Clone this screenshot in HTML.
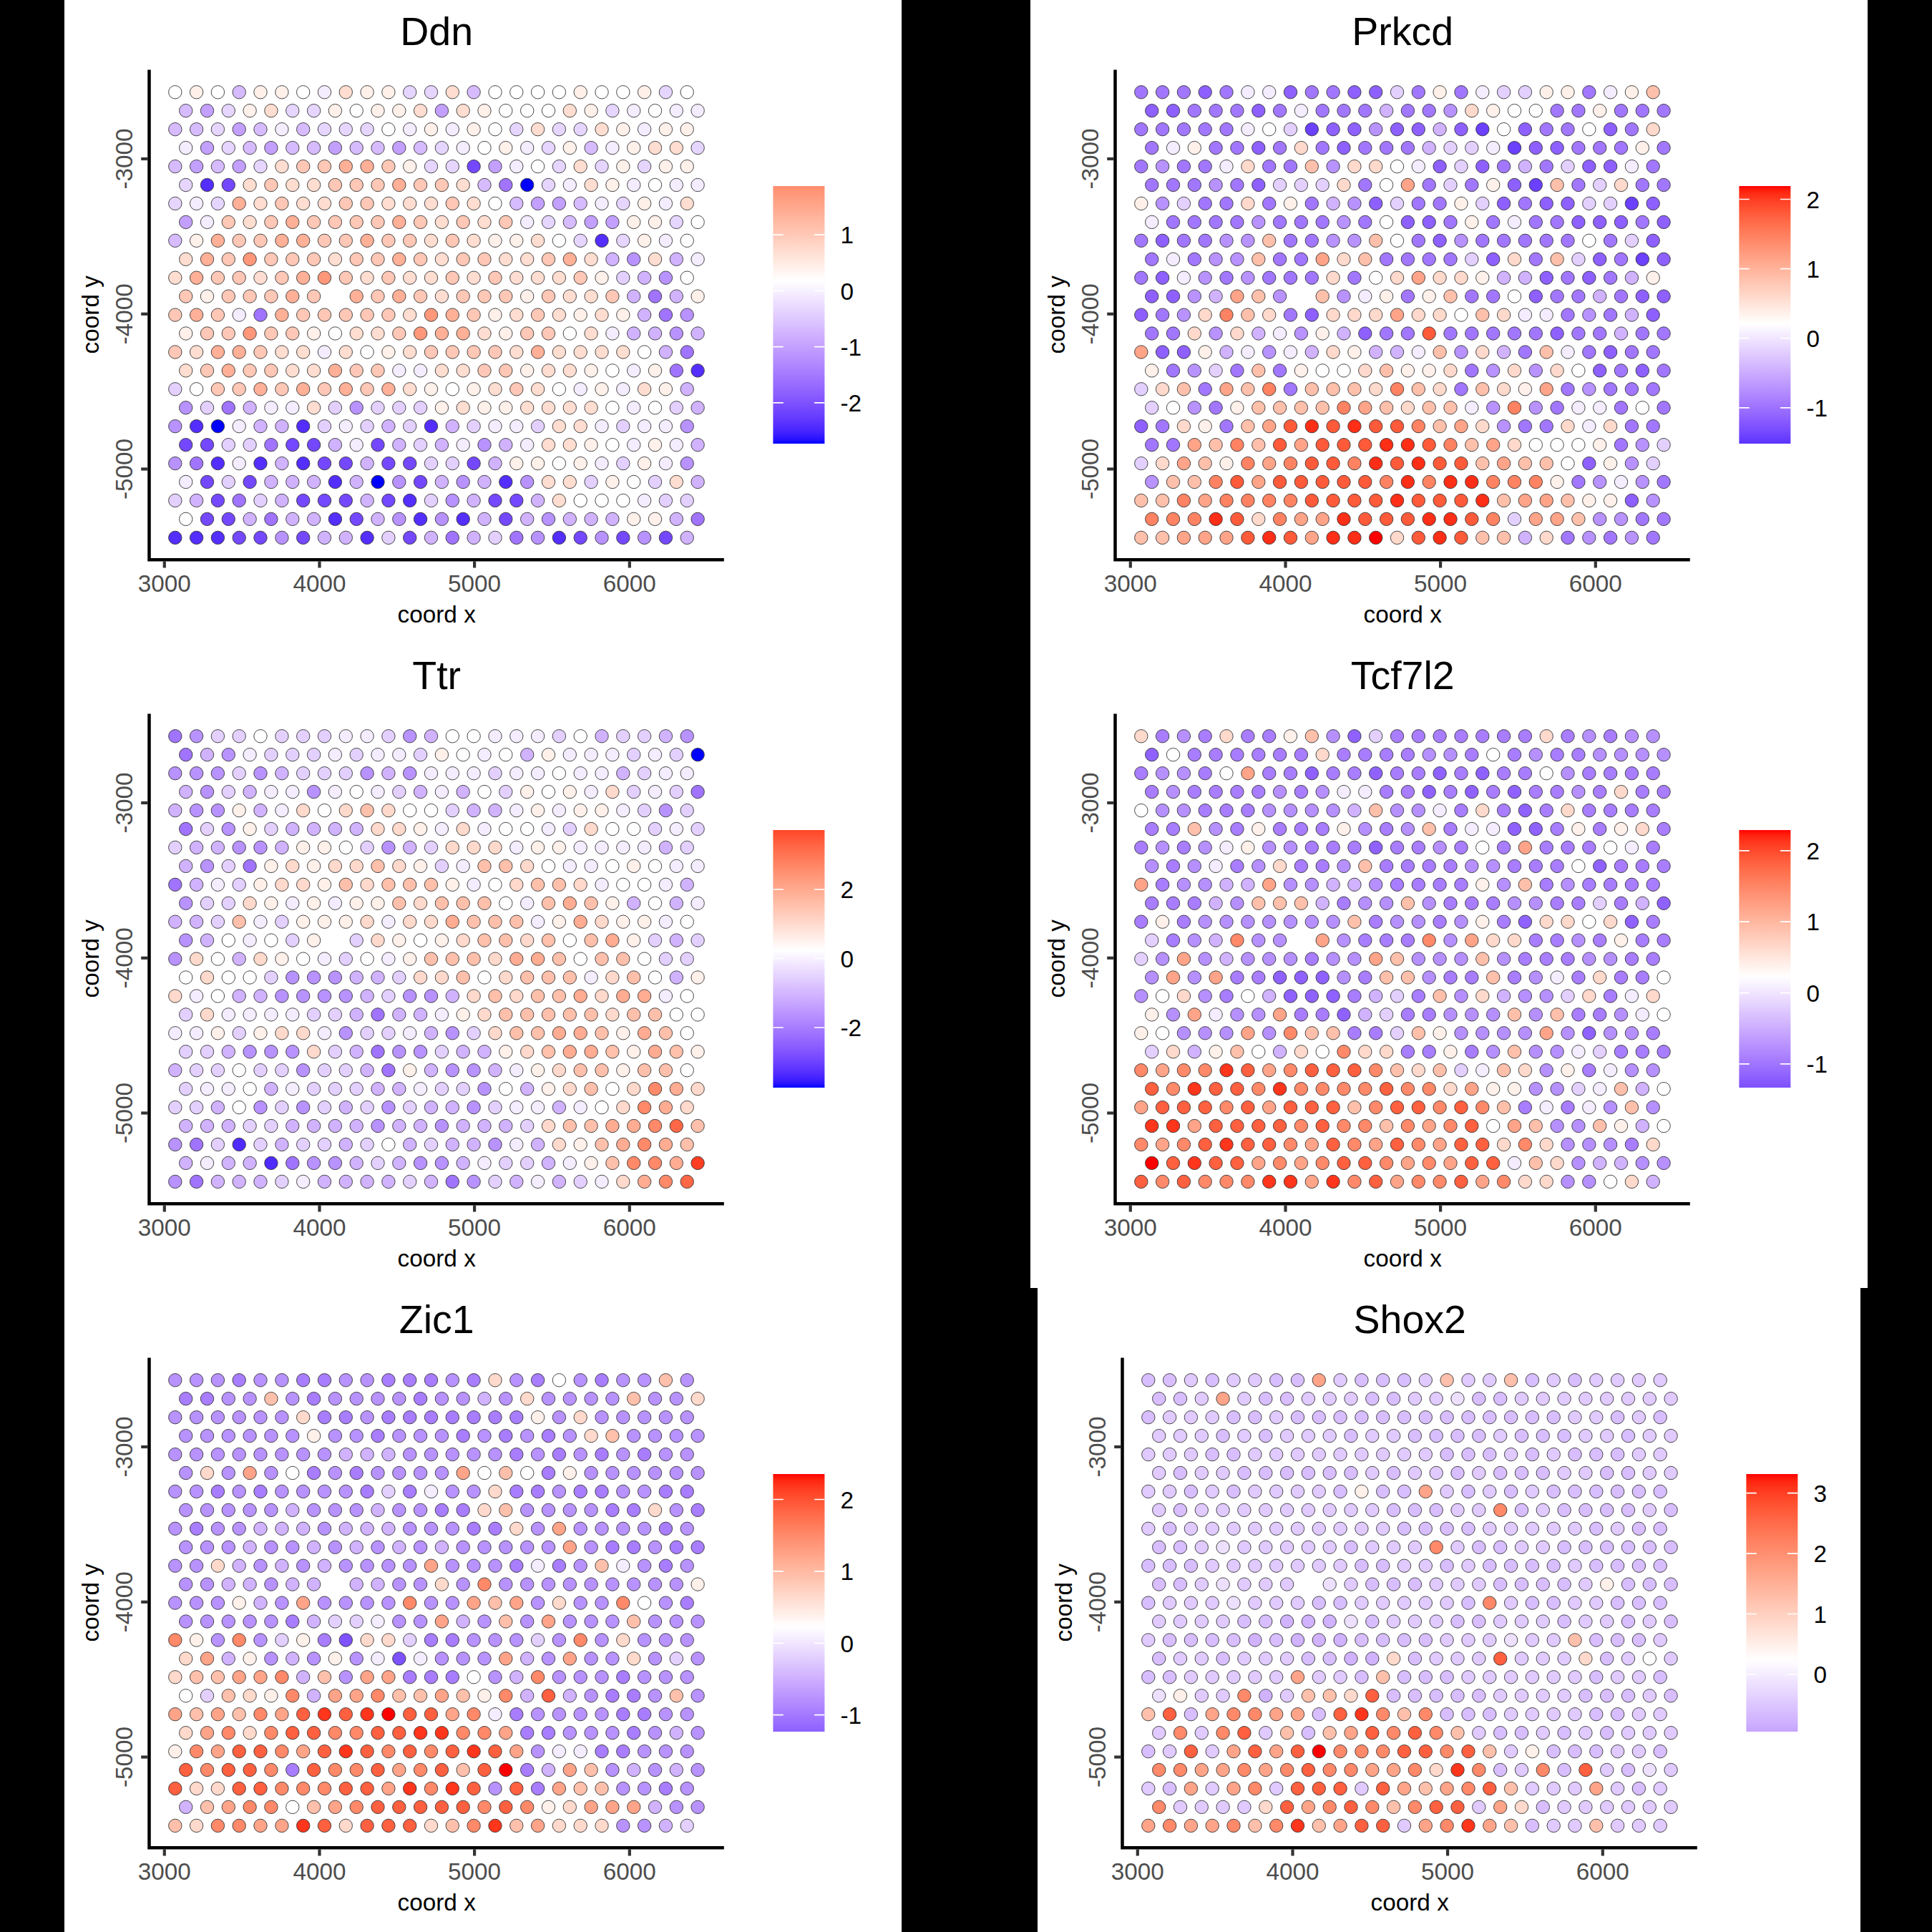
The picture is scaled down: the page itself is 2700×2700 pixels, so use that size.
<!DOCTYPE html>
<html><head><meta charset="utf-8"><title>spatial genes</title>
<style>
html,body{margin:0;padding:0;background:#000;}
svg{display:block;}
text{font-family:"Liberation Sans", sans-serif;}
.tk{fill:#4d4d4d;font-size:33.3px;}
.at{fill:#000;font-size:33.3px;}
.lg{fill:#000;font-size:33.3px;}
.ti{fill:#000;font-size:55.5px;}
circle{stroke:#333;stroke-width:0.9;}
</style></head><body>
<svg width="2700" height="2700" viewBox="0 0 2700 2700">
<rect x="0" y="0" width="2700" height="2700" fill="#000"/>
<defs>
<linearGradient id="g0" x1="0" y1="0" x2="0" y2="1"><stop offset="0.0000" stop-color="#ff8d6e"/><stop offset="0.0167" stop-color="#ff9374"/><stop offset="0.0333" stop-color="#ff987b"/><stop offset="0.0500" stop-color="#ff9e81"/><stop offset="0.0667" stop-color="#ffa387"/><stop offset="0.0833" stop-color="#ffa88e"/><stop offset="0.1000" stop-color="#ffad94"/><stop offset="0.1167" stop-color="#ffb39a"/><stop offset="0.1333" stop-color="#ffb8a1"/><stop offset="0.1500" stop-color="#ffbda7"/><stop offset="0.1667" stop-color="#ffc2ae"/><stop offset="0.1833" stop-color="#ffc7b4"/><stop offset="0.2000" stop-color="#ffccbb"/><stop offset="0.2167" stop-color="#ffd1c2"/><stop offset="0.2333" stop-color="#ffd7c8"/><stop offset="0.2500" stop-color="#ffdccf"/><stop offset="0.2667" stop-color="#ffe1d6"/><stop offset="0.2833" stop-color="#ffe6dc"/><stop offset="0.3000" stop-color="#ffebe3"/><stop offset="0.3167" stop-color="#fff0ea"/><stop offset="0.3333" stop-color="#fff5f1"/><stop offset="0.3500" stop-color="#fffaf8"/><stop offset="0.3667" stop-color="#ffffff"/><stop offset="0.3833" stop-color="#fcf9ff"/><stop offset="0.4000" stop-color="#f8f3ff"/><stop offset="0.4167" stop-color="#f5edff"/><stop offset="0.4333" stop-color="#f1e6ff"/><stop offset="0.4500" stop-color="#ede0ff"/><stop offset="0.4667" stop-color="#eadaff"/><stop offset="0.4833" stop-color="#e6d4ff"/><stop offset="0.5000" stop-color="#e2ceff"/><stop offset="0.5167" stop-color="#dec8ff"/><stop offset="0.5333" stop-color="#dac2ff"/><stop offset="0.5500" stop-color="#d6bcff"/><stop offset="0.5667" stop-color="#d2b5ff"/><stop offset="0.5833" stop-color="#ceafff"/><stop offset="0.6000" stop-color="#caa9ff"/><stop offset="0.6167" stop-color="#c5a3ff"/><stop offset="0.6333" stop-color="#c19dff"/><stop offset="0.6500" stop-color="#bc97ff"/><stop offset="0.6667" stop-color="#b891ff"/><stop offset="0.6833" stop-color="#b38bff"/><stop offset="0.7000" stop-color="#ae85ff"/><stop offset="0.7167" stop-color="#a97fff"/><stop offset="0.7333" stop-color="#a479ff"/><stop offset="0.7500" stop-color="#9f73ff"/><stop offset="0.7667" stop-color="#996dff"/><stop offset="0.7833" stop-color="#9467ff"/><stop offset="0.8000" stop-color="#8e61ff"/><stop offset="0.8167" stop-color="#885bff"/><stop offset="0.8333" stop-color="#8255ff"/><stop offset="0.8500" stop-color="#7b4eff"/><stop offset="0.8667" stop-color="#7448ff"/><stop offset="0.8833" stop-color="#6c42ff"/><stop offset="0.9000" stop-color="#643bff"/><stop offset="0.9167" stop-color="#5c34ff"/><stop offset="0.9333" stop-color="#522cff"/><stop offset="0.9500" stop-color="#4725ff"/><stop offset="0.9667" stop-color="#391cff"/><stop offset="0.9833" stop-color="#2710ff"/><stop offset="1.0000" stop-color="#0000ff"/></linearGradient>
<linearGradient id="g1" x1="0" y1="0" x2="0" y2="1"><stop offset="0.0000" stop-color="#ff0000"/><stop offset="0.0167" stop-color="#ff1f0c"/><stop offset="0.0333" stop-color="#ff2f17"/><stop offset="0.0500" stop-color="#ff3b20"/><stop offset="0.0667" stop-color="#ff4628"/><stop offset="0.0833" stop-color="#ff4f30"/><stop offset="0.1000" stop-color="#ff5837"/><stop offset="0.1167" stop-color="#ff603f"/><stop offset="0.1333" stop-color="#ff6746"/><stop offset="0.1500" stop-color="#ff6f4d"/><stop offset="0.1667" stop-color="#ff7655"/><stop offset="0.1833" stop-color="#ff7d5c"/><stop offset="0.2000" stop-color="#ff8463"/><stop offset="0.2167" stop-color="#ff8a6b"/><stop offset="0.2333" stop-color="#ff9172"/><stop offset="0.2500" stop-color="#ff977a"/><stop offset="0.2667" stop-color="#ff9e81"/><stop offset="0.2833" stop-color="#ffa489"/><stop offset="0.3000" stop-color="#ffaa90"/><stop offset="0.3167" stop-color="#ffb198"/><stop offset="0.3333" stop-color="#ffb79f"/><stop offset="0.3500" stop-color="#ffbda7"/><stop offset="0.3667" stop-color="#ffc3af"/><stop offset="0.3833" stop-color="#ffc9b7"/><stop offset="0.4000" stop-color="#ffcfbe"/><stop offset="0.4167" stop-color="#ffd5c6"/><stop offset="0.4333" stop-color="#ffdbce"/><stop offset="0.4500" stop-color="#ffe1d6"/><stop offset="0.4667" stop-color="#ffe7de"/><stop offset="0.4833" stop-color="#ffede6"/><stop offset="0.5000" stop-color="#fff3ee"/><stop offset="0.5167" stop-color="#fff9f6"/><stop offset="0.5333" stop-color="#ffffff"/><stop offset="0.5500" stop-color="#fbf8ff"/><stop offset="0.5667" stop-color="#f7f1ff"/><stop offset="0.5833" stop-color="#f3e9ff"/><stop offset="0.6000" stop-color="#eee2ff"/><stop offset="0.6167" stop-color="#eadbff"/><stop offset="0.6333" stop-color="#e5d3ff"/><stop offset="0.6500" stop-color="#e1ccff"/><stop offset="0.6667" stop-color="#dcc5ff"/><stop offset="0.6833" stop-color="#d8beff"/><stop offset="0.7000" stop-color="#d3b7ff"/><stop offset="0.7167" stop-color="#ceafff"/><stop offset="0.7333" stop-color="#c9a8ff"/><stop offset="0.7500" stop-color="#c4a1ff"/><stop offset="0.7667" stop-color="#be9aff"/><stop offset="0.7833" stop-color="#b993ff"/><stop offset="0.8000" stop-color="#b38cff"/><stop offset="0.8167" stop-color="#ae85ff"/><stop offset="0.8333" stop-color="#a87dff"/><stop offset="0.8500" stop-color="#a176ff"/><stop offset="0.8667" stop-color="#9b6fff"/><stop offset="0.8833" stop-color="#9568ff"/><stop offset="0.9000" stop-color="#8e61ff"/><stop offset="0.9167" stop-color="#8659ff"/><stop offset="0.9333" stop-color="#7f52ff"/><stop offset="0.9500" stop-color="#774bff"/><stop offset="0.9667" stop-color="#6e43ff"/><stop offset="0.9833" stop-color="#653bff"/><stop offset="1.0000" stop-color="#5a33ff"/></linearGradient>
<linearGradient id="g2" x1="0" y1="0" x2="0" y2="1"><stop offset="0.0000" stop-color="#ff4628"/><stop offset="0.0167" stop-color="#ff4f30"/><stop offset="0.0333" stop-color="#ff5838"/><stop offset="0.0500" stop-color="#ff603f"/><stop offset="0.0667" stop-color="#ff6846"/><stop offset="0.0833" stop-color="#ff6f4e"/><stop offset="0.1000" stop-color="#ff7655"/><stop offset="0.1167" stop-color="#ff7d5c"/><stop offset="0.1333" stop-color="#ff8464"/><stop offset="0.1500" stop-color="#ff8b6b"/><stop offset="0.1667" stop-color="#ff9172"/><stop offset="0.1833" stop-color="#ff987a"/><stop offset="0.2000" stop-color="#ff9e81"/><stop offset="0.2167" stop-color="#ffa489"/><stop offset="0.2333" stop-color="#ffab90"/><stop offset="0.2500" stop-color="#ffb198"/><stop offset="0.2667" stop-color="#ffb7a0"/><stop offset="0.2833" stop-color="#ffbda7"/><stop offset="0.3000" stop-color="#ffc3af"/><stop offset="0.3167" stop-color="#ffc9b7"/><stop offset="0.3333" stop-color="#ffcfbf"/><stop offset="0.3500" stop-color="#ffd5c7"/><stop offset="0.3667" stop-color="#ffdbcf"/><stop offset="0.3833" stop-color="#ffe1d7"/><stop offset="0.4000" stop-color="#ffe7df"/><stop offset="0.4167" stop-color="#ffede7"/><stop offset="0.4333" stop-color="#fff3ef"/><stop offset="0.4500" stop-color="#fff9f7"/><stop offset="0.4667" stop-color="#ffffff"/><stop offset="0.4833" stop-color="#fbf8ff"/><stop offset="0.5000" stop-color="#f7f0ff"/><stop offset="0.5167" stop-color="#f2e9ff"/><stop offset="0.5333" stop-color="#eee1ff"/><stop offset="0.5500" stop-color="#eadaff"/><stop offset="0.5667" stop-color="#e5d3ff"/><stop offset="0.5833" stop-color="#e1ccff"/><stop offset="0.6000" stop-color="#dcc4ff"/><stop offset="0.6167" stop-color="#d7bdff"/><stop offset="0.6333" stop-color="#d2b6ff"/><stop offset="0.6500" stop-color="#cdafff"/><stop offset="0.6667" stop-color="#c8a8ff"/><stop offset="0.6833" stop-color="#c3a1ff"/><stop offset="0.7000" stop-color="#be99ff"/><stop offset="0.7167" stop-color="#b892ff"/><stop offset="0.7333" stop-color="#b38bff"/><stop offset="0.7500" stop-color="#ad84ff"/><stop offset="0.7667" stop-color="#a77dff"/><stop offset="0.7833" stop-color="#a176ff"/><stop offset="0.8000" stop-color="#9b6fff"/><stop offset="0.8167" stop-color="#9467ff"/><stop offset="0.8333" stop-color="#8d60ff"/><stop offset="0.8500" stop-color="#8659ff"/><stop offset="0.8667" stop-color="#7e51ff"/><stop offset="0.8833" stop-color="#764aff"/><stop offset="0.9000" stop-color="#6d42ff"/><stop offset="0.9167" stop-color="#643aff"/><stop offset="0.9333" stop-color="#5932ff"/><stop offset="0.9500" stop-color="#4d29ff"/><stop offset="0.9667" stop-color="#3f1fff"/><stop offset="0.9833" stop-color="#2b13ff"/><stop offset="1.0000" stop-color="#0000ff"/></linearGradient>
<linearGradient id="g3" x1="0" y1="0" x2="0" y2="1"><stop offset="0.0000" stop-color="#ff0000"/><stop offset="0.0167" stop-color="#ff1e0c"/><stop offset="0.0333" stop-color="#ff2d16"/><stop offset="0.0500" stop-color="#ff391e"/><stop offset="0.0667" stop-color="#ff4326"/><stop offset="0.0833" stop-color="#ff4c2d"/><stop offset="0.1000" stop-color="#ff5535"/><stop offset="0.1167" stop-color="#ff5c3c"/><stop offset="0.1333" stop-color="#ff6443"/><stop offset="0.1500" stop-color="#ff6b49"/><stop offset="0.1667" stop-color="#ff7250"/><stop offset="0.1833" stop-color="#ff7857"/><stop offset="0.2000" stop-color="#ff7f5e"/><stop offset="0.2167" stop-color="#ff8565"/><stop offset="0.2333" stop-color="#ff8b6c"/><stop offset="0.2500" stop-color="#ff9273"/><stop offset="0.2667" stop-color="#ff987a"/><stop offset="0.2833" stop-color="#ff9e81"/><stop offset="0.3000" stop-color="#ffa388"/><stop offset="0.3167" stop-color="#ffa98f"/><stop offset="0.3333" stop-color="#ffaf96"/><stop offset="0.3500" stop-color="#ffb59d"/><stop offset="0.3667" stop-color="#ffbba4"/><stop offset="0.3833" stop-color="#ffc0ac"/><stop offset="0.4000" stop-color="#ffc6b3"/><stop offset="0.4167" stop-color="#ffccba"/><stop offset="0.4333" stop-color="#ffd1c2"/><stop offset="0.4500" stop-color="#ffd7c9"/><stop offset="0.4667" stop-color="#ffddd1"/><stop offset="0.4833" stop-color="#ffe2d8"/><stop offset="0.5000" stop-color="#ffe8e0"/><stop offset="0.5167" stop-color="#ffeee7"/><stop offset="0.5333" stop-color="#fff3ef"/><stop offset="0.5500" stop-color="#fff9f6"/><stop offset="0.5667" stop-color="#fffefe"/><stop offset="0.5833" stop-color="#fcf9ff"/><stop offset="0.6000" stop-color="#f8f2ff"/><stop offset="0.6167" stop-color="#f4ebff"/><stop offset="0.6333" stop-color="#f0e4ff"/><stop offset="0.6500" stop-color="#ecddff"/><stop offset="0.6667" stop-color="#e7d7ff"/><stop offset="0.6833" stop-color="#e3d0ff"/><stop offset="0.7000" stop-color="#dfc9ff"/><stop offset="0.7167" stop-color="#dac2ff"/><stop offset="0.7333" stop-color="#d6bbff"/><stop offset="0.7500" stop-color="#d1b5ff"/><stop offset="0.7667" stop-color="#cdaeff"/><stop offset="0.7833" stop-color="#c8a7ff"/><stop offset="0.8000" stop-color="#c3a0ff"/><stop offset="0.8167" stop-color="#be9aff"/><stop offset="0.8333" stop-color="#b993ff"/><stop offset="0.8500" stop-color="#b48cff"/><stop offset="0.8667" stop-color="#ae86ff"/><stop offset="0.8833" stop-color="#a97fff"/><stop offset="0.9000" stop-color="#a378ff"/><stop offset="0.9167" stop-color="#9d72ff"/><stop offset="0.9333" stop-color="#976bff"/><stop offset="0.9500" stop-color="#9164ff"/><stop offset="0.9667" stop-color="#8a5dff"/><stop offset="0.9833" stop-color="#8356ff"/><stop offset="1.0000" stop-color="#7c50ff"/></linearGradient>
<linearGradient id="g4" x1="0" y1="0" x2="0" y2="1"><stop offset="0.0000" stop-color="#ff0000"/><stop offset="0.0167" stop-color="#ff1d0b"/><stop offset="0.0333" stop-color="#ff2c15"/><stop offset="0.0500" stop-color="#ff381d"/><stop offset="0.0667" stop-color="#ff4225"/><stop offset="0.0833" stop-color="#ff4b2c"/><stop offset="0.1000" stop-color="#ff5333"/><stop offset="0.1167" stop-color="#ff5a3a"/><stop offset="0.1333" stop-color="#ff6140"/><stop offset="0.1500" stop-color="#ff6847"/><stop offset="0.1667" stop-color="#ff6f4e"/><stop offset="0.1833" stop-color="#ff7554"/><stop offset="0.2000" stop-color="#ff7c5b"/><stop offset="0.2167" stop-color="#ff8261"/><stop offset="0.2333" stop-color="#ff8868"/><stop offset="0.2500" stop-color="#ff8e6f"/><stop offset="0.2667" stop-color="#ff9475"/><stop offset="0.2833" stop-color="#ff9a7c"/><stop offset="0.3000" stop-color="#ff9f83"/><stop offset="0.3167" stop-color="#ffa58a"/><stop offset="0.3333" stop-color="#ffab90"/><stop offset="0.3500" stop-color="#ffb097"/><stop offset="0.3667" stop-color="#ffb69e"/><stop offset="0.3833" stop-color="#ffbba5"/><stop offset="0.4000" stop-color="#ffc1ac"/><stop offset="0.4167" stop-color="#ffc6b3"/><stop offset="0.4333" stop-color="#ffccba"/><stop offset="0.4500" stop-color="#ffd1c1"/><stop offset="0.4667" stop-color="#ffd7c8"/><stop offset="0.4833" stop-color="#ffdccf"/><stop offset="0.5000" stop-color="#ffe1d7"/><stop offset="0.5167" stop-color="#ffe7de"/><stop offset="0.5333" stop-color="#ffece5"/><stop offset="0.5500" stop-color="#fff1ec"/><stop offset="0.5667" stop-color="#fff7f4"/><stop offset="0.5833" stop-color="#fffcfb"/><stop offset="0.6000" stop-color="#fdfcff"/><stop offset="0.6167" stop-color="#faf5ff"/><stop offset="0.6333" stop-color="#f6efff"/><stop offset="0.6500" stop-color="#f2e8ff"/><stop offset="0.6667" stop-color="#eee1ff"/><stop offset="0.6833" stop-color="#eadbff"/><stop offset="0.7000" stop-color="#e6d4ff"/><stop offset="0.7167" stop-color="#e2ceff"/><stop offset="0.7333" stop-color="#dec7ff"/><stop offset="0.7500" stop-color="#d9c1ff"/><stop offset="0.7667" stop-color="#d5baff"/><stop offset="0.7833" stop-color="#d1b4ff"/><stop offset="0.8000" stop-color="#ccadff"/><stop offset="0.8167" stop-color="#c8a7ff"/><stop offset="0.8333" stop-color="#c3a0ff"/><stop offset="0.8500" stop-color="#be9aff"/><stop offset="0.8667" stop-color="#b993ff"/><stop offset="0.8833" stop-color="#b48dff"/><stop offset="0.9000" stop-color="#af87ff"/><stop offset="0.9167" stop-color="#aa80ff"/><stop offset="0.9333" stop-color="#a47aff"/><stop offset="0.9500" stop-color="#9f73ff"/><stop offset="0.9667" stop-color="#996dff"/><stop offset="0.9833" stop-color="#9366ff"/><stop offset="1.0000" stop-color="#8d60ff"/></linearGradient>
<linearGradient id="g5" x1="0" y1="0" x2="0" y2="1"><stop offset="0.0000" stop-color="#ff0000"/><stop offset="0.0167" stop-color="#ff1a09"/><stop offset="0.0333" stop-color="#ff2812"/><stop offset="0.0500" stop-color="#ff3219"/><stop offset="0.0667" stop-color="#ff3b20"/><stop offset="0.0833" stop-color="#ff4326"/><stop offset="0.1000" stop-color="#ff4a2b"/><stop offset="0.1167" stop-color="#ff5131"/><stop offset="0.1333" stop-color="#ff5737"/><stop offset="0.1500" stop-color="#ff5d3c"/><stop offset="0.1667" stop-color="#ff6342"/><stop offset="0.1833" stop-color="#ff6947"/><stop offset="0.2000" stop-color="#ff6e4d"/><stop offset="0.2167" stop-color="#ff7352"/><stop offset="0.2333" stop-color="#ff7957"/><stop offset="0.2500" stop-color="#ff7e5d"/><stop offset="0.2667" stop-color="#ff8362"/><stop offset="0.2833" stop-color="#ff8868"/><stop offset="0.3000" stop-color="#ff8d6d"/><stop offset="0.3167" stop-color="#ff9173"/><stop offset="0.3333" stop-color="#ff9678"/><stop offset="0.3500" stop-color="#ff9b7e"/><stop offset="0.3667" stop-color="#ffa083"/><stop offset="0.3833" stop-color="#ffa489"/><stop offset="0.4000" stop-color="#ffa98e"/><stop offset="0.4167" stop-color="#ffad94"/><stop offset="0.4333" stop-color="#ffb29a"/><stop offset="0.4500" stop-color="#ffb79f"/><stop offset="0.4667" stop-color="#ffbba5"/><stop offset="0.4833" stop-color="#ffc0ab"/><stop offset="0.5000" stop-color="#ffc4b0"/><stop offset="0.5167" stop-color="#ffc9b6"/><stop offset="0.5333" stop-color="#ffcdbc"/><stop offset="0.5500" stop-color="#ffd2c2"/><stop offset="0.5667" stop-color="#ffd6c8"/><stop offset="0.5833" stop-color="#ffdace"/><stop offset="0.6000" stop-color="#ffdfd3"/><stop offset="0.6167" stop-color="#ffe3d9"/><stop offset="0.6333" stop-color="#ffe8df"/><stop offset="0.6500" stop-color="#ffece5"/><stop offset="0.6667" stop-color="#fff1eb"/><stop offset="0.6833" stop-color="#fff5f1"/><stop offset="0.7000" stop-color="#fff9f7"/><stop offset="0.7167" stop-color="#fffefd"/><stop offset="0.7333" stop-color="#fdfbff"/><stop offset="0.7500" stop-color="#faf6ff"/><stop offset="0.7667" stop-color="#f7f0ff"/><stop offset="0.7833" stop-color="#f4ebff"/><stop offset="0.8000" stop-color="#f0e5ff"/><stop offset="0.8167" stop-color="#ede0ff"/><stop offset="0.8333" stop-color="#eadaff"/><stop offset="0.8500" stop-color="#e7d5ff"/><stop offset="0.8667" stop-color="#e3d0ff"/><stop offset="0.8833" stop-color="#e0caff"/><stop offset="0.9000" stop-color="#dcc5ff"/><stop offset="0.9167" stop-color="#d9c0ff"/><stop offset="0.9333" stop-color="#d5baff"/><stop offset="0.9500" stop-color="#d2b5ff"/><stop offset="0.9667" stop-color="#ceb0ff"/><stop offset="0.9833" stop-color="#caaaff"/><stop offset="1.0000" stop-color="#c7a5ff"/></linearGradient>
</defs>
<g transform="translate(0,0)">
<rect x="90" y="0" width="1170" height="900" fill="#fff"/>
<g transform="translate(0,0)">
<text class="ti" x="610.2" y="63.1" text-anchor="middle">Ddn</text>
<circle cx="244.8" cy="128.8" r="9.2" fill="#ffffff"/><circle cx="274.6" cy="128.8" r="9.2" fill="#fff0ea"/><circle cx="304.4" cy="128.8" r="9.2" fill="#ffffff"/><circle cx="334.2" cy="128.8" r="9.2" fill="#d6bbff"/><circle cx="364.0" cy="128.8" r="9.2" fill="#fff0ea"/><circle cx="393.9" cy="128.8" r="9.2" fill="#fff0ea"/><circle cx="423.7" cy="128.8" r="9.2" fill="#ffffff"/><circle cx="453.5" cy="128.8" r="9.2" fill="#f4ecff"/><circle cx="483.3" cy="128.8" r="9.2" fill="#ffddd0"/><circle cx="513.1" cy="128.8" r="9.2" fill="#fff0ea"/><circle cx="542.9" cy="128.8" r="9.2" fill="#fff0ea"/><circle cx="572.7" cy="128.8" r="9.2" fill="#e6d5ff"/><circle cx="602.5" cy="128.8" r="9.2" fill="#e6d5ff"/><circle cx="632.3" cy="128.8" r="9.2" fill="#ffddd0"/><circle cx="662.1" cy="128.8" r="9.2" fill="#d6bbff"/><circle cx="692.0" cy="128.8" r="9.2" fill="#ffffff"/><circle cx="721.8" cy="128.8" r="9.2" fill="#ffffff"/><circle cx="751.6" cy="128.8" r="9.2" fill="#ffffff"/><circle cx="781.4" cy="128.8" r="9.2" fill="#ffffff"/><circle cx="811.2" cy="128.8" r="9.2" fill="#fff0ea"/><circle cx="841.0" cy="128.8" r="9.2" fill="#ffffff"/><circle cx="870.8" cy="128.8" r="9.2" fill="#ffffff"/><circle cx="900.6" cy="128.8" r="9.2" fill="#fff0ea"/><circle cx="930.4" cy="128.8" r="9.2" fill="#e6d5ff"/><circle cx="960.2" cy="128.8" r="9.2" fill="#ffffff"/>
<circle cx="259.7" cy="154.7" r="9.2" fill="#d6bbff"/><circle cx="289.5" cy="154.7" r="9.2" fill="#c3a0ff"/><circle cx="319.3" cy="154.7" r="9.2" fill="#e6d5ff"/><circle cx="349.1" cy="154.7" r="9.2" fill="#fff0ea"/><circle cx="378.9" cy="154.7" r="9.2" fill="#ffddd0"/><circle cx="408.8" cy="154.7" r="9.2" fill="#e6d5ff"/><circle cx="438.6" cy="154.7" r="9.2" fill="#e6d5ff"/><circle cx="468.4" cy="154.7" r="9.2" fill="#fff0ea"/><circle cx="498.2" cy="154.7" r="9.2" fill="#ffffff"/><circle cx="528.0" cy="154.7" r="9.2" fill="#fff0ea"/><circle cx="557.8" cy="154.7" r="9.2" fill="#fff0ea"/><circle cx="587.6" cy="154.7" r="9.2" fill="#ffddd0"/><circle cx="617.4" cy="154.7" r="9.2" fill="#c3a0ff"/><circle cx="647.2" cy="154.7" r="9.2" fill="#ffddd0"/><circle cx="677.0" cy="154.7" r="9.2" fill="#fff0ea"/><circle cx="706.8" cy="154.7" r="9.2" fill="#ffffff"/><circle cx="736.7" cy="154.7" r="9.2" fill="#ffffff"/><circle cx="766.5" cy="154.7" r="9.2" fill="#ffffff"/><circle cx="796.3" cy="154.7" r="9.2" fill="#ffddd0"/><circle cx="826.1" cy="154.7" r="9.2" fill="#fff0ea"/><circle cx="855.9" cy="154.7" r="9.2" fill="#e6d5ff"/><circle cx="885.7" cy="154.7" r="9.2" fill="#f4ecff"/><circle cx="915.5" cy="154.7" r="9.2" fill="#ffffff"/><circle cx="945.3" cy="154.7" r="9.2" fill="#f4ecff"/><circle cx="975.1" cy="154.7" r="9.2" fill="#f4ecff"/>
<circle cx="244.8" cy="180.7" r="9.2" fill="#d6bbff"/><circle cx="274.6" cy="180.7" r="9.2" fill="#d6bbff"/><circle cx="304.4" cy="180.7" r="9.2" fill="#e6d5ff"/><circle cx="334.2" cy="180.7" r="9.2" fill="#c3a0ff"/><circle cx="364.0" cy="180.7" r="9.2" fill="#d6bbff"/><circle cx="393.9" cy="180.7" r="9.2" fill="#f4ecff"/><circle cx="423.7" cy="180.7" r="9.2" fill="#d6bbff"/><circle cx="453.5" cy="180.7" r="9.2" fill="#e6d5ff"/><circle cx="483.3" cy="180.7" r="9.2" fill="#e6d5ff"/><circle cx="513.1" cy="180.7" r="9.2" fill="#e6d5ff"/><circle cx="542.9" cy="180.7" r="9.2" fill="#ffffff"/><circle cx="572.7" cy="180.7" r="9.2" fill="#f4ecff"/><circle cx="602.5" cy="180.7" r="9.2" fill="#fff0ea"/><circle cx="632.3" cy="180.7" r="9.2" fill="#f4ecff"/><circle cx="662.1" cy="180.7" r="9.2" fill="#fff0ea"/><circle cx="692.0" cy="180.7" r="9.2" fill="#ffffff"/><circle cx="721.8" cy="180.7" r="9.2" fill="#e6d5ff"/><circle cx="751.6" cy="180.7" r="9.2" fill="#ffddd0"/><circle cx="781.4" cy="180.7" r="9.2" fill="#e6d5ff"/><circle cx="811.2" cy="180.7" r="9.2" fill="#e6d5ff"/><circle cx="841.0" cy="180.7" r="9.2" fill="#ffddd0"/><circle cx="870.8" cy="180.7" r="9.2" fill="#fff0ea"/><circle cx="900.6" cy="180.7" r="9.2" fill="#f4ecff"/><circle cx="930.4" cy="180.7" r="9.2" fill="#fff0ea"/><circle cx="960.2" cy="180.7" r="9.2" fill="#fff0ea"/>
<circle cx="259.7" cy="206.6" r="9.2" fill="#f4ecff"/><circle cx="289.5" cy="206.6" r="9.2" fill="#c3a0ff"/><circle cx="319.3" cy="206.6" r="9.2" fill="#e6d5ff"/><circle cx="349.1" cy="206.6" r="9.2" fill="#d6bbff"/><circle cx="378.9" cy="206.6" r="9.2" fill="#c3a0ff"/><circle cx="408.8" cy="206.6" r="9.2" fill="#d6bbff"/><circle cx="438.6" cy="206.6" r="9.2" fill="#d6bbff"/><circle cx="468.4" cy="206.6" r="9.2" fill="#c3a0ff"/><circle cx="498.2" cy="206.6" r="9.2" fill="#d6bbff"/><circle cx="528.0" cy="206.6" r="9.2" fill="#d6bbff"/><circle cx="557.8" cy="206.6" r="9.2" fill="#c3a0ff"/><circle cx="587.6" cy="206.6" r="9.2" fill="#d6bbff"/><circle cx="617.4" cy="206.6" r="9.2" fill="#e6d5ff"/><circle cx="647.2" cy="206.6" r="9.2" fill="#f4ecff"/><circle cx="677.0" cy="206.6" r="9.2" fill="#ffffff"/><circle cx="706.8" cy="206.6" r="9.2" fill="#fff0ea"/><circle cx="736.7" cy="206.6" r="9.2" fill="#f4ecff"/><circle cx="766.5" cy="206.6" r="9.2" fill="#e6d5ff"/><circle cx="796.3" cy="206.6" r="9.2" fill="#fff0ea"/><circle cx="826.1" cy="206.6" r="9.2" fill="#d6bbff"/><circle cx="855.9" cy="206.6" r="9.2" fill="#f4ecff"/><circle cx="885.7" cy="206.6" r="9.2" fill="#fff0ea"/><circle cx="915.5" cy="206.6" r="9.2" fill="#ffddd0"/><circle cx="945.3" cy="206.6" r="9.2" fill="#ffddd0"/><circle cx="975.1" cy="206.6" r="9.2" fill="#e6d5ff"/>
<circle cx="244.8" cy="232.6" r="9.2" fill="#d6bbff"/><circle cx="274.6" cy="232.6" r="9.2" fill="#c3a0ff"/><circle cx="304.4" cy="232.6" r="9.2" fill="#d6bbff"/><circle cx="334.2" cy="232.6" r="9.2" fill="#c3a0ff"/><circle cx="364.0" cy="232.6" r="9.2" fill="#e6d5ff"/><circle cx="393.9" cy="232.6" r="9.2" fill="#ffddd0"/><circle cx="423.7" cy="232.6" r="9.2" fill="#ffc7b5"/><circle cx="453.5" cy="232.6" r="9.2" fill="#ffc7b5"/><circle cx="483.3" cy="232.6" r="9.2" fill="#ffb097"/><circle cx="513.1" cy="232.6" r="9.2" fill="#ffb097"/><circle cx="542.9" cy="232.6" r="9.2" fill="#ffc7b5"/><circle cx="572.7" cy="232.6" r="9.2" fill="#fff0ea"/><circle cx="602.5" cy="232.6" r="9.2" fill="#e6d5ff"/><circle cx="632.3" cy="232.6" r="9.2" fill="#e6d5ff"/><circle cx="662.1" cy="232.6" r="9.2" fill="#7448ff"/><circle cx="692.0" cy="232.6" r="9.2" fill="#c3a0ff"/><circle cx="721.8" cy="232.6" r="9.2" fill="#f4ecff"/><circle cx="751.6" cy="232.6" r="9.2" fill="#ffffff"/><circle cx="781.4" cy="232.6" r="9.2" fill="#e6d5ff"/><circle cx="811.2" cy="232.6" r="9.2" fill="#ffddd0"/><circle cx="841.0" cy="232.6" r="9.2" fill="#e6d5ff"/><circle cx="870.8" cy="232.6" r="9.2" fill="#fff0ea"/><circle cx="900.6" cy="232.6" r="9.2" fill="#e6d5ff"/><circle cx="930.4" cy="232.6" r="9.2" fill="#fff0ea"/><circle cx="960.2" cy="232.6" r="9.2" fill="#fff0ea"/>
<circle cx="259.7" cy="258.5" r="9.2" fill="#e6d5ff"/><circle cx="289.5" cy="258.5" r="9.2" fill="#542eff"/><circle cx="319.3" cy="258.5" r="9.2" fill="#7448ff"/><circle cx="349.1" cy="258.5" r="9.2" fill="#ffddd0"/><circle cx="378.9" cy="258.5" r="9.2" fill="#ffc7b5"/><circle cx="408.8" cy="258.5" r="9.2" fill="#ffddd0"/><circle cx="438.6" cy="258.5" r="9.2" fill="#ffddd0"/><circle cx="468.4" cy="258.5" r="9.2" fill="#ffc7b5"/><circle cx="498.2" cy="258.5" r="9.2" fill="#ffc7b5"/><circle cx="528.0" cy="258.5" r="9.2" fill="#ffc7b5"/><circle cx="557.8" cy="258.5" r="9.2" fill="#ffb097"/><circle cx="587.6" cy="258.5" r="9.2" fill="#ffc7b5"/><circle cx="617.4" cy="258.5" r="9.2" fill="#ffc7b5"/><circle cx="647.2" cy="258.5" r="9.2" fill="#ffddd0"/><circle cx="677.0" cy="258.5" r="9.2" fill="#d6bbff"/><circle cx="706.8" cy="258.5" r="9.2" fill="#a074ff"/><circle cx="736.7" cy="258.5" r="9.2" fill="#0000ff"/><circle cx="766.5" cy="258.5" r="9.2" fill="#e6d5ff"/><circle cx="796.3" cy="258.5" r="9.2" fill="#f4ecff"/><circle cx="826.1" cy="258.5" r="9.2" fill="#ffddd0"/><circle cx="855.9" cy="258.5" r="9.2" fill="#fff0ea"/><circle cx="885.7" cy="258.5" r="9.2" fill="#f4ecff"/><circle cx="915.5" cy="258.5" r="9.2" fill="#ffffff"/><circle cx="945.3" cy="258.5" r="9.2" fill="#f4ecff"/><circle cx="975.1" cy="258.5" r="9.2" fill="#f4ecff"/>
<circle cx="244.8" cy="284.4" r="9.2" fill="#e6d5ff"/><circle cx="274.6" cy="284.4" r="9.2" fill="#f4ecff"/><circle cx="304.4" cy="284.4" r="9.2" fill="#e6d5ff"/><circle cx="334.2" cy="284.4" r="9.2" fill="#ffb097"/><circle cx="364.0" cy="284.4" r="9.2" fill="#ffddd0"/><circle cx="393.9" cy="284.4" r="9.2" fill="#ffc7b5"/><circle cx="423.7" cy="284.4" r="9.2" fill="#ffddd0"/><circle cx="453.5" cy="284.4" r="9.2" fill="#ffddd0"/><circle cx="483.3" cy="284.4" r="9.2" fill="#ffc7b5"/><circle cx="513.1" cy="284.4" r="9.2" fill="#ffc7b5"/><circle cx="542.9" cy="284.4" r="9.2" fill="#ffddd0"/><circle cx="572.7" cy="284.4" r="9.2" fill="#ffddd0"/><circle cx="602.5" cy="284.4" r="9.2" fill="#ffddd0"/><circle cx="632.3" cy="284.4" r="9.2" fill="#ffc7b5"/><circle cx="662.1" cy="284.4" r="9.2" fill="#ffddd0"/><circle cx="692.0" cy="284.4" r="9.2" fill="#ffffff"/><circle cx="721.8" cy="284.4" r="9.2" fill="#d6bbff"/><circle cx="751.6" cy="284.4" r="9.2" fill="#c3a0ff"/><circle cx="781.4" cy="284.4" r="9.2" fill="#c3a0ff"/><circle cx="811.2" cy="284.4" r="9.2" fill="#d6bbff"/><circle cx="841.0" cy="284.4" r="9.2" fill="#f4ecff"/><circle cx="870.8" cy="284.4" r="9.2" fill="#e6d5ff"/><circle cx="900.6" cy="284.4" r="9.2" fill="#fff0ea"/><circle cx="930.4" cy="284.4" r="9.2" fill="#f4ecff"/><circle cx="960.2" cy="284.4" r="9.2" fill="#ffddd0"/>
<circle cx="259.7" cy="310.4" r="9.2" fill="#c3a0ff"/><circle cx="289.5" cy="310.4" r="9.2" fill="#f4ecff"/><circle cx="319.3" cy="310.4" r="9.2" fill="#ffc7b5"/><circle cx="349.1" cy="310.4" r="9.2" fill="#ffddd0"/><circle cx="378.9" cy="310.4" r="9.2" fill="#ffc7b5"/><circle cx="408.8" cy="310.4" r="9.2" fill="#ffb097"/><circle cx="438.6" cy="310.4" r="9.2" fill="#ffc7b5"/><circle cx="468.4" cy="310.4" r="9.2" fill="#ffc7b5"/><circle cx="498.2" cy="310.4" r="9.2" fill="#ffc7b5"/><circle cx="528.0" cy="310.4" r="9.2" fill="#ffc7b5"/><circle cx="557.8" cy="310.4" r="9.2" fill="#ffb097"/><circle cx="587.6" cy="310.4" r="9.2" fill="#ffc7b5"/><circle cx="617.4" cy="310.4" r="9.2" fill="#ffddd0"/><circle cx="647.2" cy="310.4" r="9.2" fill="#ffc7b5"/><circle cx="677.0" cy="310.4" r="9.2" fill="#ffddd0"/><circle cx="706.8" cy="310.4" r="9.2" fill="#ffc7b5"/><circle cx="736.7" cy="310.4" r="9.2" fill="#f4ecff"/><circle cx="766.5" cy="310.4" r="9.2" fill="#e6d5ff"/><circle cx="796.3" cy="310.4" r="9.2" fill="#d6bbff"/><circle cx="826.1" cy="310.4" r="9.2" fill="#c3a0ff"/><circle cx="855.9" cy="310.4" r="9.2" fill="#c3a0ff"/><circle cx="885.7" cy="310.4" r="9.2" fill="#fff0ea"/><circle cx="915.5" cy="310.4" r="9.2" fill="#fff0ea"/><circle cx="945.3" cy="310.4" r="9.2" fill="#e6d5ff"/><circle cx="975.1" cy="310.4" r="9.2" fill="#ffffff"/>
<circle cx="244.8" cy="336.3" r="9.2" fill="#d6bbff"/><circle cx="274.6" cy="336.3" r="9.2" fill="#fff0ea"/><circle cx="304.4" cy="336.3" r="9.2" fill="#ffb097"/><circle cx="334.2" cy="336.3" r="9.2" fill="#ffc7b5"/><circle cx="364.0" cy="336.3" r="9.2" fill="#ffc7b5"/><circle cx="393.9" cy="336.3" r="9.2" fill="#ffb097"/><circle cx="423.7" cy="336.3" r="9.2" fill="#ffb097"/><circle cx="453.5" cy="336.3" r="9.2" fill="#ffc7b5"/><circle cx="483.3" cy="336.3" r="9.2" fill="#ffc7b5"/><circle cx="513.1" cy="336.3" r="9.2" fill="#ffb097"/><circle cx="542.9" cy="336.3" r="9.2" fill="#ffc7b5"/><circle cx="572.7" cy="336.3" r="9.2" fill="#ffc7b5"/><circle cx="602.5" cy="336.3" r="9.2" fill="#ffddd0"/><circle cx="632.3" cy="336.3" r="9.2" fill="#ffc7b5"/><circle cx="662.1" cy="336.3" r="9.2" fill="#ffddd0"/><circle cx="692.0" cy="336.3" r="9.2" fill="#fff0ea"/><circle cx="721.8" cy="336.3" r="9.2" fill="#fff0ea"/><circle cx="751.6" cy="336.3" r="9.2" fill="#ffddd0"/><circle cx="781.4" cy="336.3" r="9.2" fill="#ffffff"/><circle cx="811.2" cy="336.3" r="9.2" fill="#e6d5ff"/><circle cx="841.0" cy="336.3" r="9.2" fill="#542eff"/><circle cx="870.8" cy="336.3" r="9.2" fill="#e6d5ff"/><circle cx="900.6" cy="336.3" r="9.2" fill="#fff0ea"/><circle cx="930.4" cy="336.3" r="9.2" fill="#f4ecff"/><circle cx="960.2" cy="336.3" r="9.2" fill="#ffffff"/>
<circle cx="259.7" cy="362.3" r="9.2" fill="#ffddd0"/><circle cx="289.5" cy="362.3" r="9.2" fill="#ffb097"/><circle cx="319.3" cy="362.3" r="9.2" fill="#ffc7b5"/><circle cx="349.1" cy="362.3" r="9.2" fill="#ff987a"/><circle cx="378.9" cy="362.3" r="9.2" fill="#ffc7b5"/><circle cx="408.8" cy="362.3" r="9.2" fill="#ffc7b5"/><circle cx="438.6" cy="362.3" r="9.2" fill="#ffc7b5"/><circle cx="468.4" cy="362.3" r="9.2" fill="#ffddd0"/><circle cx="498.2" cy="362.3" r="9.2" fill="#ffc7b5"/><circle cx="528.0" cy="362.3" r="9.2" fill="#ffc7b5"/><circle cx="557.8" cy="362.3" r="9.2" fill="#ffb097"/><circle cx="587.6" cy="362.3" r="9.2" fill="#ffc7b5"/><circle cx="617.4" cy="362.3" r="9.2" fill="#ffddd0"/><circle cx="647.2" cy="362.3" r="9.2" fill="#ffc7b5"/><circle cx="677.0" cy="362.3" r="9.2" fill="#ffc7b5"/><circle cx="706.8" cy="362.3" r="9.2" fill="#ffddd0"/><circle cx="736.7" cy="362.3" r="9.2" fill="#ffddd0"/><circle cx="766.5" cy="362.3" r="9.2" fill="#ffc7b5"/><circle cx="796.3" cy="362.3" r="9.2" fill="#ffb097"/><circle cx="826.1" cy="362.3" r="9.2" fill="#ffddd0"/><circle cx="855.9" cy="362.3" r="9.2" fill="#d0b2ff"/><circle cx="885.7" cy="362.3" r="9.2" fill="#b892ff"/><circle cx="915.5" cy="362.3" r="9.2" fill="#ffddd0"/><circle cx="945.3" cy="362.3" r="9.2" fill="#d0b2ff"/><circle cx="975.1" cy="362.3" r="9.2" fill="#f4ecff"/>
<circle cx="244.8" cy="388.2" r="9.2" fill="#ffddd0"/><circle cx="274.6" cy="388.2" r="9.2" fill="#ffb097"/><circle cx="304.4" cy="388.2" r="9.2" fill="#ffc7b5"/><circle cx="334.2" cy="388.2" r="9.2" fill="#ffc7b5"/><circle cx="364.0" cy="388.2" r="9.2" fill="#ffddd0"/><circle cx="393.9" cy="388.2" r="9.2" fill="#ffc7b5"/><circle cx="423.7" cy="388.2" r="9.2" fill="#ffb097"/><circle cx="453.5" cy="388.2" r="9.2" fill="#ff987a"/><circle cx="483.3" cy="388.2" r="9.2" fill="#ffc7b5"/><circle cx="513.1" cy="388.2" r="9.2" fill="#ffddd0"/><circle cx="542.9" cy="388.2" r="9.2" fill="#ffc7b5"/><circle cx="572.7" cy="388.2" r="9.2" fill="#ffddd0"/><circle cx="602.5" cy="388.2" r="9.2" fill="#ffddd0"/><circle cx="632.3" cy="388.2" r="9.2" fill="#ffc7b5"/><circle cx="662.1" cy="388.2" r="9.2" fill="#ffddd0"/><circle cx="692.0" cy="388.2" r="9.2" fill="#ffc7b5"/><circle cx="721.8" cy="388.2" r="9.2" fill="#ffddd0"/><circle cx="751.6" cy="388.2" r="9.2" fill="#ffddd0"/><circle cx="781.4" cy="388.2" r="9.2" fill="#ffddd0"/><circle cx="811.2" cy="388.2" r="9.2" fill="#ffc7b5"/><circle cx="841.0" cy="388.2" r="9.2" fill="#fff0ea"/><circle cx="870.8" cy="388.2" r="9.2" fill="#e3d0ff"/><circle cx="900.6" cy="388.2" r="9.2" fill="#d0b2ff"/><circle cx="930.4" cy="388.2" r="9.2" fill="#b892ff"/><circle cx="960.2" cy="388.2" r="9.2" fill="#ffffff"/>
<circle cx="259.7" cy="414.1" r="9.2" fill="#ffc7b5"/><circle cx="289.5" cy="414.1" r="9.2" fill="#fff0ea"/><circle cx="319.3" cy="414.1" r="9.2" fill="#ffc7b5"/><circle cx="349.1" cy="414.1" r="9.2" fill="#ffc7b5"/><circle cx="378.9" cy="414.1" r="9.2" fill="#ffc7b5"/><circle cx="408.8" cy="414.1" r="9.2" fill="#ffb097"/><circle cx="438.6" cy="414.1" r="9.2" fill="#ffc7b5"/><circle cx="498.2" cy="414.1" r="9.2" fill="#ffb097"/><circle cx="528.0" cy="414.1" r="9.2" fill="#ffc7b5"/><circle cx="557.8" cy="414.1" r="9.2" fill="#ffb097"/><circle cx="587.6" cy="414.1" r="9.2" fill="#ffc7b5"/><circle cx="617.4" cy="414.1" r="9.2" fill="#ffddd0"/><circle cx="647.2" cy="414.1" r="9.2" fill="#ffc7b5"/><circle cx="677.0" cy="414.1" r="9.2" fill="#ffc7b5"/><circle cx="706.8" cy="414.1" r="9.2" fill="#ffc7b5"/><circle cx="736.7" cy="414.1" r="9.2" fill="#fff0ea"/><circle cx="766.5" cy="414.1" r="9.2" fill="#ffc7b5"/><circle cx="796.3" cy="414.1" r="9.2" fill="#ffddd0"/><circle cx="826.1" cy="414.1" r="9.2" fill="#ffddd0"/><circle cx="855.9" cy="414.1" r="9.2" fill="#ffc7b5"/><circle cx="885.7" cy="414.1" r="9.2" fill="#d0b2ff"/><circle cx="915.5" cy="414.1" r="9.2" fill="#a074ff"/><circle cx="945.3" cy="414.1" r="9.2" fill="#d0b2ff"/><circle cx="975.1" cy="414.1" r="9.2" fill="#fff0ea"/>
<circle cx="244.8" cy="440.1" r="9.2" fill="#ffc7b5"/><circle cx="274.6" cy="440.1" r="9.2" fill="#ffb097"/><circle cx="304.4" cy="440.1" r="9.2" fill="#ffc7b5"/><circle cx="334.2" cy="440.1" r="9.2" fill="#f4ecff"/><circle cx="364.0" cy="440.1" r="9.2" fill="#a074ff"/><circle cx="393.9" cy="440.1" r="9.2" fill="#ffb097"/><circle cx="423.7" cy="440.1" r="9.2" fill="#ffc7b5"/><circle cx="453.5" cy="440.1" r="9.2" fill="#ffc7b5"/><circle cx="483.3" cy="440.1" r="9.2" fill="#ffc7b5"/><circle cx="513.1" cy="440.1" r="9.2" fill="#ffc7b5"/><circle cx="542.9" cy="440.1" r="9.2" fill="#ffc7b5"/><circle cx="572.7" cy="440.1" r="9.2" fill="#ffddd0"/><circle cx="602.5" cy="440.1" r="9.2" fill="#ff987a"/><circle cx="632.3" cy="440.1" r="9.2" fill="#ffb097"/><circle cx="662.1" cy="440.1" r="9.2" fill="#ffc7b5"/><circle cx="692.0" cy="440.1" r="9.2" fill="#fff0ea"/><circle cx="721.8" cy="440.1" r="9.2" fill="#ffddd0"/><circle cx="751.6" cy="440.1" r="9.2" fill="#ffc7b5"/><circle cx="781.4" cy="440.1" r="9.2" fill="#ffddd0"/><circle cx="811.2" cy="440.1" r="9.2" fill="#fff0ea"/><circle cx="841.0" cy="440.1" r="9.2" fill="#ffddd0"/><circle cx="870.8" cy="440.1" r="9.2" fill="#fff0ea"/><circle cx="900.6" cy="440.1" r="9.2" fill="#d0b2ff"/><circle cx="930.4" cy="440.1" r="9.2" fill="#a074ff"/><circle cx="960.2" cy="440.1" r="9.2" fill="#b892ff"/>
<circle cx="259.7" cy="466.0" r="9.2" fill="#fff0ea"/><circle cx="289.5" cy="466.0" r="9.2" fill="#ffc7b5"/><circle cx="319.3" cy="466.0" r="9.2" fill="#ffc7b5"/><circle cx="349.1" cy="466.0" r="9.2" fill="#ff987a"/><circle cx="378.9" cy="466.0" r="9.2" fill="#ffc7b5"/><circle cx="408.8" cy="466.0" r="9.2" fill="#ffc7b5"/><circle cx="438.6" cy="466.0" r="9.2" fill="#fff0ea"/><circle cx="468.4" cy="466.0" r="9.2" fill="#ffffff"/><circle cx="498.2" cy="466.0" r="9.2" fill="#ffddd0"/><circle cx="528.0" cy="466.0" r="9.2" fill="#ffddd0"/><circle cx="557.8" cy="466.0" r="9.2" fill="#ffc7b5"/><circle cx="587.6" cy="466.0" r="9.2" fill="#ff987a"/><circle cx="617.4" cy="466.0" r="9.2" fill="#ffb097"/><circle cx="647.2" cy="466.0" r="9.2" fill="#ffb097"/><circle cx="677.0" cy="466.0" r="9.2" fill="#ffddd0"/><circle cx="706.8" cy="466.0" r="9.2" fill="#fff0ea"/><circle cx="736.7" cy="466.0" r="9.2" fill="#ffc7b5"/><circle cx="766.5" cy="466.0" r="9.2" fill="#ffc7b5"/><circle cx="796.3" cy="466.0" r="9.2" fill="#ffffff"/><circle cx="826.1" cy="466.0" r="9.2" fill="#ffddd0"/><circle cx="855.9" cy="466.0" r="9.2" fill="#f4ecff"/><circle cx="885.7" cy="466.0" r="9.2" fill="#d0b2ff"/><circle cx="915.5" cy="466.0" r="9.2" fill="#d0b2ff"/><circle cx="945.3" cy="466.0" r="9.2" fill="#b892ff"/><circle cx="975.1" cy="466.0" r="9.2" fill="#d0b2ff"/>
<circle cx="244.8" cy="492.0" r="9.2" fill="#ffc7b5"/><circle cx="274.6" cy="492.0" r="9.2" fill="#ffddd0"/><circle cx="304.4" cy="492.0" r="9.2" fill="#ffb097"/><circle cx="334.2" cy="492.0" r="9.2" fill="#ffb097"/><circle cx="364.0" cy="492.0" r="9.2" fill="#ffc7b5"/><circle cx="393.9" cy="492.0" r="9.2" fill="#ffddd0"/><circle cx="423.7" cy="492.0" r="9.2" fill="#ffddd0"/><circle cx="453.5" cy="492.0" r="9.2" fill="#f4ecff"/><circle cx="483.3" cy="492.0" r="9.2" fill="#ffddd0"/><circle cx="513.1" cy="492.0" r="9.2" fill="#ffffff"/><circle cx="542.9" cy="492.0" r="9.2" fill="#fff0ea"/><circle cx="572.7" cy="492.0" r="9.2" fill="#ffddd0"/><circle cx="602.5" cy="492.0" r="9.2" fill="#ffc7b5"/><circle cx="632.3" cy="492.0" r="9.2" fill="#ffc7b5"/><circle cx="662.1" cy="492.0" r="9.2" fill="#ffc7b5"/><circle cx="692.0" cy="492.0" r="9.2" fill="#ffc7b5"/><circle cx="721.8" cy="492.0" r="9.2" fill="#ffddd0"/><circle cx="751.6" cy="492.0" r="9.2" fill="#ffb097"/><circle cx="781.4" cy="492.0" r="9.2" fill="#ffddd0"/><circle cx="811.2" cy="492.0" r="9.2" fill="#ffddd0"/><circle cx="841.0" cy="492.0" r="9.2" fill="#ffddd0"/><circle cx="870.8" cy="492.0" r="9.2" fill="#ffddd0"/><circle cx="900.6" cy="492.0" r="9.2" fill="#ffffff"/><circle cx="930.4" cy="492.0" r="9.2" fill="#d0b2ff"/><circle cx="960.2" cy="492.0" r="9.2" fill="#a074ff"/>
<circle cx="259.7" cy="517.9" r="9.2" fill="#ffddd0"/><circle cx="289.5" cy="517.9" r="9.2" fill="#ffc7b5"/><circle cx="319.3" cy="517.9" r="9.2" fill="#ffb097"/><circle cx="349.1" cy="517.9" r="9.2" fill="#ffc7b5"/><circle cx="378.9" cy="517.9" r="9.2" fill="#ffc7b5"/><circle cx="408.8" cy="517.9" r="9.2" fill="#ffddd0"/><circle cx="438.6" cy="517.9" r="9.2" fill="#ffddd0"/><circle cx="468.4" cy="517.9" r="9.2" fill="#ffb097"/><circle cx="498.2" cy="517.9" r="9.2" fill="#ffc7b5"/><circle cx="528.0" cy="517.9" r="9.2" fill="#ffc7b5"/><circle cx="557.8" cy="517.9" r="9.2" fill="#f4ecff"/><circle cx="587.6" cy="517.9" r="9.2" fill="#f4ecff"/><circle cx="617.4" cy="517.9" r="9.2" fill="#ffddd0"/><circle cx="647.2" cy="517.9" r="9.2" fill="#ffddd0"/><circle cx="677.0" cy="517.9" r="9.2" fill="#ffc7b5"/><circle cx="706.8" cy="517.9" r="9.2" fill="#ffc7b5"/><circle cx="736.7" cy="517.9" r="9.2" fill="#fff0ea"/><circle cx="766.5" cy="517.9" r="9.2" fill="#ffddd0"/><circle cx="796.3" cy="517.9" r="9.2" fill="#ffddd0"/><circle cx="826.1" cy="517.9" r="9.2" fill="#fff0ea"/><circle cx="855.9" cy="517.9" r="9.2" fill="#ffffff"/><circle cx="885.7" cy="517.9" r="9.2" fill="#f4ecff"/><circle cx="915.5" cy="517.9" r="9.2" fill="#fff0ea"/><circle cx="945.3" cy="517.9" r="9.2" fill="#a074ff"/><circle cx="975.1" cy="517.9" r="9.2" fill="#542eff"/>
<circle cx="244.8" cy="543.8" r="9.2" fill="#e3d0ff"/><circle cx="274.6" cy="543.8" r="9.2" fill="#ffffff"/><circle cx="304.4" cy="543.8" r="9.2" fill="#ffc7b5"/><circle cx="334.2" cy="543.8" r="9.2" fill="#ffc7b5"/><circle cx="364.0" cy="543.8" r="9.2" fill="#ffb097"/><circle cx="393.9" cy="543.8" r="9.2" fill="#ffc7b5"/><circle cx="423.7" cy="543.8" r="9.2" fill="#ffb097"/><circle cx="453.5" cy="543.8" r="9.2" fill="#ffc7b5"/><circle cx="483.3" cy="543.8" r="9.2" fill="#ffb097"/><circle cx="513.1" cy="543.8" r="9.2" fill="#ffc7b5"/><circle cx="542.9" cy="543.8" r="9.2" fill="#ffb097"/><circle cx="572.7" cy="543.8" r="9.2" fill="#ffddd0"/><circle cx="602.5" cy="543.8" r="9.2" fill="#fff0ea"/><circle cx="632.3" cy="543.8" r="9.2" fill="#ffffff"/><circle cx="662.1" cy="543.8" r="9.2" fill="#fff0ea"/><circle cx="692.0" cy="543.8" r="9.2" fill="#ffddd0"/><circle cx="721.8" cy="543.8" r="9.2" fill="#ffc7b5"/><circle cx="751.6" cy="543.8" r="9.2" fill="#ffddd0"/><circle cx="781.4" cy="543.8" r="9.2" fill="#ffffff"/><circle cx="811.2" cy="543.8" r="9.2" fill="#f4ecff"/><circle cx="841.0" cy="543.8" r="9.2" fill="#fff0ea"/><circle cx="870.8" cy="543.8" r="9.2" fill="#f4ecff"/><circle cx="900.6" cy="543.8" r="9.2" fill="#ffddd0"/><circle cx="930.4" cy="543.8" r="9.2" fill="#fff0ea"/><circle cx="960.2" cy="543.8" r="9.2" fill="#d0b2ff"/>
<circle cx="259.7" cy="569.8" r="9.2" fill="#b892ff"/><circle cx="289.5" cy="569.8" r="9.2" fill="#e3d0ff"/><circle cx="319.3" cy="569.8" r="9.2" fill="#a074ff"/><circle cx="349.1" cy="569.8" r="9.2" fill="#d0b2ff"/><circle cx="378.9" cy="569.8" r="9.2" fill="#f4ecff"/><circle cx="408.8" cy="569.8" r="9.2" fill="#f4ecff"/><circle cx="438.6" cy="569.8" r="9.2" fill="#ffddd0"/><circle cx="468.4" cy="569.8" r="9.2" fill="#e3d0ff"/><circle cx="498.2" cy="569.8" r="9.2" fill="#b892ff"/><circle cx="528.0" cy="569.8" r="9.2" fill="#e3d0ff"/><circle cx="557.8" cy="569.8" r="9.2" fill="#e3d0ff"/><circle cx="587.6" cy="569.8" r="9.2" fill="#e3d0ff"/><circle cx="617.4" cy="569.8" r="9.2" fill="#fff0ea"/><circle cx="647.2" cy="569.8" r="9.2" fill="#ffddd0"/><circle cx="677.0" cy="569.8" r="9.2" fill="#fff0ea"/><circle cx="706.8" cy="569.8" r="9.2" fill="#fff0ea"/><circle cx="736.7" cy="569.8" r="9.2" fill="#ffddd0"/><circle cx="766.5" cy="569.8" r="9.2" fill="#ffddd0"/><circle cx="796.3" cy="569.8" r="9.2" fill="#ffddd0"/><circle cx="826.1" cy="569.8" r="9.2" fill="#ffddd0"/><circle cx="855.9" cy="569.8" r="9.2" fill="#ffffff"/><circle cx="885.7" cy="569.8" r="9.2" fill="#f4ecff"/><circle cx="915.5" cy="569.8" r="9.2" fill="#ffffff"/><circle cx="945.3" cy="569.8" r="9.2" fill="#e3d0ff"/><circle cx="975.1" cy="569.8" r="9.2" fill="#d0b2ff"/>
<circle cx="244.8" cy="595.7" r="9.2" fill="#b892ff"/><circle cx="274.6" cy="595.7" r="9.2" fill="#542eff"/><circle cx="304.4" cy="595.7" r="9.2" fill="#0000ff"/><circle cx="334.2" cy="595.7" r="9.2" fill="#f4ecff"/><circle cx="364.0" cy="595.7" r="9.2" fill="#d0b2ff"/><circle cx="393.9" cy="595.7" r="9.2" fill="#d0b2ff"/><circle cx="423.7" cy="595.7" r="9.2" fill="#542eff"/><circle cx="453.5" cy="595.7" r="9.2" fill="#e3d0ff"/><circle cx="483.3" cy="595.7" r="9.2" fill="#f4ecff"/><circle cx="513.1" cy="595.7" r="9.2" fill="#e3d0ff"/><circle cx="542.9" cy="595.7" r="9.2" fill="#d0b2ff"/><circle cx="572.7" cy="595.7" r="9.2" fill="#e3d0ff"/><circle cx="602.5" cy="595.7" r="9.2" fill="#542eff"/><circle cx="632.3" cy="595.7" r="9.2" fill="#d0b2ff"/><circle cx="662.1" cy="595.7" r="9.2" fill="#e3d0ff"/><circle cx="692.0" cy="595.7" r="9.2" fill="#f4ecff"/><circle cx="721.8" cy="595.7" r="9.2" fill="#f4ecff"/><circle cx="751.6" cy="595.7" r="9.2" fill="#e3d0ff"/><circle cx="781.4" cy="595.7" r="9.2" fill="#ffddd0"/><circle cx="811.2" cy="595.7" r="9.2" fill="#ffddd0"/><circle cx="841.0" cy="595.7" r="9.2" fill="#f4ecff"/><circle cx="870.8" cy="595.7" r="9.2" fill="#e3d0ff"/><circle cx="900.6" cy="595.7" r="9.2" fill="#f4ecff"/><circle cx="930.4" cy="595.7" r="9.2" fill="#f4ecff"/><circle cx="960.2" cy="595.7" r="9.2" fill="#b892ff"/>
<circle cx="259.7" cy="621.7" r="9.2" fill="#7448ff"/><circle cx="289.5" cy="621.7" r="9.2" fill="#7448ff"/><circle cx="319.3" cy="621.7" r="9.2" fill="#e3d0ff"/><circle cx="349.1" cy="621.7" r="9.2" fill="#e3d0ff"/><circle cx="378.9" cy="621.7" r="9.2" fill="#a074ff"/><circle cx="408.8" cy="621.7" r="9.2" fill="#7448ff"/><circle cx="438.6" cy="621.7" r="9.2" fill="#7448ff"/><circle cx="468.4" cy="621.7" r="9.2" fill="#d0b2ff"/><circle cx="498.2" cy="621.7" r="9.2" fill="#f4ecff"/><circle cx="528.0" cy="621.7" r="9.2" fill="#7448ff"/><circle cx="557.8" cy="621.7" r="9.2" fill="#d0b2ff"/><circle cx="587.6" cy="621.7" r="9.2" fill="#e3d0ff"/><circle cx="617.4" cy="621.7" r="9.2" fill="#d0b2ff"/><circle cx="647.2" cy="621.7" r="9.2" fill="#f4ecff"/><circle cx="677.0" cy="621.7" r="9.2" fill="#b892ff"/><circle cx="706.8" cy="621.7" r="9.2" fill="#d0b2ff"/><circle cx="736.7" cy="621.7" r="9.2" fill="#f4ecff"/><circle cx="766.5" cy="621.7" r="9.2" fill="#ffddd0"/><circle cx="796.3" cy="621.7" r="9.2" fill="#ffddd0"/><circle cx="826.1" cy="621.7" r="9.2" fill="#fff0ea"/><circle cx="855.9" cy="621.7" r="9.2" fill="#ffffff"/><circle cx="885.7" cy="621.7" r="9.2" fill="#f4ecff"/><circle cx="915.5" cy="621.7" r="9.2" fill="#fff0ea"/><circle cx="945.3" cy="621.7" r="9.2" fill="#f4ecff"/><circle cx="975.1" cy="621.7" r="9.2" fill="#d0b2ff"/>
<circle cx="244.8" cy="647.6" r="9.2" fill="#b892ff"/><circle cx="274.6" cy="647.6" r="9.2" fill="#a074ff"/><circle cx="304.4" cy="647.6" r="9.2" fill="#542eff"/><circle cx="334.2" cy="647.6" r="9.2" fill="#f4ecff"/><circle cx="364.0" cy="647.6" r="9.2" fill="#542eff"/><circle cx="393.9" cy="647.6" r="9.2" fill="#d0b2ff"/><circle cx="423.7" cy="647.6" r="9.2" fill="#542eff"/><circle cx="453.5" cy="647.6" r="9.2" fill="#7448ff"/><circle cx="483.3" cy="647.6" r="9.2" fill="#7448ff"/><circle cx="513.1" cy="647.6" r="9.2" fill="#d0b2ff"/><circle cx="542.9" cy="647.6" r="9.2" fill="#7448ff"/><circle cx="572.7" cy="647.6" r="9.2" fill="#7448ff"/><circle cx="602.5" cy="647.6" r="9.2" fill="#e3d0ff"/><circle cx="632.3" cy="647.6" r="9.2" fill="#e3d0ff"/><circle cx="662.1" cy="647.6" r="9.2" fill="#7448ff"/><circle cx="692.0" cy="647.6" r="9.2" fill="#d0b2ff"/><circle cx="721.8" cy="647.6" r="9.2" fill="#fff0ea"/><circle cx="751.6" cy="647.6" r="9.2" fill="#fff0ea"/><circle cx="781.4" cy="647.6" r="9.2" fill="#ffffff"/><circle cx="811.2" cy="647.6" r="9.2" fill="#fff0ea"/><circle cx="841.0" cy="647.6" r="9.2" fill="#f4ecff"/><circle cx="870.8" cy="647.6" r="9.2" fill="#e3d0ff"/><circle cx="900.6" cy="647.6" r="9.2" fill="#fff0ea"/><circle cx="930.4" cy="647.6" r="9.2" fill="#f4ecff"/><circle cx="960.2" cy="647.6" r="9.2" fill="#b892ff"/>
<circle cx="259.7" cy="673.5" r="9.2" fill="#f4ecff"/><circle cx="289.5" cy="673.5" r="9.2" fill="#7448ff"/><circle cx="319.3" cy="673.5" r="9.2" fill="#e3d0ff"/><circle cx="349.1" cy="673.5" r="9.2" fill="#7448ff"/><circle cx="378.9" cy="673.5" r="9.2" fill="#d0b2ff"/><circle cx="408.8" cy="673.5" r="9.2" fill="#d0b2ff"/><circle cx="438.6" cy="673.5" r="9.2" fill="#d0b2ff"/><circle cx="468.4" cy="673.5" r="9.2" fill="#542eff"/><circle cx="498.2" cy="673.5" r="9.2" fill="#d0b2ff"/><circle cx="528.0" cy="673.5" r="9.2" fill="#0000ff"/><circle cx="557.8" cy="673.5" r="9.2" fill="#b892ff"/><circle cx="587.6" cy="673.5" r="9.2" fill="#7448ff"/><circle cx="617.4" cy="673.5" r="9.2" fill="#d0b2ff"/><circle cx="647.2" cy="673.5" r="9.2" fill="#b892ff"/><circle cx="677.0" cy="673.5" r="9.2" fill="#d0b2ff"/><circle cx="706.8" cy="673.5" r="9.2" fill="#542eff"/><circle cx="736.7" cy="673.5" r="9.2" fill="#b892ff"/><circle cx="766.5" cy="673.5" r="9.2" fill="#ffddd0"/><circle cx="796.3" cy="673.5" r="9.2" fill="#ffddd0"/><circle cx="826.1" cy="673.5" r="9.2" fill="#e3d0ff"/><circle cx="855.9" cy="673.5" r="9.2" fill="#fff0ea"/><circle cx="885.7" cy="673.5" r="9.2" fill="#ffffff"/><circle cx="915.5" cy="673.5" r="9.2" fill="#e3d0ff"/><circle cx="945.3" cy="673.5" r="9.2" fill="#ffddd0"/><circle cx="975.1" cy="673.5" r="9.2" fill="#d0b2ff"/>
<circle cx="244.8" cy="699.5" r="9.2" fill="#e3d0ff"/><circle cx="274.6" cy="699.5" r="9.2" fill="#d0b2ff"/><circle cx="304.4" cy="699.5" r="9.2" fill="#7448ff"/><circle cx="334.2" cy="699.5" r="9.2" fill="#a074ff"/><circle cx="364.0" cy="699.5" r="9.2" fill="#e3d0ff"/><circle cx="393.9" cy="699.5" r="9.2" fill="#d0b2ff"/><circle cx="423.7" cy="699.5" r="9.2" fill="#7448ff"/><circle cx="453.5" cy="699.5" r="9.2" fill="#7448ff"/><circle cx="483.3" cy="699.5" r="9.2" fill="#7448ff"/><circle cx="513.1" cy="699.5" r="9.2" fill="#d0b2ff"/><circle cx="542.9" cy="699.5" r="9.2" fill="#7448ff"/><circle cx="572.7" cy="699.5" r="9.2" fill="#542eff"/><circle cx="602.5" cy="699.5" r="9.2" fill="#e3d0ff"/><circle cx="632.3" cy="699.5" r="9.2" fill="#b892ff"/><circle cx="662.1" cy="699.5" r="9.2" fill="#d0b2ff"/><circle cx="692.0" cy="699.5" r="9.2" fill="#7448ff"/><circle cx="721.8" cy="699.5" r="9.2" fill="#7448ff"/><circle cx="751.6" cy="699.5" r="9.2" fill="#d0b2ff"/><circle cx="781.4" cy="699.5" r="9.2" fill="#ffddd0"/><circle cx="811.2" cy="699.5" r="9.2" fill="#ffffff"/><circle cx="841.0" cy="699.5" r="9.2" fill="#ffffff"/><circle cx="870.8" cy="699.5" r="9.2" fill="#ffffff"/><circle cx="900.6" cy="699.5" r="9.2" fill="#f4ecff"/><circle cx="930.4" cy="699.5" r="9.2" fill="#e3d0ff"/><circle cx="960.2" cy="699.5" r="9.2" fill="#e3d0ff"/>
<circle cx="259.7" cy="725.4" r="9.2" fill="#ffffff"/><circle cx="289.5" cy="725.4" r="9.2" fill="#7448ff"/><circle cx="319.3" cy="725.4" r="9.2" fill="#7448ff"/><circle cx="349.1" cy="725.4" r="9.2" fill="#d0b2ff"/><circle cx="378.9" cy="725.4" r="9.2" fill="#a074ff"/><circle cx="408.8" cy="725.4" r="9.2" fill="#d0b2ff"/><circle cx="438.6" cy="725.4" r="9.2" fill="#d0b2ff"/><circle cx="468.4" cy="725.4" r="9.2" fill="#542eff"/><circle cx="498.2" cy="725.4" r="9.2" fill="#7448ff"/><circle cx="528.0" cy="725.4" r="9.2" fill="#d0b2ff"/><circle cx="557.8" cy="725.4" r="9.2" fill="#b892ff"/><circle cx="587.6" cy="725.4" r="9.2" fill="#542eff"/><circle cx="617.4" cy="725.4" r="9.2" fill="#b892ff"/><circle cx="647.2" cy="725.4" r="9.2" fill="#542eff"/><circle cx="677.0" cy="725.4" r="9.2" fill="#d0b2ff"/><circle cx="706.8" cy="725.4" r="9.2" fill="#7448ff"/><circle cx="736.7" cy="725.4" r="9.2" fill="#d0b2ff"/><circle cx="766.5" cy="725.4" r="9.2" fill="#b892ff"/><circle cx="796.3" cy="725.4" r="9.2" fill="#d0b2ff"/><circle cx="826.1" cy="725.4" r="9.2" fill="#d0b2ff"/><circle cx="855.9" cy="725.4" r="9.2" fill="#d0b2ff"/><circle cx="885.7" cy="725.4" r="9.2" fill="#fff0ea"/><circle cx="915.5" cy="725.4" r="9.2" fill="#fff0ea"/><circle cx="945.3" cy="725.4" r="9.2" fill="#d0b2ff"/><circle cx="975.1" cy="725.4" r="9.2" fill="#a074ff"/>
<circle cx="244.8" cy="751.4" r="9.2" fill="#542eff"/><circle cx="274.6" cy="751.4" r="9.2" fill="#542eff"/><circle cx="304.4" cy="751.4" r="9.2" fill="#542eff"/><circle cx="334.2" cy="751.4" r="9.2" fill="#7448ff"/><circle cx="364.0" cy="751.4" r="9.2" fill="#7448ff"/><circle cx="393.9" cy="751.4" r="9.2" fill="#b892ff"/><circle cx="423.7" cy="751.4" r="9.2" fill="#7448ff"/><circle cx="453.5" cy="751.4" r="9.2" fill="#d0b2ff"/><circle cx="483.3" cy="751.4" r="9.2" fill="#d0b2ff"/><circle cx="513.1" cy="751.4" r="9.2" fill="#542eff"/><circle cx="542.9" cy="751.4" r="9.2" fill="#e3d0ff"/><circle cx="572.7" cy="751.4" r="9.2" fill="#7448ff"/><circle cx="602.5" cy="751.4" r="9.2" fill="#d0b2ff"/><circle cx="632.3" cy="751.4" r="9.2" fill="#a074ff"/><circle cx="662.1" cy="751.4" r="9.2" fill="#d0b2ff"/><circle cx="692.0" cy="751.4" r="9.2" fill="#e3d0ff"/><circle cx="721.8" cy="751.4" r="9.2" fill="#a074ff"/><circle cx="751.6" cy="751.4" r="9.2" fill="#b892ff"/><circle cx="781.4" cy="751.4" r="9.2" fill="#542eff"/><circle cx="811.2" cy="751.4" r="9.2" fill="#7448ff"/><circle cx="841.0" cy="751.4" r="9.2" fill="#b892ff"/><circle cx="870.8" cy="751.4" r="9.2" fill="#7448ff"/><circle cx="900.6" cy="751.4" r="9.2" fill="#b892ff"/><circle cx="930.4" cy="751.4" r="9.2" fill="#7448ff"/><circle cx="960.2" cy="751.4" r="9.2" fill="#d0b2ff"/>
<path d="M208.5 97.5V782.2H1011.8" fill="none" stroke="#000" stroke-width="4.5" stroke-linejoin="miter"/>
<path d="M229.8 784.4v9.1" stroke="#333" stroke-width="4.2" fill="none"/><text class="tk" x="229.8" y="827.3" text-anchor="middle">3000</text>
<path d="M446.5 784.4v9.1" stroke="#333" stroke-width="4.2" fill="none"/><text class="tk" x="446.5" y="827.3" text-anchor="middle">4000</text>
<path d="M663.1 784.4v9.1" stroke="#333" stroke-width="4.2" fill="none"/><text class="tk" x="663.1" y="827.3" text-anchor="middle">5000</text>
<path d="M879.8 784.4v9.1" stroke="#333" stroke-width="4.2" fill="none"/><text class="tk" x="879.8" y="827.3" text-anchor="middle">6000</text>
<path d="M206.3 222.0h-9.1" stroke="#333" stroke-width="4.2" fill="none"/><text class="tk" transform="translate(185.2,222.0) rotate(-90)" text-anchor="middle">-3000</text>
<path d="M206.3 438.8h-9.1" stroke="#333" stroke-width="4.2" fill="none"/><text class="tk" transform="translate(185.2,438.8) rotate(-90)" text-anchor="middle">-4000</text>
<path d="M206.3 655.5h-9.1" stroke="#333" stroke-width="4.2" fill="none"/><text class="tk" transform="translate(185.2,655.5) rotate(-90)" text-anchor="middle">-5000</text>
<text class="at" x="610.2" y="870.2" text-anchor="middle">coord x</text>
<text class="at" transform="translate(137.8,439.8) rotate(-90)" text-anchor="middle">coord y</text>
<rect x="1080.4" y="260" width="72" height="360" fill="url(#g0)"/>
<path d="M1080.4 328.1h14.4M1138 328.1h14.4" stroke="#fff" stroke-width="1.7" fill="none"/><text class="lg" x="1174.5" y="340.3">1</text>
<path d="M1080.4 406.3h14.4M1138 406.3h14.4" stroke="#fff" stroke-width="1.7" fill="none"/><text class="lg" x="1174.5" y="418.5">0</text>
<path d="M1080.4 484.6h14.4M1138 484.6h14.4" stroke="#fff" stroke-width="1.7" fill="none"/><text class="lg" x="1174.5" y="496.8">-1</text>
<path d="M1080.4 562.9h14.4M1138 562.9h14.4" stroke="#fff" stroke-width="1.7" fill="none"/><text class="lg" x="1174.5" y="575.1">-2</text>
</g></g>
<g transform="translate(1350,0)">
<rect x="90" y="0" width="1170" height="900" fill="#fff"/>
<g transform="translate(0,0)">
<text class="ti" x="610.2" y="63.1" text-anchor="middle">Prkcd</text>
<circle cx="244.8" cy="128.8" r="9.2" fill="#a277ff"/><circle cx="274.6" cy="128.8" r="9.2" fill="#a277ff"/><circle cx="304.4" cy="128.8" r="9.2" fill="#a277ff"/><circle cx="334.2" cy="128.8" r="9.2" fill="#8d60ff"/><circle cx="364.0" cy="128.8" r="9.2" fill="#a277ff"/><circle cx="393.9" cy="128.8" r="9.2" fill="#f4ecff"/><circle cx="423.7" cy="128.8" r="9.2" fill="#f4ecff"/><circle cx="453.5" cy="128.8" r="9.2" fill="#8d60ff"/><circle cx="483.3" cy="128.8" r="9.2" fill="#a277ff"/><circle cx="513.1" cy="128.8" r="9.2" fill="#a277ff"/><circle cx="542.9" cy="128.8" r="9.2" fill="#8d60ff"/><circle cx="572.7" cy="128.8" r="9.2" fill="#8d60ff"/><circle cx="602.5" cy="128.8" r="9.2" fill="#e3d0ff"/><circle cx="632.3" cy="128.8" r="9.2" fill="#a277ff"/><circle cx="662.1" cy="128.8" r="9.2" fill="#fff0ea"/><circle cx="692.0" cy="128.8" r="9.2" fill="#a277ff"/><circle cx="721.8" cy="128.8" r="9.2" fill="#f4ecff"/><circle cx="751.6" cy="128.8" r="9.2" fill="#e3d0ff"/><circle cx="781.4" cy="128.8" r="9.2" fill="#e3d0ff"/><circle cx="811.2" cy="128.8" r="9.2" fill="#fff0ea"/><circle cx="841.0" cy="128.8" r="9.2" fill="#fff0ea"/><circle cx="870.8" cy="128.8" r="9.2" fill="#a277ff"/><circle cx="900.6" cy="128.8" r="9.2" fill="#f4ecff"/><circle cx="930.4" cy="128.8" r="9.2" fill="#fff0ea"/><circle cx="960.2" cy="128.8" r="9.2" fill="#ffc0ab"/>
<circle cx="259.7" cy="154.7" r="9.2" fill="#8d60ff"/><circle cx="289.5" cy="154.7" r="9.2" fill="#8d60ff"/><circle cx="319.3" cy="154.7" r="9.2" fill="#a277ff"/><circle cx="349.1" cy="154.7" r="9.2" fill="#a277ff"/><circle cx="378.9" cy="154.7" r="9.2" fill="#a277ff"/><circle cx="408.8" cy="154.7" r="9.2" fill="#8d60ff"/><circle cx="438.6" cy="154.7" r="9.2" fill="#a277ff"/><circle cx="468.4" cy="154.7" r="9.2" fill="#f4ecff"/><circle cx="498.2" cy="154.7" r="9.2" fill="#a277ff"/><circle cx="528.0" cy="154.7" r="9.2" fill="#a277ff"/><circle cx="557.8" cy="154.7" r="9.2" fill="#a277ff"/><circle cx="587.6" cy="154.7" r="9.2" fill="#d0b2ff"/><circle cx="617.4" cy="154.7" r="9.2" fill="#a277ff"/><circle cx="647.2" cy="154.7" r="9.2" fill="#a277ff"/><circle cx="677.0" cy="154.7" r="9.2" fill="#b892ff"/><circle cx="706.8" cy="154.7" r="9.2" fill="#ffd9cb"/><circle cx="736.7" cy="154.7" r="9.2" fill="#fff0ea"/><circle cx="766.5" cy="154.7" r="9.2" fill="#ffffff"/><circle cx="796.3" cy="154.7" r="9.2" fill="#ffffff"/><circle cx="826.1" cy="154.7" r="9.2" fill="#a277ff"/><circle cx="855.9" cy="154.7" r="9.2" fill="#a277ff"/><circle cx="885.7" cy="154.7" r="9.2" fill="#fff0ea"/><circle cx="915.5" cy="154.7" r="9.2" fill="#a277ff"/><circle cx="945.3" cy="154.7" r="9.2" fill="#a277ff"/><circle cx="975.1" cy="154.7" r="9.2" fill="#a277ff"/>
<circle cx="244.8" cy="180.7" r="9.2" fill="#a277ff"/><circle cx="274.6" cy="180.7" r="9.2" fill="#a277ff"/><circle cx="304.4" cy="180.7" r="9.2" fill="#a277ff"/><circle cx="334.2" cy="180.7" r="9.2" fill="#a277ff"/><circle cx="364.0" cy="180.7" r="9.2" fill="#a277ff"/><circle cx="393.9" cy="180.7" r="9.2" fill="#f4ecff"/><circle cx="423.7" cy="180.7" r="9.2" fill="#ffffff"/><circle cx="453.5" cy="180.7" r="9.2" fill="#e3d0ff"/><circle cx="483.3" cy="180.7" r="9.2" fill="#6b40ff"/><circle cx="513.1" cy="180.7" r="9.2" fill="#8d60ff"/><circle cx="542.9" cy="180.7" r="9.2" fill="#8d60ff"/><circle cx="572.7" cy="180.7" r="9.2" fill="#b892ff"/><circle cx="602.5" cy="180.7" r="9.2" fill="#8d60ff"/><circle cx="632.3" cy="180.7" r="9.2" fill="#8d60ff"/><circle cx="662.1" cy="180.7" r="9.2" fill="#d0b2ff"/><circle cx="692.0" cy="180.7" r="9.2" fill="#8d60ff"/><circle cx="721.8" cy="180.7" r="9.2" fill="#6b40ff"/><circle cx="751.6" cy="180.7" r="9.2" fill="#ffffff"/><circle cx="781.4" cy="180.7" r="9.2" fill="#8d60ff"/><circle cx="811.2" cy="180.7" r="9.2" fill="#a277ff"/><circle cx="841.0" cy="180.7" r="9.2" fill="#a277ff"/><circle cx="870.8" cy="180.7" r="9.2" fill="#ffffff"/><circle cx="900.6" cy="180.7" r="9.2" fill="#8d60ff"/><circle cx="930.4" cy="180.7" r="9.2" fill="#a277ff"/><circle cx="960.2" cy="180.7" r="9.2" fill="#ffd9cb"/>
<circle cx="259.7" cy="206.6" r="9.2" fill="#a277ff"/><circle cx="289.5" cy="206.6" r="9.2" fill="#f4ecff"/><circle cx="319.3" cy="206.6" r="9.2" fill="#fff0ea"/><circle cx="349.1" cy="206.6" r="9.2" fill="#a277ff"/><circle cx="378.9" cy="206.6" r="9.2" fill="#a277ff"/><circle cx="408.8" cy="206.6" r="9.2" fill="#8d60ff"/><circle cx="438.6" cy="206.6" r="9.2" fill="#a277ff"/><circle cx="468.4" cy="206.6" r="9.2" fill="#ffd9cb"/><circle cx="498.2" cy="206.6" r="9.2" fill="#a277ff"/><circle cx="528.0" cy="206.6" r="9.2" fill="#8d60ff"/><circle cx="557.8" cy="206.6" r="9.2" fill="#a277ff"/><circle cx="587.6" cy="206.6" r="9.2" fill="#a277ff"/><circle cx="617.4" cy="206.6" r="9.2" fill="#a277ff"/><circle cx="647.2" cy="206.6" r="9.2" fill="#d0b2ff"/><circle cx="677.0" cy="206.6" r="9.2" fill="#e3d0ff"/><circle cx="706.8" cy="206.6" r="9.2" fill="#e3d0ff"/><circle cx="736.7" cy="206.6" r="9.2" fill="#f4ecff"/><circle cx="766.5" cy="206.6" r="9.2" fill="#6b40ff"/><circle cx="796.3" cy="206.6" r="9.2" fill="#8d60ff"/><circle cx="826.1" cy="206.6" r="9.2" fill="#8d60ff"/><circle cx="855.9" cy="206.6" r="9.2" fill="#a277ff"/><circle cx="885.7" cy="206.6" r="9.2" fill="#a277ff"/><circle cx="915.5" cy="206.6" r="9.2" fill="#a277ff"/><circle cx="945.3" cy="206.6" r="9.2" fill="#fff0ea"/><circle cx="975.1" cy="206.6" r="9.2" fill="#a277ff"/>
<circle cx="244.8" cy="232.6" r="9.2" fill="#a277ff"/><circle cx="274.6" cy="232.6" r="9.2" fill="#b892ff"/><circle cx="304.4" cy="232.6" r="9.2" fill="#a277ff"/><circle cx="334.2" cy="232.6" r="9.2" fill="#a277ff"/><circle cx="364.0" cy="232.6" r="9.2" fill="#f4ecff"/><circle cx="393.9" cy="232.6" r="9.2" fill="#ffd9cb"/><circle cx="423.7" cy="232.6" r="9.2" fill="#a277ff"/><circle cx="453.5" cy="232.6" r="9.2" fill="#a277ff"/><circle cx="483.3" cy="232.6" r="9.2" fill="#ffc0ab"/><circle cx="513.1" cy="232.6" r="9.2" fill="#b892ff"/><circle cx="542.9" cy="232.6" r="9.2" fill="#ffd9cb"/><circle cx="572.7" cy="232.6" r="9.2" fill="#ffd9cb"/><circle cx="602.5" cy="232.6" r="9.2" fill="#ffffff"/><circle cx="632.3" cy="232.6" r="9.2" fill="#f4ecff"/><circle cx="662.1" cy="232.6" r="9.2" fill="#8d60ff"/><circle cx="692.0" cy="232.6" r="9.2" fill="#e3d0ff"/><circle cx="721.8" cy="232.6" r="9.2" fill="#8d60ff"/><circle cx="751.6" cy="232.6" r="9.2" fill="#a277ff"/><circle cx="781.4" cy="232.6" r="9.2" fill="#d0b2ff"/><circle cx="811.2" cy="232.6" r="9.2" fill="#a277ff"/><circle cx="841.0" cy="232.6" r="9.2" fill="#e3d0ff"/><circle cx="870.8" cy="232.6" r="9.2" fill="#8d60ff"/><circle cx="900.6" cy="232.6" r="9.2" fill="#8d60ff"/><circle cx="930.4" cy="232.6" r="9.2" fill="#f4ecff"/><circle cx="960.2" cy="232.6" r="9.2" fill="#a277ff"/>
<circle cx="259.7" cy="258.5" r="9.2" fill="#a277ff"/><circle cx="289.5" cy="258.5" r="9.2" fill="#a277ff"/><circle cx="319.3" cy="258.5" r="9.2" fill="#a277ff"/><circle cx="349.1" cy="258.5" r="9.2" fill="#b892ff"/><circle cx="378.9" cy="258.5" r="9.2" fill="#a277ff"/><circle cx="408.8" cy="258.5" r="9.2" fill="#8d60ff"/><circle cx="438.6" cy="258.5" r="9.2" fill="#e3d0ff"/><circle cx="468.4" cy="258.5" r="9.2" fill="#e3d0ff"/><circle cx="498.2" cy="258.5" r="9.2" fill="#e3d0ff"/><circle cx="528.0" cy="258.5" r="9.2" fill="#ffd9cb"/><circle cx="557.8" cy="258.5" r="9.2" fill="#a277ff"/><circle cx="587.6" cy="258.5" r="9.2" fill="#ffffff"/><circle cx="617.4" cy="258.5" r="9.2" fill="#ffa488"/><circle cx="647.2" cy="258.5" r="9.2" fill="#a277ff"/><circle cx="677.0" cy="258.5" r="9.2" fill="#e3d0ff"/><circle cx="706.8" cy="258.5" r="9.2" fill="#a277ff"/><circle cx="736.7" cy="258.5" r="9.2" fill="#fff0ea"/><circle cx="766.5" cy="258.5" r="9.2" fill="#8d60ff"/><circle cx="796.3" cy="258.5" r="9.2" fill="#6b40ff"/><circle cx="826.1" cy="258.5" r="9.2" fill="#ffc0ab"/><circle cx="855.9" cy="258.5" r="9.2" fill="#a277ff"/><circle cx="885.7" cy="258.5" r="9.2" fill="#e3d0ff"/><circle cx="915.5" cy="258.5" r="9.2" fill="#ffd9cb"/><circle cx="945.3" cy="258.5" r="9.2" fill="#a277ff"/><circle cx="975.1" cy="258.5" r="9.2" fill="#a277ff"/>
<circle cx="244.8" cy="284.4" r="9.2" fill="#fff0ea"/><circle cx="274.6" cy="284.4" r="9.2" fill="#b892ff"/><circle cx="304.4" cy="284.4" r="9.2" fill="#e3d0ff"/><circle cx="334.2" cy="284.4" r="9.2" fill="#a277ff"/><circle cx="364.0" cy="284.4" r="9.2" fill="#a277ff"/><circle cx="393.9" cy="284.4" r="9.2" fill="#ffd9cb"/><circle cx="423.7" cy="284.4" r="9.2" fill="#a277ff"/><circle cx="453.5" cy="284.4" r="9.2" fill="#fff0ea"/><circle cx="483.3" cy="284.4" r="9.2" fill="#a277ff"/><circle cx="513.1" cy="284.4" r="9.2" fill="#d0b2ff"/><circle cx="542.9" cy="284.4" r="9.2" fill="#b892ff"/><circle cx="572.7" cy="284.4" r="9.2" fill="#8d60ff"/><circle cx="602.5" cy="284.4" r="9.2" fill="#e3d0ff"/><circle cx="632.3" cy="284.4" r="9.2" fill="#a277ff"/><circle cx="662.1" cy="284.4" r="9.2" fill="#a277ff"/><circle cx="692.0" cy="284.4" r="9.2" fill="#fff0ea"/><circle cx="721.8" cy="284.4" r="9.2" fill="#e3d0ff"/><circle cx="751.6" cy="284.4" r="9.2" fill="#8d60ff"/><circle cx="781.4" cy="284.4" r="9.2" fill="#a277ff"/><circle cx="811.2" cy="284.4" r="9.2" fill="#8d60ff"/><circle cx="841.0" cy="284.4" r="9.2" fill="#8d60ff"/><circle cx="870.8" cy="284.4" r="9.2" fill="#e3d0ff"/><circle cx="900.6" cy="284.4" r="9.2" fill="#e3d0ff"/><circle cx="930.4" cy="284.4" r="9.2" fill="#6b40ff"/><circle cx="960.2" cy="284.4" r="9.2" fill="#8d60ff"/>
<circle cx="259.7" cy="310.4" r="9.2" fill="#f4ecff"/><circle cx="289.5" cy="310.4" r="9.2" fill="#a277ff"/><circle cx="319.3" cy="310.4" r="9.2" fill="#a277ff"/><circle cx="349.1" cy="310.4" r="9.2" fill="#a277ff"/><circle cx="378.9" cy="310.4" r="9.2" fill="#a277ff"/><circle cx="408.8" cy="310.4" r="9.2" fill="#b892ff"/><circle cx="438.6" cy="310.4" r="9.2" fill="#a277ff"/><circle cx="468.4" cy="310.4" r="9.2" fill="#a277ff"/><circle cx="498.2" cy="310.4" r="9.2" fill="#a277ff"/><circle cx="528.0" cy="310.4" r="9.2" fill="#b892ff"/><circle cx="557.8" cy="310.4" r="9.2" fill="#a277ff"/><circle cx="587.6" cy="310.4" r="9.2" fill="#ffffff"/><circle cx="617.4" cy="310.4" r="9.2" fill="#8d60ff"/><circle cx="647.2" cy="310.4" r="9.2" fill="#8d60ff"/><circle cx="677.0" cy="310.4" r="9.2" fill="#a277ff"/><circle cx="706.8" cy="310.4" r="9.2" fill="#fff0ea"/><circle cx="736.7" cy="310.4" r="9.2" fill="#a277ff"/><circle cx="766.5" cy="310.4" r="9.2" fill="#f4ecff"/><circle cx="796.3" cy="310.4" r="9.2" fill="#a277ff"/><circle cx="826.1" cy="310.4" r="9.2" fill="#a277ff"/><circle cx="855.9" cy="310.4" r="9.2" fill="#8d60ff"/><circle cx="885.7" cy="310.4" r="9.2" fill="#8d60ff"/><circle cx="915.5" cy="310.4" r="9.2" fill="#8d60ff"/><circle cx="945.3" cy="310.4" r="9.2" fill="#a277ff"/><circle cx="975.1" cy="310.4" r="9.2" fill="#8d60ff"/>
<circle cx="244.8" cy="336.3" r="9.2" fill="#a277ff"/><circle cx="274.6" cy="336.3" r="9.2" fill="#8d60ff"/><circle cx="304.4" cy="336.3" r="9.2" fill="#a277ff"/><circle cx="334.2" cy="336.3" r="9.2" fill="#a277ff"/><circle cx="364.0" cy="336.3" r="9.2" fill="#b892ff"/><circle cx="393.9" cy="336.3" r="9.2" fill="#b892ff"/><circle cx="423.7" cy="336.3" r="9.2" fill="#ffc0ab"/><circle cx="453.5" cy="336.3" r="9.2" fill="#a277ff"/><circle cx="483.3" cy="336.3" r="9.2" fill="#a277ff"/><circle cx="513.1" cy="336.3" r="9.2" fill="#b892ff"/><circle cx="542.9" cy="336.3" r="9.2" fill="#b892ff"/><circle cx="572.7" cy="336.3" r="9.2" fill="#ffc0ab"/><circle cx="602.5" cy="336.3" r="9.2" fill="#ffffff"/><circle cx="632.3" cy="336.3" r="9.2" fill="#a277ff"/><circle cx="662.1" cy="336.3" r="9.2" fill="#8d60ff"/><circle cx="692.0" cy="336.3" r="9.2" fill="#b892ff"/><circle cx="721.8" cy="336.3" r="9.2" fill="#a277ff"/><circle cx="751.6" cy="336.3" r="9.2" fill="#a277ff"/><circle cx="781.4" cy="336.3" r="9.2" fill="#a277ff"/><circle cx="811.2" cy="336.3" r="9.2" fill="#a277ff"/><circle cx="841.0" cy="336.3" r="9.2" fill="#a277ff"/><circle cx="870.8" cy="336.3" r="9.2" fill="#ffffff"/><circle cx="900.6" cy="336.3" r="9.2" fill="#a277ff"/><circle cx="930.4" cy="336.3" r="9.2" fill="#e3d0ff"/><circle cx="960.2" cy="336.3" r="9.2" fill="#8d60ff"/>
<circle cx="259.7" cy="362.3" r="9.2" fill="#a277ff"/><circle cx="289.5" cy="362.3" r="9.2" fill="#f4ecff"/><circle cx="319.3" cy="362.3" r="9.2" fill="#a277ff"/><circle cx="349.1" cy="362.3" r="9.2" fill="#b892ff"/><circle cx="378.9" cy="362.3" r="9.2" fill="#b892ff"/><circle cx="408.8" cy="362.3" r="9.2" fill="#ffc0ab"/><circle cx="438.6" cy="362.3" r="9.2" fill="#a277ff"/><circle cx="468.4" cy="362.3" r="9.2" fill="#a277ff"/><circle cx="498.2" cy="362.3" r="9.2" fill="#ffa488"/><circle cx="528.0" cy="362.3" r="9.2" fill="#ffd9cb"/><circle cx="557.8" cy="362.3" r="9.2" fill="#ffc0ab"/><circle cx="587.6" cy="362.3" r="9.2" fill="#a277ff"/><circle cx="617.4" cy="362.3" r="9.2" fill="#a277ff"/><circle cx="647.2" cy="362.3" r="9.2" fill="#a277ff"/><circle cx="677.0" cy="362.3" r="9.2" fill="#a277ff"/><circle cx="706.8" cy="362.3" r="9.2" fill="#e3d0ff"/><circle cx="736.7" cy="362.3" r="9.2" fill="#8d60ff"/><circle cx="766.5" cy="362.3" r="9.2" fill="#ffd9cb"/><circle cx="796.3" cy="362.3" r="9.2" fill="#a277ff"/><circle cx="826.1" cy="362.3" r="9.2" fill="#ffc0ab"/><circle cx="855.9" cy="362.3" r="9.2" fill="#e3d0ff"/><circle cx="885.7" cy="362.3" r="9.2" fill="#8d60ff"/><circle cx="915.5" cy="362.3" r="9.2" fill="#a277ff"/><circle cx="945.3" cy="362.3" r="9.2" fill="#6b40ff"/><circle cx="975.1" cy="362.3" r="9.2" fill="#8d60ff"/>
<circle cx="244.8" cy="388.2" r="9.2" fill="#a277ff"/><circle cx="274.6" cy="388.2" r="9.2" fill="#8d60ff"/><circle cx="304.4" cy="388.2" r="9.2" fill="#f4ecff"/><circle cx="334.2" cy="388.2" r="9.2" fill="#b892ff"/><circle cx="364.0" cy="388.2" r="9.2" fill="#a277ff"/><circle cx="393.9" cy="388.2" r="9.2" fill="#b892ff"/><circle cx="423.7" cy="388.2" r="9.2" fill="#a277ff"/><circle cx="453.5" cy="388.2" r="9.2" fill="#a277ff"/><circle cx="483.3" cy="388.2" r="9.2" fill="#a277ff"/><circle cx="513.1" cy="388.2" r="9.2" fill="#ffd9cb"/><circle cx="542.9" cy="388.2" r="9.2" fill="#a277ff"/><circle cx="572.7" cy="388.2" r="9.2" fill="#ffffff"/><circle cx="602.5" cy="388.2" r="9.2" fill="#ffd9cb"/><circle cx="632.3" cy="388.2" r="9.2" fill="#ffa488"/><circle cx="662.1" cy="388.2" r="9.2" fill="#ffd9cb"/><circle cx="692.0" cy="388.2" r="9.2" fill="#ffd9cb"/><circle cx="721.8" cy="388.2" r="9.2" fill="#fff0ea"/><circle cx="751.6" cy="388.2" r="9.2" fill="#d0b2ff"/><circle cx="781.4" cy="388.2" r="9.2" fill="#d0b2ff"/><circle cx="811.2" cy="388.2" r="9.2" fill="#8d60ff"/><circle cx="841.0" cy="388.2" r="9.2" fill="#a277ff"/><circle cx="870.8" cy="388.2" r="9.2" fill="#8d60ff"/><circle cx="900.6" cy="388.2" r="9.2" fill="#a277ff"/><circle cx="930.4" cy="388.2" r="9.2" fill="#d0b2ff"/><circle cx="960.2" cy="388.2" r="9.2" fill="#fff0ea"/>
<circle cx="259.7" cy="414.1" r="9.2" fill="#8d60ff"/><circle cx="289.5" cy="414.1" r="9.2" fill="#8d60ff"/><circle cx="319.3" cy="414.1" r="9.2" fill="#b892ff"/><circle cx="349.1" cy="414.1" r="9.2" fill="#d0b2ff"/><circle cx="378.9" cy="414.1" r="9.2" fill="#ffa488"/><circle cx="408.8" cy="414.1" r="9.2" fill="#ffc0ab"/><circle cx="438.6" cy="414.1" r="9.2" fill="#b892ff"/><circle cx="498.2" cy="414.1" r="9.2" fill="#ffc0ab"/><circle cx="528.0" cy="414.1" r="9.2" fill="#b892ff"/><circle cx="557.8" cy="414.1" r="9.2" fill="#f4ecff"/><circle cx="587.6" cy="414.1" r="9.2" fill="#fff0ea"/><circle cx="617.4" cy="414.1" r="9.2" fill="#a277ff"/><circle cx="647.2" cy="414.1" r="9.2" fill="#fff0ea"/><circle cx="677.0" cy="414.1" r="9.2" fill="#ffc0ab"/><circle cx="706.8" cy="414.1" r="9.2" fill="#a277ff"/><circle cx="736.7" cy="414.1" r="9.2" fill="#a277ff"/><circle cx="766.5" cy="414.1" r="9.2" fill="#ffffff"/><circle cx="796.3" cy="414.1" r="9.2" fill="#8d60ff"/><circle cx="826.1" cy="414.1" r="9.2" fill="#a277ff"/><circle cx="855.9" cy="414.1" r="9.2" fill="#a277ff"/><circle cx="885.7" cy="414.1" r="9.2" fill="#d0b2ff"/><circle cx="915.5" cy="414.1" r="9.2" fill="#a277ff"/><circle cx="945.3" cy="414.1" r="9.2" fill="#8d60ff"/><circle cx="975.1" cy="414.1" r="9.2" fill="#8d60ff"/>
<circle cx="244.8" cy="440.1" r="9.2" fill="#8d60ff"/><circle cx="274.6" cy="440.1" r="9.2" fill="#a277ff"/><circle cx="304.4" cy="440.1" r="9.2" fill="#b892ff"/><circle cx="334.2" cy="440.1" r="9.2" fill="#ffd9cb"/><circle cx="364.0" cy="440.1" r="9.2" fill="#ff8362"/><circle cx="393.9" cy="440.1" r="9.2" fill="#ffc0ab"/><circle cx="423.7" cy="440.1" r="9.2" fill="#ffd9cb"/><circle cx="453.5" cy="440.1" r="9.2" fill="#a277ff"/><circle cx="483.3" cy="440.1" r="9.2" fill="#8d60ff"/><circle cx="513.1" cy="440.1" r="9.2" fill="#ffd9cb"/><circle cx="542.9" cy="440.1" r="9.2" fill="#ffd9cb"/><circle cx="572.7" cy="440.1" r="9.2" fill="#ffd9cb"/><circle cx="602.5" cy="440.1" r="9.2" fill="#ffa488"/><circle cx="632.3" cy="440.1" r="9.2" fill="#ffd9cb"/><circle cx="662.1" cy="440.1" r="9.2" fill="#ffd9cb"/><circle cx="692.0" cy="440.1" r="9.2" fill="#ffffff"/><circle cx="721.8" cy="440.1" r="9.2" fill="#ffc0ab"/><circle cx="751.6" cy="440.1" r="9.2" fill="#ffd9cb"/><circle cx="781.4" cy="440.1" r="9.2" fill="#f4ecff"/><circle cx="811.2" cy="440.1" r="9.2" fill="#f4ecff"/><circle cx="841.0" cy="440.1" r="9.2" fill="#a277ff"/><circle cx="870.8" cy="440.1" r="9.2" fill="#b892ff"/><circle cx="900.6" cy="440.1" r="9.2" fill="#a277ff"/><circle cx="930.4" cy="440.1" r="9.2" fill="#d0b2ff"/><circle cx="960.2" cy="440.1" r="9.2" fill="#8d60ff"/>
<circle cx="259.7" cy="466.0" r="9.2" fill="#a277ff"/><circle cx="289.5" cy="466.0" r="9.2" fill="#a277ff"/><circle cx="319.3" cy="466.0" r="9.2" fill="#ffd9cb"/><circle cx="349.1" cy="466.0" r="9.2" fill="#b892ff"/><circle cx="378.9" cy="466.0" r="9.2" fill="#ffd9cb"/><circle cx="408.8" cy="466.0" r="9.2" fill="#d0b2ff"/><circle cx="438.6" cy="466.0" r="9.2" fill="#f4ecff"/><circle cx="468.4" cy="466.0" r="9.2" fill="#b892ff"/><circle cx="498.2" cy="466.0" r="9.2" fill="#fff0ea"/><circle cx="528.0" cy="466.0" r="9.2" fill="#d0b2ff"/><circle cx="557.8" cy="466.0" r="9.2" fill="#8d60ff"/><circle cx="587.6" cy="466.0" r="9.2" fill="#a277ff"/><circle cx="617.4" cy="466.0" r="9.2" fill="#a277ff"/><circle cx="647.2" cy="466.0" r="9.2" fill="#ff5b3a"/><circle cx="677.0" cy="466.0" r="9.2" fill="#a277ff"/><circle cx="706.8" cy="466.0" r="9.2" fill="#a277ff"/><circle cx="736.7" cy="466.0" r="9.2" fill="#a277ff"/><circle cx="766.5" cy="466.0" r="9.2" fill="#a277ff"/><circle cx="796.3" cy="466.0" r="9.2" fill="#a277ff"/><circle cx="826.1" cy="466.0" r="9.2" fill="#8d60ff"/><circle cx="855.9" cy="466.0" r="9.2" fill="#a277ff"/><circle cx="885.7" cy="466.0" r="9.2" fill="#a277ff"/><circle cx="915.5" cy="466.0" r="9.2" fill="#d0b2ff"/><circle cx="945.3" cy="466.0" r="9.2" fill="#a277ff"/><circle cx="975.1" cy="466.0" r="9.2" fill="#a277ff"/>
<circle cx="244.8" cy="492.0" r="9.2" fill="#ffa488"/><circle cx="274.6" cy="492.0" r="9.2" fill="#8d60ff"/><circle cx="304.4" cy="492.0" r="9.2" fill="#8d60ff"/><circle cx="334.2" cy="492.0" r="9.2" fill="#fff0ea"/><circle cx="364.0" cy="492.0" r="9.2" fill="#d0b2ff"/><circle cx="393.9" cy="492.0" r="9.2" fill="#f4ecff"/><circle cx="423.7" cy="492.0" r="9.2" fill="#b892ff"/><circle cx="453.5" cy="492.0" r="9.2" fill="#f4ecff"/><circle cx="483.3" cy="492.0" r="9.2" fill="#d0b2ff"/><circle cx="513.1" cy="492.0" r="9.2" fill="#ffd9cb"/><circle cx="542.9" cy="492.0" r="9.2" fill="#fff0ea"/><circle cx="572.7" cy="492.0" r="9.2" fill="#d0b2ff"/><circle cx="602.5" cy="492.0" r="9.2" fill="#d0b2ff"/><circle cx="632.3" cy="492.0" r="9.2" fill="#f4ecff"/><circle cx="662.1" cy="492.0" r="9.2" fill="#ffc0ab"/><circle cx="692.0" cy="492.0" r="9.2" fill="#b892ff"/><circle cx="721.8" cy="492.0" r="9.2" fill="#ffd9cb"/><circle cx="751.6" cy="492.0" r="9.2" fill="#d0b2ff"/><circle cx="781.4" cy="492.0" r="9.2" fill="#a277ff"/><circle cx="811.2" cy="492.0" r="9.2" fill="#ffc0ab"/><circle cx="841.0" cy="492.0" r="9.2" fill="#f4ecff"/><circle cx="870.8" cy="492.0" r="9.2" fill="#a277ff"/><circle cx="900.6" cy="492.0" r="9.2" fill="#8d60ff"/><circle cx="930.4" cy="492.0" r="9.2" fill="#a277ff"/><circle cx="960.2" cy="492.0" r="9.2" fill="#a277ff"/>
<circle cx="259.7" cy="517.9" r="9.2" fill="#fff0ea"/><circle cx="289.5" cy="517.9" r="9.2" fill="#a277ff"/><circle cx="319.3" cy="517.9" r="9.2" fill="#b892ff"/><circle cx="349.1" cy="517.9" r="9.2" fill="#e3d0ff"/><circle cx="378.9" cy="517.9" r="9.2" fill="#a277ff"/><circle cx="408.8" cy="517.9" r="9.2" fill="#ffc0ab"/><circle cx="438.6" cy="517.9" r="9.2" fill="#a277ff"/><circle cx="468.4" cy="517.9" r="9.2" fill="#fff0ea"/><circle cx="498.2" cy="517.9" r="9.2" fill="#ffffff"/><circle cx="528.0" cy="517.9" r="9.2" fill="#ffffff"/><circle cx="557.8" cy="517.9" r="9.2" fill="#ffd9cb"/><circle cx="587.6" cy="517.9" r="9.2" fill="#ffc0ab"/><circle cx="617.4" cy="517.9" r="9.2" fill="#fff0ea"/><circle cx="647.2" cy="517.9" r="9.2" fill="#fff0ea"/><circle cx="677.0" cy="517.9" r="9.2" fill="#ffd9cb"/><circle cx="706.8" cy="517.9" r="9.2" fill="#a277ff"/><circle cx="736.7" cy="517.9" r="9.2" fill="#b892ff"/><circle cx="766.5" cy="517.9" r="9.2" fill="#ffd9cb"/><circle cx="796.3" cy="517.9" r="9.2" fill="#b892ff"/><circle cx="826.1" cy="517.9" r="9.2" fill="#ffd9cb"/><circle cx="855.9" cy="517.9" r="9.2" fill="#ffffff"/><circle cx="885.7" cy="517.9" r="9.2" fill="#8d60ff"/><circle cx="915.5" cy="517.9" r="9.2" fill="#a277ff"/><circle cx="945.3" cy="517.9" r="9.2" fill="#8d60ff"/><circle cx="975.1" cy="517.9" r="9.2" fill="#a277ff"/>
<circle cx="244.8" cy="543.8" r="9.2" fill="#e3d0ff"/><circle cx="274.6" cy="543.8" r="9.2" fill="#ffd9cb"/><circle cx="304.4" cy="543.8" r="9.2" fill="#ffc0ab"/><circle cx="334.2" cy="543.8" r="9.2" fill="#a277ff"/><circle cx="364.0" cy="543.8" r="9.2" fill="#ffa488"/><circle cx="393.9" cy="543.8" r="9.2" fill="#ffc0ab"/><circle cx="423.7" cy="543.8" r="9.2" fill="#ff8362"/><circle cx="453.5" cy="543.8" r="9.2" fill="#a277ff"/><circle cx="483.3" cy="543.8" r="9.2" fill="#ffc0ab"/><circle cx="513.1" cy="543.8" r="9.2" fill="#ffc0ab"/><circle cx="542.9" cy="543.8" r="9.2" fill="#ffc0ab"/><circle cx="572.7" cy="543.8" r="9.2" fill="#ffd9cb"/><circle cx="602.5" cy="543.8" r="9.2" fill="#ff8362"/><circle cx="632.3" cy="543.8" r="9.2" fill="#ffc0ab"/><circle cx="662.1" cy="543.8" r="9.2" fill="#ffd9cb"/><circle cx="692.0" cy="543.8" r="9.2" fill="#a277ff"/><circle cx="721.8" cy="543.8" r="9.2" fill="#ffc0ab"/><circle cx="751.6" cy="543.8" r="9.2" fill="#ffd9cb"/><circle cx="781.4" cy="543.8" r="9.2" fill="#fff0ea"/><circle cx="811.2" cy="543.8" r="9.2" fill="#ffa488"/><circle cx="841.0" cy="543.8" r="9.2" fill="#a277ff"/><circle cx="870.8" cy="543.8" r="9.2" fill="#b892ff"/><circle cx="900.6" cy="543.8" r="9.2" fill="#a277ff"/><circle cx="930.4" cy="543.8" r="9.2" fill="#a277ff"/><circle cx="960.2" cy="543.8" r="9.2" fill="#a277ff"/>
<circle cx="259.7" cy="569.8" r="9.2" fill="#e3d0ff"/><circle cx="289.5" cy="569.8" r="9.2" fill="#ffffff"/><circle cx="319.3" cy="569.8" r="9.2" fill="#b892ff"/><circle cx="349.1" cy="569.8" r="9.2" fill="#a277ff"/><circle cx="378.9" cy="569.8" r="9.2" fill="#fff0ea"/><circle cx="408.8" cy="569.8" r="9.2" fill="#ffc0ab"/><circle cx="438.6" cy="569.8" r="9.2" fill="#ffc0ab"/><circle cx="468.4" cy="569.8" r="9.2" fill="#ffc0ab"/><circle cx="498.2" cy="569.8" r="9.2" fill="#ffc0ab"/><circle cx="528.0" cy="569.8" r="9.2" fill="#ff8362"/><circle cx="557.8" cy="569.8" r="9.2" fill="#ffa488"/><circle cx="587.6" cy="569.8" r="9.2" fill="#ffc0ab"/><circle cx="617.4" cy="569.8" r="9.2" fill="#ffd9cb"/><circle cx="647.2" cy="569.8" r="9.2" fill="#ffc0ab"/><circle cx="677.0" cy="569.8" r="9.2" fill="#ffc0ab"/><circle cx="706.8" cy="569.8" r="9.2" fill="#f4ecff"/><circle cx="736.7" cy="569.8" r="9.2" fill="#b892ff"/><circle cx="766.5" cy="569.8" r="9.2" fill="#ff8362"/><circle cx="796.3" cy="569.8" r="9.2" fill="#b892ff"/><circle cx="826.1" cy="569.8" r="9.2" fill="#a277ff"/><circle cx="855.9" cy="569.8" r="9.2" fill="#f4ecff"/><circle cx="885.7" cy="569.8" r="9.2" fill="#f4ecff"/><circle cx="915.5" cy="569.8" r="9.2" fill="#a277ff"/><circle cx="945.3" cy="569.8" r="9.2" fill="#ffffff"/><circle cx="975.1" cy="569.8" r="9.2" fill="#a277ff"/>
<circle cx="244.8" cy="595.7" r="9.2" fill="#8d60ff"/><circle cx="274.6" cy="595.7" r="9.2" fill="#a277ff"/><circle cx="304.4" cy="595.7" r="9.2" fill="#ffd9cb"/><circle cx="334.2" cy="595.7" r="9.2" fill="#fff0ea"/><circle cx="364.0" cy="595.7" r="9.2" fill="#a277ff"/><circle cx="393.9" cy="595.7" r="9.2" fill="#ffc0ab"/><circle cx="423.7" cy="595.7" r="9.2" fill="#ffa488"/><circle cx="453.5" cy="595.7" r="9.2" fill="#ff5b3a"/><circle cx="483.3" cy="595.7" r="9.2" fill="#ff2e16"/><circle cx="513.1" cy="595.7" r="9.2" fill="#ff5b3a"/><circle cx="542.9" cy="595.7" r="9.2" fill="#ff2e16"/><circle cx="572.7" cy="595.7" r="9.2" fill="#ff5b3a"/><circle cx="602.5" cy="595.7" r="9.2" fill="#ff5b3a"/><circle cx="632.3" cy="595.7" r="9.2" fill="#ff8362"/><circle cx="662.1" cy="595.7" r="9.2" fill="#ffc0ab"/><circle cx="692.0" cy="595.7" r="9.2" fill="#ffa488"/><circle cx="721.8" cy="595.7" r="9.2" fill="#ffd9cb"/><circle cx="751.6" cy="595.7" r="9.2" fill="#b892ff"/><circle cx="781.4" cy="595.7" r="9.2" fill="#a277ff"/><circle cx="811.2" cy="595.7" r="9.2" fill="#a277ff"/><circle cx="841.0" cy="595.7" r="9.2" fill="#ffd9cb"/><circle cx="870.8" cy="595.7" r="9.2" fill="#f4ecff"/><circle cx="900.6" cy="595.7" r="9.2" fill="#ffd9cb"/><circle cx="930.4" cy="595.7" r="9.2" fill="#a277ff"/><circle cx="960.2" cy="595.7" r="9.2" fill="#a277ff"/>
<circle cx="259.7" cy="621.7" r="9.2" fill="#a277ff"/><circle cx="289.5" cy="621.7" r="9.2" fill="#a277ff"/><circle cx="319.3" cy="621.7" r="9.2" fill="#ffa488"/><circle cx="349.1" cy="621.7" r="9.2" fill="#ffc0ab"/><circle cx="378.9" cy="621.7" r="9.2" fill="#ff8362"/><circle cx="408.8" cy="621.7" r="9.2" fill="#ffc0ab"/><circle cx="438.6" cy="621.7" r="9.2" fill="#ff5b3a"/><circle cx="468.4" cy="621.7" r="9.2" fill="#ffa488"/><circle cx="498.2" cy="621.7" r="9.2" fill="#ff5b3a"/><circle cx="528.0" cy="621.7" r="9.2" fill="#ff5b3a"/><circle cx="557.8" cy="621.7" r="9.2" fill="#ff5b3a"/><circle cx="587.6" cy="621.7" r="9.2" fill="#ff2e16"/><circle cx="617.4" cy="621.7" r="9.2" fill="#ff2e16"/><circle cx="647.2" cy="621.7" r="9.2" fill="#ff5b3a"/><circle cx="677.0" cy="621.7" r="9.2" fill="#ff8362"/><circle cx="706.8" cy="621.7" r="9.2" fill="#ffc0ab"/><circle cx="736.7" cy="621.7" r="9.2" fill="#ffa488"/><circle cx="766.5" cy="621.7" r="9.2" fill="#ffd9cb"/><circle cx="796.3" cy="621.7" r="9.2" fill="#ffffff"/><circle cx="826.1" cy="621.7" r="9.2" fill="#ffffff"/><circle cx="855.9" cy="621.7" r="9.2" fill="#ffffff"/><circle cx="885.7" cy="621.7" r="9.2" fill="#fff0ea"/><circle cx="915.5" cy="621.7" r="9.2" fill="#a277ff"/><circle cx="945.3" cy="621.7" r="9.2" fill="#b892ff"/><circle cx="975.1" cy="621.7" r="9.2" fill="#e3d0ff"/>
<circle cx="244.8" cy="647.6" r="9.2" fill="#e3d0ff"/><circle cx="274.6" cy="647.6" r="9.2" fill="#ffd9cb"/><circle cx="304.4" cy="647.6" r="9.2" fill="#ffa488"/><circle cx="334.2" cy="647.6" r="9.2" fill="#ffc0ab"/><circle cx="364.0" cy="647.6" r="9.2" fill="#fff0ea"/><circle cx="393.9" cy="647.6" r="9.2" fill="#ff8362"/><circle cx="423.7" cy="647.6" r="9.2" fill="#ffa488"/><circle cx="453.5" cy="647.6" r="9.2" fill="#ff8362"/><circle cx="483.3" cy="647.6" r="9.2" fill="#ff5b3a"/><circle cx="513.1" cy="647.6" r="9.2" fill="#ff5b3a"/><circle cx="542.9" cy="647.6" r="9.2" fill="#ff8362"/><circle cx="572.7" cy="647.6" r="9.2" fill="#ff2e16"/><circle cx="602.5" cy="647.6" r="9.2" fill="#ff5b3a"/><circle cx="632.3" cy="647.6" r="9.2" fill="#ff2e16"/><circle cx="662.1" cy="647.6" r="9.2" fill="#ff5b3a"/><circle cx="692.0" cy="647.6" r="9.2" fill="#ff5b3a"/><circle cx="721.8" cy="647.6" r="9.2" fill="#ffc0ab"/><circle cx="751.6" cy="647.6" r="9.2" fill="#ffa488"/><circle cx="781.4" cy="647.6" r="9.2" fill="#ffc0ab"/><circle cx="811.2" cy="647.6" r="9.2" fill="#ffc0ab"/><circle cx="841.0" cy="647.6" r="9.2" fill="#ffffff"/><circle cx="870.8" cy="647.6" r="9.2" fill="#8d60ff"/><circle cx="900.6" cy="647.6" r="9.2" fill="#fff0ea"/><circle cx="930.4" cy="647.6" r="9.2" fill="#b892ff"/><circle cx="960.2" cy="647.6" r="9.2" fill="#e3d0ff"/>
<circle cx="259.7" cy="673.5" r="9.2" fill="#b892ff"/><circle cx="289.5" cy="673.5" r="9.2" fill="#ffc0ab"/><circle cx="319.3" cy="673.5" r="9.2" fill="#ffc0ab"/><circle cx="349.1" cy="673.5" r="9.2" fill="#ff8362"/><circle cx="378.9" cy="673.5" r="9.2" fill="#ff5b3a"/><circle cx="408.8" cy="673.5" r="9.2" fill="#ffa488"/><circle cx="438.6" cy="673.5" r="9.2" fill="#ff5b3a"/><circle cx="468.4" cy="673.5" r="9.2" fill="#ff5b3a"/><circle cx="498.2" cy="673.5" r="9.2" fill="#ff5b3a"/><circle cx="528.0" cy="673.5" r="9.2" fill="#ff5b3a"/><circle cx="557.8" cy="673.5" r="9.2" fill="#ff5b3a"/><circle cx="587.6" cy="673.5" r="9.2" fill="#ff8362"/><circle cx="617.4" cy="673.5" r="9.2" fill="#ff2e16"/><circle cx="647.2" cy="673.5" r="9.2" fill="#ff8362"/><circle cx="677.0" cy="673.5" r="9.2" fill="#ff2e16"/><circle cx="706.8" cy="673.5" r="9.2" fill="#ff2e16"/><circle cx="736.7" cy="673.5" r="9.2" fill="#ff8362"/><circle cx="766.5" cy="673.5" r="9.2" fill="#ff8362"/><circle cx="796.3" cy="673.5" r="9.2" fill="#ff8362"/><circle cx="826.1" cy="673.5" r="9.2" fill="#fff0ea"/><circle cx="855.9" cy="673.5" r="9.2" fill="#a277ff"/><circle cx="885.7" cy="673.5" r="9.2" fill="#b892ff"/><circle cx="915.5" cy="673.5" r="9.2" fill="#f4ecff"/><circle cx="945.3" cy="673.5" r="9.2" fill="#b892ff"/><circle cx="975.1" cy="673.5" r="9.2" fill="#a277ff"/>
<circle cx="244.8" cy="699.5" r="9.2" fill="#ffc0ab"/><circle cx="274.6" cy="699.5" r="9.2" fill="#ffc0ab"/><circle cx="304.4" cy="699.5" r="9.2" fill="#ff8362"/><circle cx="334.2" cy="699.5" r="9.2" fill="#ffa488"/><circle cx="364.0" cy="699.5" r="9.2" fill="#ff8362"/><circle cx="393.9" cy="699.5" r="9.2" fill="#ff8362"/><circle cx="423.7" cy="699.5" r="9.2" fill="#ff8362"/><circle cx="453.5" cy="699.5" r="9.2" fill="#ff8362"/><circle cx="483.3" cy="699.5" r="9.2" fill="#ff5b3a"/><circle cx="513.1" cy="699.5" r="9.2" fill="#ff5b3a"/><circle cx="542.9" cy="699.5" r="9.2" fill="#ff5b3a"/><circle cx="572.7" cy="699.5" r="9.2" fill="#ff5b3a"/><circle cx="602.5" cy="699.5" r="9.2" fill="#ff2e16"/><circle cx="632.3" cy="699.5" r="9.2" fill="#ff5b3a"/><circle cx="662.1" cy="699.5" r="9.2" fill="#ff5b3a"/><circle cx="692.0" cy="699.5" r="9.2" fill="#ff5b3a"/><circle cx="721.8" cy="699.5" r="9.2" fill="#ff2e16"/><circle cx="751.6" cy="699.5" r="9.2" fill="#ffc0ab"/><circle cx="781.4" cy="699.5" r="9.2" fill="#ffa488"/><circle cx="811.2" cy="699.5" r="9.2" fill="#ffa488"/><circle cx="841.0" cy="699.5" r="9.2" fill="#ffc0ab"/><circle cx="870.8" cy="699.5" r="9.2" fill="#fff0ea"/><circle cx="900.6" cy="699.5" r="9.2" fill="#fff0ea"/><circle cx="930.4" cy="699.5" r="9.2" fill="#8d60ff"/><circle cx="960.2" cy="699.5" r="9.2" fill="#b892ff"/>
<circle cx="259.7" cy="725.4" r="9.2" fill="#ff8362"/><circle cx="289.5" cy="725.4" r="9.2" fill="#ff8362"/><circle cx="319.3" cy="725.4" r="9.2" fill="#ff8362"/><circle cx="349.1" cy="725.4" r="9.2" fill="#ff2e16"/><circle cx="378.9" cy="725.4" r="9.2" fill="#ff5b3a"/><circle cx="408.8" cy="725.4" r="9.2" fill="#ffd9cb"/><circle cx="438.6" cy="725.4" r="9.2" fill="#ff8362"/><circle cx="468.4" cy="725.4" r="9.2" fill="#ffa488"/><circle cx="498.2" cy="725.4" r="9.2" fill="#ffa488"/><circle cx="528.0" cy="725.4" r="9.2" fill="#ff2e16"/><circle cx="557.8" cy="725.4" r="9.2" fill="#ff5b3a"/><circle cx="587.6" cy="725.4" r="9.2" fill="#ff5b3a"/><circle cx="617.4" cy="725.4" r="9.2" fill="#ff5b3a"/><circle cx="647.2" cy="725.4" r="9.2" fill="#ff2e16"/><circle cx="677.0" cy="725.4" r="9.2" fill="#ff2e16"/><circle cx="706.8" cy="725.4" r="9.2" fill="#ff5b3a"/><circle cx="736.7" cy="725.4" r="9.2" fill="#ff8362"/><circle cx="766.5" cy="725.4" r="9.2" fill="#e3d0ff"/><circle cx="796.3" cy="725.4" r="9.2" fill="#ffa488"/><circle cx="826.1" cy="725.4" r="9.2" fill="#ffa488"/><circle cx="855.9" cy="725.4" r="9.2" fill="#ffc0ab"/><circle cx="885.7" cy="725.4" r="9.2" fill="#b892ff"/><circle cx="915.5" cy="725.4" r="9.2" fill="#b892ff"/><circle cx="945.3" cy="725.4" r="9.2" fill="#a277ff"/><circle cx="975.1" cy="725.4" r="9.2" fill="#a277ff"/>
<circle cx="244.8" cy="751.4" r="9.2" fill="#ffc0ab"/><circle cx="274.6" cy="751.4" r="9.2" fill="#ffc0ab"/><circle cx="304.4" cy="751.4" r="9.2" fill="#ffa488"/><circle cx="334.2" cy="751.4" r="9.2" fill="#ffa488"/><circle cx="364.0" cy="751.4" r="9.2" fill="#ffa488"/><circle cx="393.9" cy="751.4" r="9.2" fill="#ff5b3a"/><circle cx="423.7" cy="751.4" r="9.2" fill="#ff2e16"/><circle cx="453.5" cy="751.4" r="9.2" fill="#ff5b3a"/><circle cx="483.3" cy="751.4" r="9.2" fill="#ffa488"/><circle cx="513.1" cy="751.4" r="9.2" fill="#ff2e16"/><circle cx="542.9" cy="751.4" r="9.2" fill="#ff2e16"/><circle cx="572.7" cy="751.4" r="9.2" fill="#ff0000"/><circle cx="602.5" cy="751.4" r="9.2" fill="#ffd9cb"/><circle cx="632.3" cy="751.4" r="9.2" fill="#ff5b3a"/><circle cx="662.1" cy="751.4" r="9.2" fill="#ff2e16"/><circle cx="692.0" cy="751.4" r="9.2" fill="#ff5b3a"/><circle cx="721.8" cy="751.4" r="9.2" fill="#ffc0ab"/><circle cx="751.6" cy="751.4" r="9.2" fill="#ffc0ab"/><circle cx="781.4" cy="751.4" r="9.2" fill="#d0b2ff"/><circle cx="811.2" cy="751.4" r="9.2" fill="#ffd9cb"/><circle cx="841.0" cy="751.4" r="9.2" fill="#a277ff"/><circle cx="870.8" cy="751.4" r="9.2" fill="#b892ff"/><circle cx="900.6" cy="751.4" r="9.2" fill="#a277ff"/><circle cx="930.4" cy="751.4" r="9.2" fill="#b892ff"/><circle cx="960.2" cy="751.4" r="9.2" fill="#a277ff"/>
<path d="M208.5 97.5V782.2H1011.8" fill="none" stroke="#000" stroke-width="4.5" stroke-linejoin="miter"/>
<path d="M229.8 784.4v9.1" stroke="#333" stroke-width="4.2" fill="none"/><text class="tk" x="229.8" y="827.3" text-anchor="middle">3000</text>
<path d="M446.5 784.4v9.1" stroke="#333" stroke-width="4.2" fill="none"/><text class="tk" x="446.5" y="827.3" text-anchor="middle">4000</text>
<path d="M663.1 784.4v9.1" stroke="#333" stroke-width="4.2" fill="none"/><text class="tk" x="663.1" y="827.3" text-anchor="middle">5000</text>
<path d="M879.8 784.4v9.1" stroke="#333" stroke-width="4.2" fill="none"/><text class="tk" x="879.8" y="827.3" text-anchor="middle">6000</text>
<path d="M206.3 222.0h-9.1" stroke="#333" stroke-width="4.2" fill="none"/><text class="tk" transform="translate(185.2,222.0) rotate(-90)" text-anchor="middle">-3000</text>
<path d="M206.3 438.8h-9.1" stroke="#333" stroke-width="4.2" fill="none"/><text class="tk" transform="translate(185.2,438.8) rotate(-90)" text-anchor="middle">-4000</text>
<path d="M206.3 655.5h-9.1" stroke="#333" stroke-width="4.2" fill="none"/><text class="tk" transform="translate(185.2,655.5) rotate(-90)" text-anchor="middle">-5000</text>
<text class="at" x="610.2" y="870.2" text-anchor="middle">coord x</text>
<text class="at" transform="translate(137.8,439.8) rotate(-90)" text-anchor="middle">coord y</text>
<rect x="1080.4" y="260" width="72" height="360" fill="url(#g1)"/>
<path d="M1080.4 278.5h14.4M1138 278.5h14.4" stroke="#fff" stroke-width="1.7" fill="none"/><text class="lg" x="1174.5" y="290.7">2</text>
<path d="M1080.4 375.6h14.4M1138 375.6h14.4" stroke="#fff" stroke-width="1.7" fill="none"/><text class="lg" x="1174.5" y="387.8">1</text>
<path d="M1080.4 472.7h14.4M1138 472.7h14.4" stroke="#fff" stroke-width="1.7" fill="none"/><text class="lg" x="1174.5" y="484.9">0</text>
<path d="M1080.4 569.8h14.4M1138 569.8h14.4" stroke="#fff" stroke-width="1.7" fill="none"/><text class="lg" x="1174.5" y="582.0">-1</text>
</g></g>
<g transform="translate(0,900)">
<rect x="90" y="0" width="1170" height="900" fill="#fff"/>
<g transform="translate(0,0)">
<text class="ti" x="610.2" y="63.1" text-anchor="middle">Ttr</text>
<circle cx="244.8" cy="128.8" r="9.2" fill="#a074ff"/><circle cx="274.6" cy="128.8" r="9.2" fill="#b892ff"/><circle cx="304.4" cy="128.8" r="9.2" fill="#e3d0ff"/><circle cx="334.2" cy="128.8" r="9.2" fill="#e3d0ff"/><circle cx="364.0" cy="128.8" r="9.2" fill="#ffffff"/><circle cx="393.9" cy="128.8" r="9.2" fill="#e3d0ff"/><circle cx="423.7" cy="128.8" r="9.2" fill="#e3d0ff"/><circle cx="453.5" cy="128.8" r="9.2" fill="#e3d0ff"/><circle cx="483.3" cy="128.8" r="9.2" fill="#f4ecff"/><circle cx="513.1" cy="128.8" r="9.2" fill="#f4ecff"/><circle cx="542.9" cy="128.8" r="9.2" fill="#e3d0ff"/><circle cx="572.7" cy="128.8" r="9.2" fill="#b892ff"/><circle cx="602.5" cy="128.8" r="9.2" fill="#d0b2ff"/><circle cx="632.3" cy="128.8" r="9.2" fill="#ffffff"/><circle cx="662.1" cy="128.8" r="9.2" fill="#ffffff"/><circle cx="692.0" cy="128.8" r="9.2" fill="#f4ecff"/><circle cx="721.8" cy="128.8" r="9.2" fill="#f4ecff"/><circle cx="751.6" cy="128.8" r="9.2" fill="#f4ecff"/><circle cx="781.4" cy="128.8" r="9.2" fill="#e3d0ff"/><circle cx="811.2" cy="128.8" r="9.2" fill="#ffffff"/><circle cx="841.0" cy="128.8" r="9.2" fill="#d0b2ff"/><circle cx="870.8" cy="128.8" r="9.2" fill="#e3d0ff"/><circle cx="900.6" cy="128.8" r="9.2" fill="#e3d0ff"/><circle cx="930.4" cy="128.8" r="9.2" fill="#d0b2ff"/><circle cx="960.2" cy="128.8" r="9.2" fill="#b892ff"/>
<circle cx="259.7" cy="154.7" r="9.2" fill="#a074ff"/><circle cx="289.5" cy="154.7" r="9.2" fill="#d0b2ff"/><circle cx="319.3" cy="154.7" r="9.2" fill="#b892ff"/><circle cx="349.1" cy="154.7" r="9.2" fill="#f4ecff"/><circle cx="378.9" cy="154.7" r="9.2" fill="#e3d0ff"/><circle cx="408.8" cy="154.7" r="9.2" fill="#e3d0ff"/><circle cx="438.6" cy="154.7" r="9.2" fill="#e3d0ff"/><circle cx="468.4" cy="154.7" r="9.2" fill="#f4ecff"/><circle cx="498.2" cy="154.7" r="9.2" fill="#e3d0ff"/><circle cx="528.0" cy="154.7" r="9.2" fill="#f4ecff"/><circle cx="557.8" cy="154.7" r="9.2" fill="#f4ecff"/><circle cx="587.6" cy="154.7" r="9.2" fill="#e3d0ff"/><circle cx="617.4" cy="154.7" r="9.2" fill="#fff0ea"/><circle cx="647.2" cy="154.7" r="9.2" fill="#ffffff"/><circle cx="677.0" cy="154.7" r="9.2" fill="#f4ecff"/><circle cx="706.8" cy="154.7" r="9.2" fill="#ffffff"/><circle cx="736.7" cy="154.7" r="9.2" fill="#d0b2ff"/><circle cx="766.5" cy="154.7" r="9.2" fill="#fff0ea"/><circle cx="796.3" cy="154.7" r="9.2" fill="#f4ecff"/><circle cx="826.1" cy="154.7" r="9.2" fill="#f4ecff"/><circle cx="855.9" cy="154.7" r="9.2" fill="#f4ecff"/><circle cx="885.7" cy="154.7" r="9.2" fill="#e3d0ff"/><circle cx="915.5" cy="154.7" r="9.2" fill="#f4ecff"/><circle cx="945.3" cy="154.7" r="9.2" fill="#e3d0ff"/><circle cx="975.1" cy="154.7" r="9.2" fill="#0000ff"/>
<circle cx="244.8" cy="180.7" r="9.2" fill="#b892ff"/><circle cx="274.6" cy="180.7" r="9.2" fill="#b892ff"/><circle cx="304.4" cy="180.7" r="9.2" fill="#b892ff"/><circle cx="334.2" cy="180.7" r="9.2" fill="#e3d0ff"/><circle cx="364.0" cy="180.7" r="9.2" fill="#b892ff"/><circle cx="393.9" cy="180.7" r="9.2" fill="#d0b2ff"/><circle cx="423.7" cy="180.7" r="9.2" fill="#e3d0ff"/><circle cx="453.5" cy="180.7" r="9.2" fill="#e3d0ff"/><circle cx="483.3" cy="180.7" r="9.2" fill="#e3d0ff"/><circle cx="513.1" cy="180.7" r="9.2" fill="#b892ff"/><circle cx="542.9" cy="180.7" r="9.2" fill="#d0b2ff"/><circle cx="572.7" cy="180.7" r="9.2" fill="#b892ff"/><circle cx="602.5" cy="180.7" r="9.2" fill="#f4ecff"/><circle cx="632.3" cy="180.7" r="9.2" fill="#f4ecff"/><circle cx="662.1" cy="180.7" r="9.2" fill="#f4ecff"/><circle cx="692.0" cy="180.7" r="9.2" fill="#e3d0ff"/><circle cx="721.8" cy="180.7" r="9.2" fill="#f4ecff"/><circle cx="751.6" cy="180.7" r="9.2" fill="#f4ecff"/><circle cx="781.4" cy="180.7" r="9.2" fill="#ffffff"/><circle cx="811.2" cy="180.7" r="9.2" fill="#f4ecff"/><circle cx="841.0" cy="180.7" r="9.2" fill="#f4ecff"/><circle cx="870.8" cy="180.7" r="9.2" fill="#d0b2ff"/><circle cx="900.6" cy="180.7" r="9.2" fill="#e3d0ff"/><circle cx="930.4" cy="180.7" r="9.2" fill="#f4ecff"/><circle cx="960.2" cy="180.7" r="9.2" fill="#f4ecff"/>
<circle cx="259.7" cy="206.6" r="9.2" fill="#d0b2ff"/><circle cx="289.5" cy="206.6" r="9.2" fill="#b892ff"/><circle cx="319.3" cy="206.6" r="9.2" fill="#e3d0ff"/><circle cx="349.1" cy="206.6" r="9.2" fill="#d0b2ff"/><circle cx="378.9" cy="206.6" r="9.2" fill="#f4ecff"/><circle cx="408.8" cy="206.6" r="9.2" fill="#f4ecff"/><circle cx="438.6" cy="206.6" r="9.2" fill="#b892ff"/><circle cx="468.4" cy="206.6" r="9.2" fill="#f4ecff"/><circle cx="498.2" cy="206.6" r="9.2" fill="#ffffff"/><circle cx="528.0" cy="206.6" r="9.2" fill="#f4ecff"/><circle cx="557.8" cy="206.6" r="9.2" fill="#e3d0ff"/><circle cx="587.6" cy="206.6" r="9.2" fill="#d0b2ff"/><circle cx="617.4" cy="206.6" r="9.2" fill="#f4ecff"/><circle cx="647.2" cy="206.6" r="9.2" fill="#d0b2ff"/><circle cx="677.0" cy="206.6" r="9.2" fill="#ffffff"/><circle cx="706.8" cy="206.6" r="9.2" fill="#e3d0ff"/><circle cx="736.7" cy="206.6" r="9.2" fill="#fff0ea"/><circle cx="766.5" cy="206.6" r="9.2" fill="#ffffff"/><circle cx="796.3" cy="206.6" r="9.2" fill="#fff0ea"/><circle cx="826.1" cy="206.6" r="9.2" fill="#f4ecff"/><circle cx="855.9" cy="206.6" r="9.2" fill="#ffd9cb"/><circle cx="885.7" cy="206.6" r="9.2" fill="#e3d0ff"/><circle cx="915.5" cy="206.6" r="9.2" fill="#f4ecff"/><circle cx="945.3" cy="206.6" r="9.2" fill="#e3d0ff"/><circle cx="975.1" cy="206.6" r="9.2" fill="#a074ff"/>
<circle cx="244.8" cy="232.6" r="9.2" fill="#d0b2ff"/><circle cx="274.6" cy="232.6" r="9.2" fill="#b892ff"/><circle cx="304.4" cy="232.6" r="9.2" fill="#b892ff"/><circle cx="334.2" cy="232.6" r="9.2" fill="#fff0ea"/><circle cx="364.0" cy="232.6" r="9.2" fill="#d0b2ff"/><circle cx="393.9" cy="232.6" r="9.2" fill="#f4ecff"/><circle cx="423.7" cy="232.6" r="9.2" fill="#ffd9cb"/><circle cx="453.5" cy="232.6" r="9.2" fill="#ffffff"/><circle cx="483.3" cy="232.6" r="9.2" fill="#ffd9cb"/><circle cx="513.1" cy="232.6" r="9.2" fill="#ffc0ab"/><circle cx="542.9" cy="232.6" r="9.2" fill="#ffd9cb"/><circle cx="572.7" cy="232.6" r="9.2" fill="#ffffff"/><circle cx="602.5" cy="232.6" r="9.2" fill="#ffffff"/><circle cx="632.3" cy="232.6" r="9.2" fill="#e3d0ff"/><circle cx="662.1" cy="232.6" r="9.2" fill="#d0b2ff"/><circle cx="692.0" cy="232.6" r="9.2" fill="#d0b2ff"/><circle cx="721.8" cy="232.6" r="9.2" fill="#f4ecff"/><circle cx="751.6" cy="232.6" r="9.2" fill="#fff0ea"/><circle cx="781.4" cy="232.6" r="9.2" fill="#f4ecff"/><circle cx="811.2" cy="232.6" r="9.2" fill="#fff0ea"/><circle cx="841.0" cy="232.6" r="9.2" fill="#fff0ea"/><circle cx="870.8" cy="232.6" r="9.2" fill="#f4ecff"/><circle cx="900.6" cy="232.6" r="9.2" fill="#e3d0ff"/><circle cx="930.4" cy="232.6" r="9.2" fill="#b892ff"/><circle cx="960.2" cy="232.6" r="9.2" fill="#e3d0ff"/>
<circle cx="259.7" cy="258.5" r="9.2" fill="#a074ff"/><circle cx="289.5" cy="258.5" r="9.2" fill="#e3d0ff"/><circle cx="319.3" cy="258.5" r="9.2" fill="#b892ff"/><circle cx="349.1" cy="258.5" r="9.2" fill="#fff0ea"/><circle cx="378.9" cy="258.5" r="9.2" fill="#e3d0ff"/><circle cx="408.8" cy="258.5" r="9.2" fill="#d0b2ff"/><circle cx="438.6" cy="258.5" r="9.2" fill="#d0b2ff"/><circle cx="468.4" cy="258.5" r="9.2" fill="#d0b2ff"/><circle cx="498.2" cy="258.5" r="9.2" fill="#d0b2ff"/><circle cx="528.0" cy="258.5" r="9.2" fill="#ffd9cb"/><circle cx="557.8" cy="258.5" r="9.2" fill="#ffd9cb"/><circle cx="587.6" cy="258.5" r="9.2" fill="#fff0ea"/><circle cx="617.4" cy="258.5" r="9.2" fill="#f4ecff"/><circle cx="647.2" cy="258.5" r="9.2" fill="#ffd9cb"/><circle cx="677.0" cy="258.5" r="9.2" fill="#f4ecff"/><circle cx="706.8" cy="258.5" r="9.2" fill="#ffffff"/><circle cx="736.7" cy="258.5" r="9.2" fill="#ffffff"/><circle cx="766.5" cy="258.5" r="9.2" fill="#f4ecff"/><circle cx="796.3" cy="258.5" r="9.2" fill="#e3d0ff"/><circle cx="826.1" cy="258.5" r="9.2" fill="#ffd9cb"/><circle cx="855.9" cy="258.5" r="9.2" fill="#ffffff"/><circle cx="885.7" cy="258.5" r="9.2" fill="#ffffff"/><circle cx="915.5" cy="258.5" r="9.2" fill="#e3d0ff"/><circle cx="945.3" cy="258.5" r="9.2" fill="#f4ecff"/><circle cx="975.1" cy="258.5" r="9.2" fill="#e3d0ff"/>
<circle cx="244.8" cy="284.4" r="9.2" fill="#e3d0ff"/><circle cx="274.6" cy="284.4" r="9.2" fill="#d0b2ff"/><circle cx="304.4" cy="284.4" r="9.2" fill="#d0b2ff"/><circle cx="334.2" cy="284.4" r="9.2" fill="#b892ff"/><circle cx="364.0" cy="284.4" r="9.2" fill="#b892ff"/><circle cx="393.9" cy="284.4" r="9.2" fill="#d0b2ff"/><circle cx="423.7" cy="284.4" r="9.2" fill="#fff0ea"/><circle cx="453.5" cy="284.4" r="9.2" fill="#fff0ea"/><circle cx="483.3" cy="284.4" r="9.2" fill="#ffffff"/><circle cx="513.1" cy="284.4" r="9.2" fill="#e3d0ff"/><circle cx="542.9" cy="284.4" r="9.2" fill="#b892ff"/><circle cx="572.7" cy="284.4" r="9.2" fill="#d0b2ff"/><circle cx="602.5" cy="284.4" r="9.2" fill="#e3d0ff"/><circle cx="632.3" cy="284.4" r="9.2" fill="#ffd9cb"/><circle cx="662.1" cy="284.4" r="9.2" fill="#ffd9cb"/><circle cx="692.0" cy="284.4" r="9.2" fill="#ffd9cb"/><circle cx="721.8" cy="284.4" r="9.2" fill="#f4ecff"/><circle cx="751.6" cy="284.4" r="9.2" fill="#fff0ea"/><circle cx="781.4" cy="284.4" r="9.2" fill="#fff0ea"/><circle cx="811.2" cy="284.4" r="9.2" fill="#f4ecff"/><circle cx="841.0" cy="284.4" r="9.2" fill="#f4ecff"/><circle cx="870.8" cy="284.4" r="9.2" fill="#f4ecff"/><circle cx="900.6" cy="284.4" r="9.2" fill="#f4ecff"/><circle cx="930.4" cy="284.4" r="9.2" fill="#d0b2ff"/><circle cx="960.2" cy="284.4" r="9.2" fill="#e3d0ff"/>
<circle cx="259.7" cy="310.4" r="9.2" fill="#d0b2ff"/><circle cx="289.5" cy="310.4" r="9.2" fill="#b892ff"/><circle cx="319.3" cy="310.4" r="9.2" fill="#e3d0ff"/><circle cx="349.1" cy="310.4" r="9.2" fill="#a074ff"/><circle cx="378.9" cy="310.4" r="9.2" fill="#fff0ea"/><circle cx="408.8" cy="310.4" r="9.2" fill="#ffd9cb"/><circle cx="438.6" cy="310.4" r="9.2" fill="#fff0ea"/><circle cx="468.4" cy="310.4" r="9.2" fill="#ffd9cb"/><circle cx="498.2" cy="310.4" r="9.2" fill="#ffd9cb"/><circle cx="528.0" cy="310.4" r="9.2" fill="#ffc0ab"/><circle cx="557.8" cy="310.4" r="9.2" fill="#ffd9cb"/><circle cx="587.6" cy="310.4" r="9.2" fill="#fff0ea"/><circle cx="617.4" cy="310.4" r="9.2" fill="#e3d0ff"/><circle cx="647.2" cy="310.4" r="9.2" fill="#f4ecff"/><circle cx="677.0" cy="310.4" r="9.2" fill="#ffc0ab"/><circle cx="706.8" cy="310.4" r="9.2" fill="#ffc0ab"/><circle cx="736.7" cy="310.4" r="9.2" fill="#ffd9cb"/><circle cx="766.5" cy="310.4" r="9.2" fill="#ffffff"/><circle cx="796.3" cy="310.4" r="9.2" fill="#f4ecff"/><circle cx="826.1" cy="310.4" r="9.2" fill="#f4ecff"/><circle cx="855.9" cy="310.4" r="9.2" fill="#ffffff"/><circle cx="885.7" cy="310.4" r="9.2" fill="#fff0ea"/><circle cx="915.5" cy="310.4" r="9.2" fill="#ffffff"/><circle cx="945.3" cy="310.4" r="9.2" fill="#f4ecff"/><circle cx="975.1" cy="310.4" r="9.2" fill="#f4ecff"/>
<circle cx="244.8" cy="336.3" r="9.2" fill="#a074ff"/><circle cx="274.6" cy="336.3" r="9.2" fill="#d0b2ff"/><circle cx="304.4" cy="336.3" r="9.2" fill="#f4ecff"/><circle cx="334.2" cy="336.3" r="9.2" fill="#e3d0ff"/><circle cx="364.0" cy="336.3" r="9.2" fill="#fff0ea"/><circle cx="393.9" cy="336.3" r="9.2" fill="#ffd9cb"/><circle cx="423.7" cy="336.3" r="9.2" fill="#ffd9cb"/><circle cx="453.5" cy="336.3" r="9.2" fill="#fff0ea"/><circle cx="483.3" cy="336.3" r="9.2" fill="#ffc0ab"/><circle cx="513.1" cy="336.3" r="9.2" fill="#ffd9cb"/><circle cx="542.9" cy="336.3" r="9.2" fill="#ffc0ab"/><circle cx="572.7" cy="336.3" r="9.2" fill="#ffc0ab"/><circle cx="602.5" cy="336.3" r="9.2" fill="#ffc0ab"/><circle cx="632.3" cy="336.3" r="9.2" fill="#fff0ea"/><circle cx="662.1" cy="336.3" r="9.2" fill="#f4ecff"/><circle cx="692.0" cy="336.3" r="9.2" fill="#ffffff"/><circle cx="721.8" cy="336.3" r="9.2" fill="#ffd9cb"/><circle cx="751.6" cy="336.3" r="9.2" fill="#ffc0ab"/><circle cx="781.4" cy="336.3" r="9.2" fill="#ffc0ab"/><circle cx="811.2" cy="336.3" r="9.2" fill="#ffd9cb"/><circle cx="841.0" cy="336.3" r="9.2" fill="#f4ecff"/><circle cx="870.8" cy="336.3" r="9.2" fill="#ffffff"/><circle cx="900.6" cy="336.3" r="9.2" fill="#ffffff"/><circle cx="930.4" cy="336.3" r="9.2" fill="#f4ecff"/><circle cx="960.2" cy="336.3" r="9.2" fill="#d0b2ff"/>
<circle cx="259.7" cy="362.3" r="9.2" fill="#b892ff"/><circle cx="289.5" cy="362.3" r="9.2" fill="#e3d0ff"/><circle cx="319.3" cy="362.3" r="9.2" fill="#e3d0ff"/><circle cx="349.1" cy="362.3" r="9.2" fill="#ffd9cb"/><circle cx="378.9" cy="362.3" r="9.2" fill="#fff0ea"/><circle cx="408.8" cy="362.3" r="9.2" fill="#f4ecff"/><circle cx="438.6" cy="362.3" r="9.2" fill="#fff0ea"/><circle cx="468.4" cy="362.3" r="9.2" fill="#f4ecff"/><circle cx="498.2" cy="362.3" r="9.2" fill="#fff0ea"/><circle cx="528.0" cy="362.3" r="9.2" fill="#fff0ea"/><circle cx="557.8" cy="362.3" r="9.2" fill="#ffc0ab"/><circle cx="587.6" cy="362.3" r="9.2" fill="#ffd9cb"/><circle cx="617.4" cy="362.3" r="9.2" fill="#ffc0ab"/><circle cx="647.2" cy="362.3" r="9.2" fill="#ffc0ab"/><circle cx="677.0" cy="362.3" r="9.2" fill="#ffc0ab"/><circle cx="706.8" cy="362.3" r="9.2" fill="#ffffff"/><circle cx="736.7" cy="362.3" r="9.2" fill="#f4ecff"/><circle cx="766.5" cy="362.3" r="9.2" fill="#ffc0ab"/><circle cx="796.3" cy="362.3" r="9.2" fill="#ffac92"/><circle cx="826.1" cy="362.3" r="9.2" fill="#ffc0ab"/><circle cx="855.9" cy="362.3" r="9.2" fill="#fff0ea"/><circle cx="885.7" cy="362.3" r="9.2" fill="#d0b2ff"/><circle cx="915.5" cy="362.3" r="9.2" fill="#ffffff"/><circle cx="945.3" cy="362.3" r="9.2" fill="#d0b2ff"/><circle cx="975.1" cy="362.3" r="9.2" fill="#f4ecff"/>
<circle cx="244.8" cy="388.2" r="9.2" fill="#d0b2ff"/><circle cx="274.6" cy="388.2" r="9.2" fill="#d0b2ff"/><circle cx="304.4" cy="388.2" r="9.2" fill="#e3d0ff"/><circle cx="334.2" cy="388.2" r="9.2" fill="#ffc0ab"/><circle cx="364.0" cy="388.2" r="9.2" fill="#f4ecff"/><circle cx="393.9" cy="388.2" r="9.2" fill="#e3d0ff"/><circle cx="423.7" cy="388.2" r="9.2" fill="#fff0ea"/><circle cx="453.5" cy="388.2" r="9.2" fill="#fff0ea"/><circle cx="483.3" cy="388.2" r="9.2" fill="#fff0ea"/><circle cx="513.1" cy="388.2" r="9.2" fill="#ffd9cb"/><circle cx="542.9" cy="388.2" r="9.2" fill="#f4ecff"/><circle cx="572.7" cy="388.2" r="9.2" fill="#ffd9cb"/><circle cx="602.5" cy="388.2" r="9.2" fill="#ffd9cb"/><circle cx="632.3" cy="388.2" r="9.2" fill="#ffac92"/><circle cx="662.1" cy="388.2" r="9.2" fill="#ffc0ab"/><circle cx="692.0" cy="388.2" r="9.2" fill="#ffc0ab"/><circle cx="721.8" cy="388.2" r="9.2" fill="#ffc0ab"/><circle cx="751.6" cy="388.2" r="9.2" fill="#f4ecff"/><circle cx="781.4" cy="388.2" r="9.2" fill="#fff0ea"/><circle cx="811.2" cy="388.2" r="9.2" fill="#ffac92"/><circle cx="841.0" cy="388.2" r="9.2" fill="#ffd9cb"/><circle cx="870.8" cy="388.2" r="9.2" fill="#fff0ea"/><circle cx="900.6" cy="388.2" r="9.2" fill="#fff0ea"/><circle cx="930.4" cy="388.2" r="9.2" fill="#f4ecff"/><circle cx="960.2" cy="388.2" r="9.2" fill="#ffffff"/>
<circle cx="259.7" cy="414.1" r="9.2" fill="#b892ff"/><circle cx="289.5" cy="414.1" r="9.2" fill="#d0b2ff"/><circle cx="319.3" cy="414.1" r="9.2" fill="#ffffff"/><circle cx="349.1" cy="414.1" r="9.2" fill="#f4ecff"/><circle cx="378.9" cy="414.1" r="9.2" fill="#ffffff"/><circle cx="408.8" cy="414.1" r="9.2" fill="#e3d0ff"/><circle cx="438.6" cy="414.1" r="9.2" fill="#fff0ea"/><circle cx="498.2" cy="414.1" r="9.2" fill="#e3d0ff"/><circle cx="528.0" cy="414.1" r="9.2" fill="#ffd9cb"/><circle cx="557.8" cy="414.1" r="9.2" fill="#fff0ea"/><circle cx="587.6" cy="414.1" r="9.2" fill="#ffffff"/><circle cx="617.4" cy="414.1" r="9.2" fill="#fff0ea"/><circle cx="647.2" cy="414.1" r="9.2" fill="#ffd9cb"/><circle cx="677.0" cy="414.1" r="9.2" fill="#ffc0ab"/><circle cx="706.8" cy="414.1" r="9.2" fill="#ffc0ab"/><circle cx="736.7" cy="414.1" r="9.2" fill="#ffd9cb"/><circle cx="766.5" cy="414.1" r="9.2" fill="#ffc0ab"/><circle cx="796.3" cy="414.1" r="9.2" fill="#ffffff"/><circle cx="826.1" cy="414.1" r="9.2" fill="#ffc0ab"/><circle cx="855.9" cy="414.1" r="9.2" fill="#ffac92"/><circle cx="885.7" cy="414.1" r="9.2" fill="#fff0ea"/><circle cx="915.5" cy="414.1" r="9.2" fill="#e3d0ff"/><circle cx="945.3" cy="414.1" r="9.2" fill="#d0b2ff"/><circle cx="975.1" cy="414.1" r="9.2" fill="#e3d0ff"/>
<circle cx="244.8" cy="440.1" r="9.2" fill="#b892ff"/><circle cx="274.6" cy="440.1" r="9.2" fill="#ffd9cb"/><circle cx="304.4" cy="440.1" r="9.2" fill="#ffffff"/><circle cx="334.2" cy="440.1" r="9.2" fill="#d0b2ff"/><circle cx="364.0" cy="440.1" r="9.2" fill="#ffd9cb"/><circle cx="393.9" cy="440.1" r="9.2" fill="#fff0ea"/><circle cx="423.7" cy="440.1" r="9.2" fill="#ffffff"/><circle cx="453.5" cy="440.1" r="9.2" fill="#f4ecff"/><circle cx="483.3" cy="440.1" r="9.2" fill="#e3d0ff"/><circle cx="513.1" cy="440.1" r="9.2" fill="#ffffff"/><circle cx="542.9" cy="440.1" r="9.2" fill="#f4ecff"/><circle cx="572.7" cy="440.1" r="9.2" fill="#fff0ea"/><circle cx="602.5" cy="440.1" r="9.2" fill="#ffc0ab"/><circle cx="632.3" cy="440.1" r="9.2" fill="#ffc0ab"/><circle cx="662.1" cy="440.1" r="9.2" fill="#ffc0ab"/><circle cx="692.0" cy="440.1" r="9.2" fill="#ffd9cb"/><circle cx="721.8" cy="440.1" r="9.2" fill="#ffac92"/><circle cx="751.6" cy="440.1" r="9.2" fill="#ffac92"/><circle cx="781.4" cy="440.1" r="9.2" fill="#ffc0ab"/><circle cx="811.2" cy="440.1" r="9.2" fill="#ffffff"/><circle cx="841.0" cy="440.1" r="9.2" fill="#ffc0ab"/><circle cx="870.8" cy="440.1" r="9.2" fill="#ffc0ab"/><circle cx="900.6" cy="440.1" r="9.2" fill="#ffffff"/><circle cx="930.4" cy="440.1" r="9.2" fill="#e3d0ff"/><circle cx="960.2" cy="440.1" r="9.2" fill="#e3d0ff"/>
<circle cx="259.7" cy="466.0" r="9.2" fill="#ffffff"/><circle cx="289.5" cy="466.0" r="9.2" fill="#ffd9cb"/><circle cx="319.3" cy="466.0" r="9.2" fill="#ffffff"/><circle cx="349.1" cy="466.0" r="9.2" fill="#ffffff"/><circle cx="378.9" cy="466.0" r="9.2" fill="#e3d0ff"/><circle cx="408.8" cy="466.0" r="9.2" fill="#b892ff"/><circle cx="438.6" cy="466.0" r="9.2" fill="#b892ff"/><circle cx="468.4" cy="466.0" r="9.2" fill="#b892ff"/><circle cx="498.2" cy="466.0" r="9.2" fill="#d0b2ff"/><circle cx="528.0" cy="466.0" r="9.2" fill="#d0b2ff"/><circle cx="557.8" cy="466.0" r="9.2" fill="#e3d0ff"/><circle cx="587.6" cy="466.0" r="9.2" fill="#ffd9cb"/><circle cx="617.4" cy="466.0" r="9.2" fill="#ffd9cb"/><circle cx="647.2" cy="466.0" r="9.2" fill="#ffc0ab"/><circle cx="677.0" cy="466.0" r="9.2" fill="#ffffff"/><circle cx="706.8" cy="466.0" r="9.2" fill="#ffd9cb"/><circle cx="736.7" cy="466.0" r="9.2" fill="#ffc0ab"/><circle cx="766.5" cy="466.0" r="9.2" fill="#ffc0ab"/><circle cx="796.3" cy="466.0" r="9.2" fill="#ffc0ab"/><circle cx="826.1" cy="466.0" r="9.2" fill="#f4ecff"/><circle cx="855.9" cy="466.0" r="9.2" fill="#ffd9cb"/><circle cx="885.7" cy="466.0" r="9.2" fill="#ffc0ab"/><circle cx="915.5" cy="466.0" r="9.2" fill="#ffffff"/><circle cx="945.3" cy="466.0" r="9.2" fill="#d0b2ff"/><circle cx="975.1" cy="466.0" r="9.2" fill="#fff0ea"/>
<circle cx="244.8" cy="492.0" r="9.2" fill="#ffd9cb"/><circle cx="274.6" cy="492.0" r="9.2" fill="#f4ecff"/><circle cx="304.4" cy="492.0" r="9.2" fill="#ffffff"/><circle cx="334.2" cy="492.0" r="9.2" fill="#d0b2ff"/><circle cx="364.0" cy="492.0" r="9.2" fill="#d0b2ff"/><circle cx="393.9" cy="492.0" r="9.2" fill="#b892ff"/><circle cx="423.7" cy="492.0" r="9.2" fill="#b892ff"/><circle cx="453.5" cy="492.0" r="9.2" fill="#b892ff"/><circle cx="483.3" cy="492.0" r="9.2" fill="#b892ff"/><circle cx="513.1" cy="492.0" r="9.2" fill="#d0b2ff"/><circle cx="542.9" cy="492.0" r="9.2" fill="#e3d0ff"/><circle cx="572.7" cy="492.0" r="9.2" fill="#b892ff"/><circle cx="602.5" cy="492.0" r="9.2" fill="#b892ff"/><circle cx="632.3" cy="492.0" r="9.2" fill="#d0b2ff"/><circle cx="662.1" cy="492.0" r="9.2" fill="#ffd9cb"/><circle cx="692.0" cy="492.0" r="9.2" fill="#ffc0ab"/><circle cx="721.8" cy="492.0" r="9.2" fill="#ffd9cb"/><circle cx="751.6" cy="492.0" r="9.2" fill="#ffc0ab"/><circle cx="781.4" cy="492.0" r="9.2" fill="#ffc0ab"/><circle cx="811.2" cy="492.0" r="9.2" fill="#ffac92"/><circle cx="841.0" cy="492.0" r="9.2" fill="#ffd9cb"/><circle cx="870.8" cy="492.0" r="9.2" fill="#ffac92"/><circle cx="900.6" cy="492.0" r="9.2" fill="#ffac92"/><circle cx="930.4" cy="492.0" r="9.2" fill="#f4ecff"/><circle cx="960.2" cy="492.0" r="9.2" fill="#ffffff"/>
<circle cx="259.7" cy="517.9" r="9.2" fill="#e3d0ff"/><circle cx="289.5" cy="517.9" r="9.2" fill="#ffd9cb"/><circle cx="319.3" cy="517.9" r="9.2" fill="#f4ecff"/><circle cx="349.1" cy="517.9" r="9.2" fill="#f4ecff"/><circle cx="378.9" cy="517.9" r="9.2" fill="#f4ecff"/><circle cx="408.8" cy="517.9" r="9.2" fill="#f4ecff"/><circle cx="438.6" cy="517.9" r="9.2" fill="#e3d0ff"/><circle cx="468.4" cy="517.9" r="9.2" fill="#e3d0ff"/><circle cx="498.2" cy="517.9" r="9.2" fill="#d0b2ff"/><circle cx="528.0" cy="517.9" r="9.2" fill="#a074ff"/><circle cx="557.8" cy="517.9" r="9.2" fill="#d0b2ff"/><circle cx="587.6" cy="517.9" r="9.2" fill="#d0b2ff"/><circle cx="617.4" cy="517.9" r="9.2" fill="#f4ecff"/><circle cx="647.2" cy="517.9" r="9.2" fill="#fff0ea"/><circle cx="677.0" cy="517.9" r="9.2" fill="#ffd9cb"/><circle cx="706.8" cy="517.9" r="9.2" fill="#ffc0ab"/><circle cx="736.7" cy="517.9" r="9.2" fill="#ffc0ab"/><circle cx="766.5" cy="517.9" r="9.2" fill="#ffc0ab"/><circle cx="796.3" cy="517.9" r="9.2" fill="#ffc0ab"/><circle cx="826.1" cy="517.9" r="9.2" fill="#ffc0ab"/><circle cx="855.9" cy="517.9" r="9.2" fill="#ffd9cb"/><circle cx="885.7" cy="517.9" r="9.2" fill="#ffc0ab"/><circle cx="915.5" cy="517.9" r="9.2" fill="#ffc0ab"/><circle cx="945.3" cy="517.9" r="9.2" fill="#ffffff"/><circle cx="975.1" cy="517.9" r="9.2" fill="#ffffff"/>
<circle cx="244.8" cy="543.8" r="9.2" fill="#f4ecff"/><circle cx="274.6" cy="543.8" r="9.2" fill="#f4ecff"/><circle cx="304.4" cy="543.8" r="9.2" fill="#fff0ea"/><circle cx="334.2" cy="543.8" r="9.2" fill="#e3d0ff"/><circle cx="364.0" cy="543.8" r="9.2" fill="#fff0ea"/><circle cx="393.9" cy="543.8" r="9.2" fill="#ffd9cb"/><circle cx="423.7" cy="543.8" r="9.2" fill="#ffd9cb"/><circle cx="453.5" cy="543.8" r="9.2" fill="#f4ecff"/><circle cx="483.3" cy="543.8" r="9.2" fill="#b892ff"/><circle cx="513.1" cy="543.8" r="9.2" fill="#e3d0ff"/><circle cx="542.9" cy="543.8" r="9.2" fill="#e3d0ff"/><circle cx="572.7" cy="543.8" r="9.2" fill="#f4ecff"/><circle cx="602.5" cy="543.8" r="9.2" fill="#d0b2ff"/><circle cx="632.3" cy="543.8" r="9.2" fill="#b892ff"/><circle cx="662.1" cy="543.8" r="9.2" fill="#e3d0ff"/><circle cx="692.0" cy="543.8" r="9.2" fill="#ffd9cb"/><circle cx="721.8" cy="543.8" r="9.2" fill="#ffc0ab"/><circle cx="751.6" cy="543.8" r="9.2" fill="#ffc0ab"/><circle cx="781.4" cy="543.8" r="9.2" fill="#ffac92"/><circle cx="811.2" cy="543.8" r="9.2" fill="#ffac92"/><circle cx="841.0" cy="543.8" r="9.2" fill="#ffc0ab"/><circle cx="870.8" cy="543.8" r="9.2" fill="#fff0ea"/><circle cx="900.6" cy="543.8" r="9.2" fill="#ffac92"/><circle cx="930.4" cy="543.8" r="9.2" fill="#ffc0ab"/><circle cx="960.2" cy="543.8" r="9.2" fill="#ffffff"/>
<circle cx="259.7" cy="569.8" r="9.2" fill="#e3d0ff"/><circle cx="289.5" cy="569.8" r="9.2" fill="#e3d0ff"/><circle cx="319.3" cy="569.8" r="9.2" fill="#d0b2ff"/><circle cx="349.1" cy="569.8" r="9.2" fill="#b892ff"/><circle cx="378.9" cy="569.8" r="9.2" fill="#b892ff"/><circle cx="408.8" cy="569.8" r="9.2" fill="#b892ff"/><circle cx="438.6" cy="569.8" r="9.2" fill="#ffd9cb"/><circle cx="468.4" cy="569.8" r="9.2" fill="#e3d0ff"/><circle cx="498.2" cy="569.8" r="9.2" fill="#d0b2ff"/><circle cx="528.0" cy="569.8" r="9.2" fill="#a074ff"/><circle cx="557.8" cy="569.8" r="9.2" fill="#b892ff"/><circle cx="587.6" cy="569.8" r="9.2" fill="#b892ff"/><circle cx="617.4" cy="569.8" r="9.2" fill="#e3d0ff"/><circle cx="647.2" cy="569.8" r="9.2" fill="#d0b2ff"/><circle cx="677.0" cy="569.8" r="9.2" fill="#d0b2ff"/><circle cx="706.8" cy="569.8" r="9.2" fill="#fff0ea"/><circle cx="736.7" cy="569.8" r="9.2" fill="#ffd9cb"/><circle cx="766.5" cy="569.8" r="9.2" fill="#ffc0ab"/><circle cx="796.3" cy="569.8" r="9.2" fill="#ffac92"/><circle cx="826.1" cy="569.8" r="9.2" fill="#ffac92"/><circle cx="855.9" cy="569.8" r="9.2" fill="#ffc0ab"/><circle cx="885.7" cy="569.8" r="9.2" fill="#fff0ea"/><circle cx="915.5" cy="569.8" r="9.2" fill="#ffac92"/><circle cx="945.3" cy="569.8" r="9.2" fill="#ffc0ab"/><circle cx="975.1" cy="569.8" r="9.2" fill="#fff0ea"/>
<circle cx="244.8" cy="595.7" r="9.2" fill="#d0b2ff"/><circle cx="274.6" cy="595.7" r="9.2" fill="#e3d0ff"/><circle cx="304.4" cy="595.7" r="9.2" fill="#e3d0ff"/><circle cx="334.2" cy="595.7" r="9.2" fill="#ffffff"/><circle cx="364.0" cy="595.7" r="9.2" fill="#e3d0ff"/><circle cx="393.9" cy="595.7" r="9.2" fill="#e3d0ff"/><circle cx="423.7" cy="595.7" r="9.2" fill="#b892ff"/><circle cx="453.5" cy="595.7" r="9.2" fill="#e3d0ff"/><circle cx="483.3" cy="595.7" r="9.2" fill="#e3d0ff"/><circle cx="513.1" cy="595.7" r="9.2" fill="#d0b2ff"/><circle cx="542.9" cy="595.7" r="9.2" fill="#a074ff"/><circle cx="572.7" cy="595.7" r="9.2" fill="#fff0ea"/><circle cx="602.5" cy="595.7" r="9.2" fill="#d0b2ff"/><circle cx="632.3" cy="595.7" r="9.2" fill="#b892ff"/><circle cx="662.1" cy="595.7" r="9.2" fill="#b892ff"/><circle cx="692.0" cy="595.7" r="9.2" fill="#d0b2ff"/><circle cx="721.8" cy="595.7" r="9.2" fill="#f4ecff"/><circle cx="751.6" cy="595.7" r="9.2" fill="#fff0ea"/><circle cx="781.4" cy="595.7" r="9.2" fill="#ffd9cb"/><circle cx="811.2" cy="595.7" r="9.2" fill="#ffc0ab"/><circle cx="841.0" cy="595.7" r="9.2" fill="#ffc0ab"/><circle cx="870.8" cy="595.7" r="9.2" fill="#fff0ea"/><circle cx="900.6" cy="595.7" r="9.2" fill="#ffc0ab"/><circle cx="930.4" cy="595.7" r="9.2" fill="#ffc0ab"/><circle cx="960.2" cy="595.7" r="9.2" fill="#ffffff"/>
<circle cx="259.7" cy="621.7" r="9.2" fill="#e3d0ff"/><circle cx="289.5" cy="621.7" r="9.2" fill="#f4ecff"/><circle cx="319.3" cy="621.7" r="9.2" fill="#f4ecff"/><circle cx="349.1" cy="621.7" r="9.2" fill="#ffffff"/><circle cx="378.9" cy="621.7" r="9.2" fill="#d0b2ff"/><circle cx="408.8" cy="621.7" r="9.2" fill="#f4ecff"/><circle cx="438.6" cy="621.7" r="9.2" fill="#e3d0ff"/><circle cx="468.4" cy="621.7" r="9.2" fill="#e3d0ff"/><circle cx="498.2" cy="621.7" r="9.2" fill="#e3d0ff"/><circle cx="528.0" cy="621.7" r="9.2" fill="#d0b2ff"/><circle cx="557.8" cy="621.7" r="9.2" fill="#d0b2ff"/><circle cx="587.6" cy="621.7" r="9.2" fill="#f4ecff"/><circle cx="617.4" cy="621.7" r="9.2" fill="#e3d0ff"/><circle cx="647.2" cy="621.7" r="9.2" fill="#e3d0ff"/><circle cx="677.0" cy="621.7" r="9.2" fill="#b892ff"/><circle cx="706.8" cy="621.7" r="9.2" fill="#ffffff"/><circle cx="736.7" cy="621.7" r="9.2" fill="#d0b2ff"/><circle cx="766.5" cy="621.7" r="9.2" fill="#fff0ea"/><circle cx="796.3" cy="621.7" r="9.2" fill="#ffd9cb"/><circle cx="826.1" cy="621.7" r="9.2" fill="#ffc0ab"/><circle cx="855.9" cy="621.7" r="9.2" fill="#ffffff"/><circle cx="885.7" cy="621.7" r="9.2" fill="#ffd9cb"/><circle cx="915.5" cy="621.7" r="9.2" fill="#ff8969"/><circle cx="945.3" cy="621.7" r="9.2" fill="#ffac92"/><circle cx="975.1" cy="621.7" r="9.2" fill="#ffd9cb"/>
<circle cx="244.8" cy="647.6" r="9.2" fill="#e3d0ff"/><circle cx="274.6" cy="647.6" r="9.2" fill="#e3d0ff"/><circle cx="304.4" cy="647.6" r="9.2" fill="#d0b2ff"/><circle cx="334.2" cy="647.6" r="9.2" fill="#ffffff"/><circle cx="364.0" cy="647.6" r="9.2" fill="#b892ff"/><circle cx="393.9" cy="647.6" r="9.2" fill="#e3d0ff"/><circle cx="423.7" cy="647.6" r="9.2" fill="#b892ff"/><circle cx="453.5" cy="647.6" r="9.2" fill="#e3d0ff"/><circle cx="483.3" cy="647.6" r="9.2" fill="#d0b2ff"/><circle cx="513.1" cy="647.6" r="9.2" fill="#e3d0ff"/><circle cx="542.9" cy="647.6" r="9.2" fill="#b892ff"/><circle cx="572.7" cy="647.6" r="9.2" fill="#e3d0ff"/><circle cx="602.5" cy="647.6" r="9.2" fill="#d0b2ff"/><circle cx="632.3" cy="647.6" r="9.2" fill="#d0b2ff"/><circle cx="662.1" cy="647.6" r="9.2" fill="#b892ff"/><circle cx="692.0" cy="647.6" r="9.2" fill="#e3d0ff"/><circle cx="721.8" cy="647.6" r="9.2" fill="#f4ecff"/><circle cx="751.6" cy="647.6" r="9.2" fill="#f4ecff"/><circle cx="781.4" cy="647.6" r="9.2" fill="#d0b2ff"/><circle cx="811.2" cy="647.6" r="9.2" fill="#f4ecff"/><circle cx="841.0" cy="647.6" r="9.2" fill="#ffffff"/><circle cx="870.8" cy="647.6" r="9.2" fill="#ffd9cb"/><circle cx="900.6" cy="647.6" r="9.2" fill="#ff8969"/><circle cx="930.4" cy="647.6" r="9.2" fill="#ffac92"/><circle cx="960.2" cy="647.6" r="9.2" fill="#ffd9cb"/>
<circle cx="259.7" cy="673.5" r="9.2" fill="#d0b2ff"/><circle cx="289.5" cy="673.5" r="9.2" fill="#d0b2ff"/><circle cx="319.3" cy="673.5" r="9.2" fill="#d0b2ff"/><circle cx="349.1" cy="673.5" r="9.2" fill="#e3d0ff"/><circle cx="378.9" cy="673.5" r="9.2" fill="#e3d0ff"/><circle cx="408.8" cy="673.5" r="9.2" fill="#d0b2ff"/><circle cx="438.6" cy="673.5" r="9.2" fill="#d0b2ff"/><circle cx="468.4" cy="673.5" r="9.2" fill="#d0b2ff"/><circle cx="498.2" cy="673.5" r="9.2" fill="#d0b2ff"/><circle cx="528.0" cy="673.5" r="9.2" fill="#b892ff"/><circle cx="557.8" cy="673.5" r="9.2" fill="#d0b2ff"/><circle cx="587.6" cy="673.5" r="9.2" fill="#d0b2ff"/><circle cx="617.4" cy="673.5" r="9.2" fill="#b892ff"/><circle cx="647.2" cy="673.5" r="9.2" fill="#d0b2ff"/><circle cx="677.0" cy="673.5" r="9.2" fill="#d0b2ff"/><circle cx="706.8" cy="673.5" r="9.2" fill="#d0b2ff"/><circle cx="736.7" cy="673.5" r="9.2" fill="#e3d0ff"/><circle cx="766.5" cy="673.5" r="9.2" fill="#ffd9cb"/><circle cx="796.3" cy="673.5" r="9.2" fill="#ffc0ab"/><circle cx="826.1" cy="673.5" r="9.2" fill="#ffc0ab"/><circle cx="855.9" cy="673.5" r="9.2" fill="#ffac92"/><circle cx="885.7" cy="673.5" r="9.2" fill="#ffac92"/><circle cx="915.5" cy="673.5" r="9.2" fill="#ff8969"/><circle cx="945.3" cy="673.5" r="9.2" fill="#ff6846"/><circle cx="975.1" cy="673.5" r="9.2" fill="#ffc0ab"/>
<circle cx="244.8" cy="699.5" r="9.2" fill="#b892ff"/><circle cx="274.6" cy="699.5" r="9.2" fill="#a074ff"/><circle cx="304.4" cy="699.5" r="9.2" fill="#e3d0ff"/><circle cx="334.2" cy="699.5" r="9.2" fill="#502bff"/><circle cx="364.0" cy="699.5" r="9.2" fill="#e3d0ff"/><circle cx="393.9" cy="699.5" r="9.2" fill="#d0b2ff"/><circle cx="423.7" cy="699.5" r="9.2" fill="#e3d0ff"/><circle cx="453.5" cy="699.5" r="9.2" fill="#e3d0ff"/><circle cx="483.3" cy="699.5" r="9.2" fill="#d0b2ff"/><circle cx="513.1" cy="699.5" r="9.2" fill="#e3d0ff"/><circle cx="542.9" cy="699.5" r="9.2" fill="#ffffff"/><circle cx="572.7" cy="699.5" r="9.2" fill="#d0b2ff"/><circle cx="602.5" cy="699.5" r="9.2" fill="#e3d0ff"/><circle cx="632.3" cy="699.5" r="9.2" fill="#d0b2ff"/><circle cx="662.1" cy="699.5" r="9.2" fill="#d0b2ff"/><circle cx="692.0" cy="699.5" r="9.2" fill="#b892ff"/><circle cx="721.8" cy="699.5" r="9.2" fill="#f4ecff"/><circle cx="751.6" cy="699.5" r="9.2" fill="#d0b2ff"/><circle cx="781.4" cy="699.5" r="9.2" fill="#ffd9cb"/><circle cx="811.2" cy="699.5" r="9.2" fill="#fff0ea"/><circle cx="841.0" cy="699.5" r="9.2" fill="#ffc0ab"/><circle cx="870.8" cy="699.5" r="9.2" fill="#ffac92"/><circle cx="900.6" cy="699.5" r="9.2" fill="#ff8969"/><circle cx="930.4" cy="699.5" r="9.2" fill="#ffac92"/><circle cx="960.2" cy="699.5" r="9.2" fill="#ffc0ab"/>
<circle cx="259.7" cy="725.4" r="9.2" fill="#d0b2ff"/><circle cx="289.5" cy="725.4" r="9.2" fill="#f4ecff"/><circle cx="319.3" cy="725.4" r="9.2" fill="#d0b2ff"/><circle cx="349.1" cy="725.4" r="9.2" fill="#d0b2ff"/><circle cx="378.9" cy="725.4" r="9.2" fill="#502bff"/><circle cx="408.8" cy="725.4" r="9.2" fill="#a074ff"/><circle cx="438.6" cy="725.4" r="9.2" fill="#b892ff"/><circle cx="468.4" cy="725.4" r="9.2" fill="#b892ff"/><circle cx="498.2" cy="725.4" r="9.2" fill="#d0b2ff"/><circle cx="528.0" cy="725.4" r="9.2" fill="#e3d0ff"/><circle cx="557.8" cy="725.4" r="9.2" fill="#d0b2ff"/><circle cx="587.6" cy="725.4" r="9.2" fill="#b892ff"/><circle cx="617.4" cy="725.4" r="9.2" fill="#b892ff"/><circle cx="647.2" cy="725.4" r="9.2" fill="#d0b2ff"/><circle cx="677.0" cy="725.4" r="9.2" fill="#f4ecff"/><circle cx="706.8" cy="725.4" r="9.2" fill="#e3d0ff"/><circle cx="736.7" cy="725.4" r="9.2" fill="#e3d0ff"/><circle cx="766.5" cy="725.4" r="9.2" fill="#d0b2ff"/><circle cx="796.3" cy="725.4" r="9.2" fill="#f4ecff"/><circle cx="826.1" cy="725.4" r="9.2" fill="#fff0ea"/><circle cx="855.9" cy="725.4" r="9.2" fill="#ffc0ab"/><circle cx="885.7" cy="725.4" r="9.2" fill="#ff8969"/><circle cx="915.5" cy="725.4" r="9.2" fill="#ff8969"/><circle cx="945.3" cy="725.4" r="9.2" fill="#ffac92"/><circle cx="975.1" cy="725.4" r="9.2" fill="#ff3e22"/>
<circle cx="244.8" cy="751.4" r="9.2" fill="#b892ff"/><circle cx="274.6" cy="751.4" r="9.2" fill="#a074ff"/><circle cx="304.4" cy="751.4" r="9.2" fill="#d0b2ff"/><circle cx="334.2" cy="751.4" r="9.2" fill="#d0b2ff"/><circle cx="364.0" cy="751.4" r="9.2" fill="#d0b2ff"/><circle cx="393.9" cy="751.4" r="9.2" fill="#e3d0ff"/><circle cx="423.7" cy="751.4" r="9.2" fill="#f4ecff"/><circle cx="453.5" cy="751.4" r="9.2" fill="#d0b2ff"/><circle cx="483.3" cy="751.4" r="9.2" fill="#d0b2ff"/><circle cx="513.1" cy="751.4" r="9.2" fill="#d0b2ff"/><circle cx="542.9" cy="751.4" r="9.2" fill="#d0b2ff"/><circle cx="572.7" cy="751.4" r="9.2" fill="#e3d0ff"/><circle cx="602.5" cy="751.4" r="9.2" fill="#d0b2ff"/><circle cx="632.3" cy="751.4" r="9.2" fill="#a074ff"/><circle cx="662.1" cy="751.4" r="9.2" fill="#b892ff"/><circle cx="692.0" cy="751.4" r="9.2" fill="#e3d0ff"/><circle cx="721.8" cy="751.4" r="9.2" fill="#d0b2ff"/><circle cx="751.6" cy="751.4" r="9.2" fill="#f4ecff"/><circle cx="781.4" cy="751.4" r="9.2" fill="#d0b2ff"/><circle cx="811.2" cy="751.4" r="9.2" fill="#e3d0ff"/><circle cx="841.0" cy="751.4" r="9.2" fill="#f4ecff"/><circle cx="870.8" cy="751.4" r="9.2" fill="#ffd9cb"/><circle cx="900.6" cy="751.4" r="9.2" fill="#ffac92"/><circle cx="930.4" cy="751.4" r="9.2" fill="#ff8969"/><circle cx="960.2" cy="751.4" r="9.2" fill="#ff6846"/>
<path d="M208.5 97.5V782.2H1011.8" fill="none" stroke="#000" stroke-width="4.5" stroke-linejoin="miter"/>
<path d="M229.8 784.4v9.1" stroke="#333" stroke-width="4.2" fill="none"/><text class="tk" x="229.8" y="827.3" text-anchor="middle">3000</text>
<path d="M446.5 784.4v9.1" stroke="#333" stroke-width="4.2" fill="none"/><text class="tk" x="446.5" y="827.3" text-anchor="middle">4000</text>
<path d="M663.1 784.4v9.1" stroke="#333" stroke-width="4.2" fill="none"/><text class="tk" x="663.1" y="827.3" text-anchor="middle">5000</text>
<path d="M879.8 784.4v9.1" stroke="#333" stroke-width="4.2" fill="none"/><text class="tk" x="879.8" y="827.3" text-anchor="middle">6000</text>
<path d="M206.3 222.0h-9.1" stroke="#333" stroke-width="4.2" fill="none"/><text class="tk" transform="translate(185.2,222.0) rotate(-90)" text-anchor="middle">-3000</text>
<path d="M206.3 438.8h-9.1" stroke="#333" stroke-width="4.2" fill="none"/><text class="tk" transform="translate(185.2,438.8) rotate(-90)" text-anchor="middle">-4000</text>
<path d="M206.3 655.5h-9.1" stroke="#333" stroke-width="4.2" fill="none"/><text class="tk" transform="translate(185.2,655.5) rotate(-90)" text-anchor="middle">-5000</text>
<text class="at" x="610.2" y="870.2" text-anchor="middle">coord x</text>
<text class="at" transform="translate(137.8,439.8) rotate(-90)" text-anchor="middle">coord y</text>
<rect x="1080.4" y="260" width="72" height="360" fill="url(#g2)"/>
<path d="M1080.4 343.0h14.4M1138 343.0h14.4" stroke="#fff" stroke-width="1.7" fill="none"/><text class="lg" x="1174.5" y="355.2">2</text>
<path d="M1080.4 439.5h14.4M1138 439.5h14.4" stroke="#fff" stroke-width="1.7" fill="none"/><text class="lg" x="1174.5" y="451.7">0</text>
<path d="M1080.4 536.0h14.4M1138 536.0h14.4" stroke="#fff" stroke-width="1.7" fill="none"/><text class="lg" x="1174.5" y="548.2">-2</text>
</g></g>
<g transform="translate(1350,900)">
<rect x="90" y="0" width="1170" height="900" fill="#fff"/>
<g transform="translate(0,0)">
<text class="ti" x="610.2" y="63.1" text-anchor="middle">Tcf7l2</text>
<circle cx="244.8" cy="128.8" r="9.2" fill="#ffd9cb"/><circle cx="274.6" cy="128.8" r="9.2" fill="#a87dff"/><circle cx="304.4" cy="128.8" r="9.2" fill="#b690ff"/><circle cx="334.2" cy="128.8" r="9.2" fill="#a87dff"/><circle cx="364.0" cy="128.8" r="9.2" fill="#ffd9cb"/><circle cx="393.9" cy="128.8" r="9.2" fill="#a87dff"/><circle cx="423.7" cy="128.8" r="9.2" fill="#a87dff"/><circle cx="453.5" cy="128.8" r="9.2" fill="#fff0ea"/><circle cx="483.3" cy="128.8" r="9.2" fill="#ffc0ab"/><circle cx="513.1" cy="128.8" r="9.2" fill="#b690ff"/><circle cx="542.9" cy="128.8" r="9.2" fill="#8f62ff"/><circle cx="572.7" cy="128.8" r="9.2" fill="#e3d0ff"/><circle cx="602.5" cy="128.8" r="9.2" fill="#a87dff"/><circle cx="632.3" cy="128.8" r="9.2" fill="#a87dff"/><circle cx="662.1" cy="128.8" r="9.2" fill="#a87dff"/><circle cx="692.0" cy="128.8" r="9.2" fill="#a87dff"/><circle cx="721.8" cy="128.8" r="9.2" fill="#a87dff"/><circle cx="751.6" cy="128.8" r="9.2" fill="#a87dff"/><circle cx="781.4" cy="128.8" r="9.2" fill="#a87dff"/><circle cx="811.2" cy="128.8" r="9.2" fill="#ffd9cb"/><circle cx="841.0" cy="128.8" r="9.2" fill="#a87dff"/><circle cx="870.8" cy="128.8" r="9.2" fill="#b690ff"/><circle cx="900.6" cy="128.8" r="9.2" fill="#a87dff"/><circle cx="930.4" cy="128.8" r="9.2" fill="#b690ff"/><circle cx="960.2" cy="128.8" r="9.2" fill="#b690ff"/>
<circle cx="259.7" cy="154.7" r="9.2" fill="#8f62ff"/><circle cx="289.5" cy="154.7" r="9.2" fill="#ffffff"/><circle cx="319.3" cy="154.7" r="9.2" fill="#a87dff"/><circle cx="349.1" cy="154.7" r="9.2" fill="#a87dff"/><circle cx="378.9" cy="154.7" r="9.2" fill="#a87dff"/><circle cx="408.8" cy="154.7" r="9.2" fill="#a87dff"/><circle cx="438.6" cy="154.7" r="9.2" fill="#a87dff"/><circle cx="468.4" cy="154.7" r="9.2" fill="#a87dff"/><circle cx="498.2" cy="154.7" r="9.2" fill="#ffd9cb"/><circle cx="528.0" cy="154.7" r="9.2" fill="#a87dff"/><circle cx="557.8" cy="154.7" r="9.2" fill="#a87dff"/><circle cx="587.6" cy="154.7" r="9.2" fill="#a87dff"/><circle cx="617.4" cy="154.7" r="9.2" fill="#a87dff"/><circle cx="647.2" cy="154.7" r="9.2" fill="#b690ff"/><circle cx="677.0" cy="154.7" r="9.2" fill="#b690ff"/><circle cx="706.8" cy="154.7" r="9.2" fill="#a87dff"/><circle cx="736.7" cy="154.7" r="9.2" fill="#ffffff"/><circle cx="766.5" cy="154.7" r="9.2" fill="#a87dff"/><circle cx="796.3" cy="154.7" r="9.2" fill="#b690ff"/><circle cx="826.1" cy="154.7" r="9.2" fill="#a87dff"/><circle cx="855.9" cy="154.7" r="9.2" fill="#a87dff"/><circle cx="885.7" cy="154.7" r="9.2" fill="#b690ff"/><circle cx="915.5" cy="154.7" r="9.2" fill="#b690ff"/><circle cx="945.3" cy="154.7" r="9.2" fill="#b690ff"/><circle cx="975.1" cy="154.7" r="9.2" fill="#b690ff"/>
<circle cx="244.8" cy="180.7" r="9.2" fill="#a87dff"/><circle cx="274.6" cy="180.7" r="9.2" fill="#b690ff"/><circle cx="304.4" cy="180.7" r="9.2" fill="#b690ff"/><circle cx="334.2" cy="180.7" r="9.2" fill="#a87dff"/><circle cx="364.0" cy="180.7" r="9.2" fill="#ffffff"/><circle cx="393.9" cy="180.7" r="9.2" fill="#ffa488"/><circle cx="423.7" cy="180.7" r="9.2" fill="#a87dff"/><circle cx="453.5" cy="180.7" r="9.2" fill="#a87dff"/><circle cx="483.3" cy="180.7" r="9.2" fill="#8f62ff"/><circle cx="513.1" cy="180.7" r="9.2" fill="#a87dff"/><circle cx="542.9" cy="180.7" r="9.2" fill="#a87dff"/><circle cx="572.7" cy="180.7" r="9.2" fill="#8f62ff"/><circle cx="602.5" cy="180.7" r="9.2" fill="#a87dff"/><circle cx="632.3" cy="180.7" r="9.2" fill="#a87dff"/><circle cx="662.1" cy="180.7" r="9.2" fill="#8f62ff"/><circle cx="692.0" cy="180.7" r="9.2" fill="#a87dff"/><circle cx="721.8" cy="180.7" r="9.2" fill="#8f62ff"/><circle cx="751.6" cy="180.7" r="9.2" fill="#a87dff"/><circle cx="781.4" cy="180.7" r="9.2" fill="#a87dff"/><circle cx="811.2" cy="180.7" r="9.2" fill="#ffffff"/><circle cx="841.0" cy="180.7" r="9.2" fill="#b690ff"/><circle cx="870.8" cy="180.7" r="9.2" fill="#a87dff"/><circle cx="900.6" cy="180.7" r="9.2" fill="#a87dff"/><circle cx="930.4" cy="180.7" r="9.2" fill="#a87dff"/><circle cx="960.2" cy="180.7" r="9.2" fill="#a87dff"/>
<circle cx="259.7" cy="206.6" r="9.2" fill="#a87dff"/><circle cx="289.5" cy="206.6" r="9.2" fill="#b690ff"/><circle cx="319.3" cy="206.6" r="9.2" fill="#a87dff"/><circle cx="349.1" cy="206.6" r="9.2" fill="#a87dff"/><circle cx="378.9" cy="206.6" r="9.2" fill="#a87dff"/><circle cx="408.8" cy="206.6" r="9.2" fill="#a87dff"/><circle cx="438.6" cy="206.6" r="9.2" fill="#b690ff"/><circle cx="468.4" cy="206.6" r="9.2" fill="#a87dff"/><circle cx="498.2" cy="206.6" r="9.2" fill="#b690ff"/><circle cx="528.0" cy="206.6" r="9.2" fill="#f4ecff"/><circle cx="557.8" cy="206.6" r="9.2" fill="#f4ecff"/><circle cx="587.6" cy="206.6" r="9.2" fill="#a87dff"/><circle cx="617.4" cy="206.6" r="9.2" fill="#a87dff"/><circle cx="647.2" cy="206.6" r="9.2" fill="#8f62ff"/><circle cx="677.0" cy="206.6" r="9.2" fill="#a87dff"/><circle cx="706.8" cy="206.6" r="9.2" fill="#8f62ff"/><circle cx="736.7" cy="206.6" r="9.2" fill="#a87dff"/><circle cx="766.5" cy="206.6" r="9.2" fill="#8f62ff"/><circle cx="796.3" cy="206.6" r="9.2" fill="#a87dff"/><circle cx="826.1" cy="206.6" r="9.2" fill="#a87dff"/><circle cx="855.9" cy="206.6" r="9.2" fill="#b690ff"/><circle cx="885.7" cy="206.6" r="9.2" fill="#a87dff"/><circle cx="915.5" cy="206.6" r="9.2" fill="#ffd9cb"/><circle cx="945.3" cy="206.6" r="9.2" fill="#a87dff"/><circle cx="975.1" cy="206.6" r="9.2" fill="#a87dff"/>
<circle cx="244.8" cy="232.6" r="9.2" fill="#ffffff"/><circle cx="274.6" cy="232.6" r="9.2" fill="#b690ff"/><circle cx="304.4" cy="232.6" r="9.2" fill="#b690ff"/><circle cx="334.2" cy="232.6" r="9.2" fill="#a87dff"/><circle cx="364.0" cy="232.6" r="9.2" fill="#a87dff"/><circle cx="393.9" cy="232.6" r="9.2" fill="#a87dff"/><circle cx="423.7" cy="232.6" r="9.2" fill="#b690ff"/><circle cx="453.5" cy="232.6" r="9.2" fill="#b690ff"/><circle cx="483.3" cy="232.6" r="9.2" fill="#b690ff"/><circle cx="513.1" cy="232.6" r="9.2" fill="#b690ff"/><circle cx="542.9" cy="232.6" r="9.2" fill="#d0b2ff"/><circle cx="572.7" cy="232.6" r="9.2" fill="#ffc0ab"/><circle cx="602.5" cy="232.6" r="9.2" fill="#b690ff"/><circle cx="632.3" cy="232.6" r="9.2" fill="#b690ff"/><circle cx="662.1" cy="232.6" r="9.2" fill="#f4ecff"/><circle cx="692.0" cy="232.6" r="9.2" fill="#a87dff"/><circle cx="721.8" cy="232.6" r="9.2" fill="#ffd9cb"/><circle cx="751.6" cy="232.6" r="9.2" fill="#a87dff"/><circle cx="781.4" cy="232.6" r="9.2" fill="#8f62ff"/><circle cx="811.2" cy="232.6" r="9.2" fill="#a87dff"/><circle cx="841.0" cy="232.6" r="9.2" fill="#ffd9cb"/><circle cx="870.8" cy="232.6" r="9.2" fill="#a87dff"/><circle cx="900.6" cy="232.6" r="9.2" fill="#a87dff"/><circle cx="930.4" cy="232.6" r="9.2" fill="#a87dff"/><circle cx="960.2" cy="232.6" r="9.2" fill="#a87dff"/>
<circle cx="259.7" cy="258.5" r="9.2" fill="#a87dff"/><circle cx="289.5" cy="258.5" r="9.2" fill="#a87dff"/><circle cx="319.3" cy="258.5" r="9.2" fill="#ffc0ab"/><circle cx="349.1" cy="258.5" r="9.2" fill="#b690ff"/><circle cx="378.9" cy="258.5" r="9.2" fill="#a87dff"/><circle cx="408.8" cy="258.5" r="9.2" fill="#fff0ea"/><circle cx="438.6" cy="258.5" r="9.2" fill="#a87dff"/><circle cx="468.4" cy="258.5" r="9.2" fill="#a87dff"/><circle cx="498.2" cy="258.5" r="9.2" fill="#a87dff"/><circle cx="528.0" cy="258.5" r="9.2" fill="#fff0ea"/><circle cx="557.8" cy="258.5" r="9.2" fill="#b690ff"/><circle cx="587.6" cy="258.5" r="9.2" fill="#a87dff"/><circle cx="617.4" cy="258.5" r="9.2" fill="#b690ff"/><circle cx="647.2" cy="258.5" r="9.2" fill="#ffc0ab"/><circle cx="677.0" cy="258.5" r="9.2" fill="#a87dff"/><circle cx="706.8" cy="258.5" r="9.2" fill="#f4ecff"/><circle cx="736.7" cy="258.5" r="9.2" fill="#f4ecff"/><circle cx="766.5" cy="258.5" r="9.2" fill="#8f62ff"/><circle cx="796.3" cy="258.5" r="9.2" fill="#8f62ff"/><circle cx="826.1" cy="258.5" r="9.2" fill="#a87dff"/><circle cx="855.9" cy="258.5" r="9.2" fill="#fff0ea"/><circle cx="885.7" cy="258.5" r="9.2" fill="#a87dff"/><circle cx="915.5" cy="258.5" r="9.2" fill="#fff0ea"/><circle cx="945.3" cy="258.5" r="9.2" fill="#ffd9cb"/><circle cx="975.1" cy="258.5" r="9.2" fill="#a87dff"/>
<circle cx="244.8" cy="284.4" r="9.2" fill="#a87dff"/><circle cx="274.6" cy="284.4" r="9.2" fill="#b690ff"/><circle cx="304.4" cy="284.4" r="9.2" fill="#a87dff"/><circle cx="334.2" cy="284.4" r="9.2" fill="#b690ff"/><circle cx="364.0" cy="284.4" r="9.2" fill="#f4ecff"/><circle cx="393.9" cy="284.4" r="9.2" fill="#fff0ea"/><circle cx="423.7" cy="284.4" r="9.2" fill="#b690ff"/><circle cx="453.5" cy="284.4" r="9.2" fill="#b690ff"/><circle cx="483.3" cy="284.4" r="9.2" fill="#a87dff"/><circle cx="513.1" cy="284.4" r="9.2" fill="#a87dff"/><circle cx="542.9" cy="284.4" r="9.2" fill="#a87dff"/><circle cx="572.7" cy="284.4" r="9.2" fill="#8f62ff"/><circle cx="602.5" cy="284.4" r="9.2" fill="#a87dff"/><circle cx="632.3" cy="284.4" r="9.2" fill="#a87dff"/><circle cx="662.1" cy="284.4" r="9.2" fill="#b690ff"/><circle cx="692.0" cy="284.4" r="9.2" fill="#a87dff"/><circle cx="721.8" cy="284.4" r="9.2" fill="#ffffff"/><circle cx="751.6" cy="284.4" r="9.2" fill="#a87dff"/><circle cx="781.4" cy="284.4" r="9.2" fill="#ffa488"/><circle cx="811.2" cy="284.4" r="9.2" fill="#a87dff"/><circle cx="841.0" cy="284.4" r="9.2" fill="#a87dff"/><circle cx="870.8" cy="284.4" r="9.2" fill="#a87dff"/><circle cx="900.6" cy="284.4" r="9.2" fill="#ffffff"/><circle cx="930.4" cy="284.4" r="9.2" fill="#f4ecff"/><circle cx="960.2" cy="284.4" r="9.2" fill="#a87dff"/>
<circle cx="259.7" cy="310.4" r="9.2" fill="#b690ff"/><circle cx="289.5" cy="310.4" r="9.2" fill="#a87dff"/><circle cx="319.3" cy="310.4" r="9.2" fill="#b690ff"/><circle cx="349.1" cy="310.4" r="9.2" fill="#f4ecff"/><circle cx="378.9" cy="310.4" r="9.2" fill="#a87dff"/><circle cx="408.8" cy="310.4" r="9.2" fill="#b690ff"/><circle cx="438.6" cy="310.4" r="9.2" fill="#ffd9cb"/><circle cx="468.4" cy="310.4" r="9.2" fill="#a87dff"/><circle cx="498.2" cy="310.4" r="9.2" fill="#a87dff"/><circle cx="528.0" cy="310.4" r="9.2" fill="#b690ff"/><circle cx="557.8" cy="310.4" r="9.2" fill="#ffc0ab"/><circle cx="587.6" cy="310.4" r="9.2" fill="#a87dff"/><circle cx="617.4" cy="310.4" r="9.2" fill="#a87dff"/><circle cx="647.2" cy="310.4" r="9.2" fill="#a87dff"/><circle cx="677.0" cy="310.4" r="9.2" fill="#a87dff"/><circle cx="706.8" cy="310.4" r="9.2" fill="#b690ff"/><circle cx="736.7" cy="310.4" r="9.2" fill="#b690ff"/><circle cx="766.5" cy="310.4" r="9.2" fill="#a87dff"/><circle cx="796.3" cy="310.4" r="9.2" fill="#a87dff"/><circle cx="826.1" cy="310.4" r="9.2" fill="#a87dff"/><circle cx="855.9" cy="310.4" r="9.2" fill="#ffffff"/><circle cx="885.7" cy="310.4" r="9.2" fill="#8f62ff"/><circle cx="915.5" cy="310.4" r="9.2" fill="#a87dff"/><circle cx="945.3" cy="310.4" r="9.2" fill="#a87dff"/><circle cx="975.1" cy="310.4" r="9.2" fill="#a87dff"/>
<circle cx="244.8" cy="336.3" r="9.2" fill="#ffa488"/><circle cx="274.6" cy="336.3" r="9.2" fill="#a87dff"/><circle cx="304.4" cy="336.3" r="9.2" fill="#b690ff"/><circle cx="334.2" cy="336.3" r="9.2" fill="#b690ff"/><circle cx="364.0" cy="336.3" r="9.2" fill="#d0b2ff"/><circle cx="393.9" cy="336.3" r="9.2" fill="#d0b2ff"/><circle cx="423.7" cy="336.3" r="9.2" fill="#ffa488"/><circle cx="453.5" cy="336.3" r="9.2" fill="#b690ff"/><circle cx="483.3" cy="336.3" r="9.2" fill="#b690ff"/><circle cx="513.1" cy="336.3" r="9.2" fill="#d0b2ff"/><circle cx="542.9" cy="336.3" r="9.2" fill="#d0b2ff"/><circle cx="572.7" cy="336.3" r="9.2" fill="#b690ff"/><circle cx="602.5" cy="336.3" r="9.2" fill="#a87dff"/><circle cx="632.3" cy="336.3" r="9.2" fill="#a87dff"/><circle cx="662.1" cy="336.3" r="9.2" fill="#a87dff"/><circle cx="692.0" cy="336.3" r="9.2" fill="#a87dff"/><circle cx="721.8" cy="336.3" r="9.2" fill="#fff0ea"/><circle cx="751.6" cy="336.3" r="9.2" fill="#b690ff"/><circle cx="781.4" cy="336.3" r="9.2" fill="#ffc0ab"/><circle cx="811.2" cy="336.3" r="9.2" fill="#a87dff"/><circle cx="841.0" cy="336.3" r="9.2" fill="#b690ff"/><circle cx="870.8" cy="336.3" r="9.2" fill="#a87dff"/><circle cx="900.6" cy="336.3" r="9.2" fill="#a87dff"/><circle cx="930.4" cy="336.3" r="9.2" fill="#a87dff"/><circle cx="960.2" cy="336.3" r="9.2" fill="#a87dff"/>
<circle cx="259.7" cy="362.3" r="9.2" fill="#a87dff"/><circle cx="289.5" cy="362.3" r="9.2" fill="#a87dff"/><circle cx="319.3" cy="362.3" r="9.2" fill="#a87dff"/><circle cx="349.1" cy="362.3" r="9.2" fill="#d0b2ff"/><circle cx="378.9" cy="362.3" r="9.2" fill="#b690ff"/><circle cx="408.8" cy="362.3" r="9.2" fill="#ffc0ab"/><circle cx="438.6" cy="362.3" r="9.2" fill="#ffc0ab"/><circle cx="468.4" cy="362.3" r="9.2" fill="#ffc0ab"/><circle cx="498.2" cy="362.3" r="9.2" fill="#d0b2ff"/><circle cx="528.0" cy="362.3" r="9.2" fill="#a87dff"/><circle cx="557.8" cy="362.3" r="9.2" fill="#b690ff"/><circle cx="587.6" cy="362.3" r="9.2" fill="#b690ff"/><circle cx="617.4" cy="362.3" r="9.2" fill="#ffc0ab"/><circle cx="647.2" cy="362.3" r="9.2" fill="#b690ff"/><circle cx="677.0" cy="362.3" r="9.2" fill="#a87dff"/><circle cx="706.8" cy="362.3" r="9.2" fill="#a87dff"/><circle cx="736.7" cy="362.3" r="9.2" fill="#a87dff"/><circle cx="766.5" cy="362.3" r="9.2" fill="#b690ff"/><circle cx="796.3" cy="362.3" r="9.2" fill="#b690ff"/><circle cx="826.1" cy="362.3" r="9.2" fill="#a87dff"/><circle cx="855.9" cy="362.3" r="9.2" fill="#a87dff"/><circle cx="885.7" cy="362.3" r="9.2" fill="#e3d0ff"/><circle cx="915.5" cy="362.3" r="9.2" fill="#a87dff"/><circle cx="945.3" cy="362.3" r="9.2" fill="#d0b2ff"/><circle cx="975.1" cy="362.3" r="9.2" fill="#8f62ff"/>
<circle cx="244.8" cy="388.2" r="9.2" fill="#a87dff"/><circle cx="274.6" cy="388.2" r="9.2" fill="#fff0ea"/><circle cx="304.4" cy="388.2" r="9.2" fill="#a87dff"/><circle cx="334.2" cy="388.2" r="9.2" fill="#b690ff"/><circle cx="364.0" cy="388.2" r="9.2" fill="#b690ff"/><circle cx="393.9" cy="388.2" r="9.2" fill="#b690ff"/><circle cx="423.7" cy="388.2" r="9.2" fill="#b690ff"/><circle cx="453.5" cy="388.2" r="9.2" fill="#b690ff"/><circle cx="483.3" cy="388.2" r="9.2" fill="#b690ff"/><circle cx="513.1" cy="388.2" r="9.2" fill="#b690ff"/><circle cx="542.9" cy="388.2" r="9.2" fill="#ffc0ab"/><circle cx="572.7" cy="388.2" r="9.2" fill="#a87dff"/><circle cx="602.5" cy="388.2" r="9.2" fill="#b690ff"/><circle cx="632.3" cy="388.2" r="9.2" fill="#b690ff"/><circle cx="662.1" cy="388.2" r="9.2" fill="#a87dff"/><circle cx="692.0" cy="388.2" r="9.2" fill="#b690ff"/><circle cx="721.8" cy="388.2" r="9.2" fill="#fff0ea"/><circle cx="751.6" cy="388.2" r="9.2" fill="#a87dff"/><circle cx="781.4" cy="388.2" r="9.2" fill="#8f62ff"/><circle cx="811.2" cy="388.2" r="9.2" fill="#ffd9cb"/><circle cx="841.0" cy="388.2" r="9.2" fill="#ffd9cb"/><circle cx="870.8" cy="388.2" r="9.2" fill="#ffffff"/><circle cx="900.6" cy="388.2" r="9.2" fill="#ffd9cb"/><circle cx="930.4" cy="388.2" r="9.2" fill="#8f62ff"/><circle cx="960.2" cy="388.2" r="9.2" fill="#a87dff"/>
<circle cx="259.7" cy="414.1" r="9.2" fill="#e3d0ff"/><circle cx="289.5" cy="414.1" r="9.2" fill="#a87dff"/><circle cx="319.3" cy="414.1" r="9.2" fill="#b690ff"/><circle cx="349.1" cy="414.1" r="9.2" fill="#d0b2ff"/><circle cx="378.9" cy="414.1" r="9.2" fill="#ff8969"/><circle cx="408.8" cy="414.1" r="9.2" fill="#b690ff"/><circle cx="438.6" cy="414.1" r="9.2" fill="#b690ff"/><circle cx="498.2" cy="414.1" r="9.2" fill="#ffa488"/><circle cx="528.0" cy="414.1" r="9.2" fill="#b690ff"/><circle cx="557.8" cy="414.1" r="9.2" fill="#a87dff"/><circle cx="587.6" cy="414.1" r="9.2" fill="#a87dff"/><circle cx="617.4" cy="414.1" r="9.2" fill="#a87dff"/><circle cx="647.2" cy="414.1" r="9.2" fill="#ff8969"/><circle cx="677.0" cy="414.1" r="9.2" fill="#b690ff"/><circle cx="706.8" cy="414.1" r="9.2" fill="#ffa488"/><circle cx="736.7" cy="414.1" r="9.2" fill="#ffd9cb"/><circle cx="766.5" cy="414.1" r="9.2" fill="#ffd9cb"/><circle cx="796.3" cy="414.1" r="9.2" fill="#a87dff"/><circle cx="826.1" cy="414.1" r="9.2" fill="#a87dff"/><circle cx="855.9" cy="414.1" r="9.2" fill="#b690ff"/><circle cx="885.7" cy="414.1" r="9.2" fill="#a87dff"/><circle cx="915.5" cy="414.1" r="9.2" fill="#fff0ea"/><circle cx="945.3" cy="414.1" r="9.2" fill="#a87dff"/><circle cx="975.1" cy="414.1" r="9.2" fill="#a87dff"/>
<circle cx="244.8" cy="440.1" r="9.2" fill="#e3d0ff"/><circle cx="274.6" cy="440.1" r="9.2" fill="#b690ff"/><circle cx="304.4" cy="440.1" r="9.2" fill="#ffa488"/><circle cx="334.2" cy="440.1" r="9.2" fill="#b690ff"/><circle cx="364.0" cy="440.1" r="9.2" fill="#d0b2ff"/><circle cx="393.9" cy="440.1" r="9.2" fill="#b690ff"/><circle cx="423.7" cy="440.1" r="9.2" fill="#b690ff"/><circle cx="453.5" cy="440.1" r="9.2" fill="#b690ff"/><circle cx="483.3" cy="440.1" r="9.2" fill="#a87dff"/><circle cx="513.1" cy="440.1" r="9.2" fill="#b690ff"/><circle cx="542.9" cy="440.1" r="9.2" fill="#b690ff"/><circle cx="572.7" cy="440.1" r="9.2" fill="#ffa488"/><circle cx="602.5" cy="440.1" r="9.2" fill="#ffc0ab"/><circle cx="632.3" cy="440.1" r="9.2" fill="#b690ff"/><circle cx="662.1" cy="440.1" r="9.2" fill="#b690ff"/><circle cx="692.0" cy="440.1" r="9.2" fill="#b690ff"/><circle cx="721.8" cy="440.1" r="9.2" fill="#ffc0ab"/><circle cx="751.6" cy="440.1" r="9.2" fill="#b690ff"/><circle cx="781.4" cy="440.1" r="9.2" fill="#a87dff"/><circle cx="811.2" cy="440.1" r="9.2" fill="#a87dff"/><circle cx="841.0" cy="440.1" r="9.2" fill="#a87dff"/><circle cx="870.8" cy="440.1" r="9.2" fill="#b690ff"/><circle cx="900.6" cy="440.1" r="9.2" fill="#b690ff"/><circle cx="930.4" cy="440.1" r="9.2" fill="#a87dff"/><circle cx="960.2" cy="440.1" r="9.2" fill="#a87dff"/>
<circle cx="259.7" cy="466.0" r="9.2" fill="#b690ff"/><circle cx="289.5" cy="466.0" r="9.2" fill="#ffa488"/><circle cx="319.3" cy="466.0" r="9.2" fill="#b690ff"/><circle cx="349.1" cy="466.0" r="9.2" fill="#ffa488"/><circle cx="378.9" cy="466.0" r="9.2" fill="#a87dff"/><circle cx="408.8" cy="466.0" r="9.2" fill="#a87dff"/><circle cx="438.6" cy="466.0" r="9.2" fill="#8f62ff"/><circle cx="468.4" cy="466.0" r="9.2" fill="#8f62ff"/><circle cx="498.2" cy="466.0" r="9.2" fill="#8f62ff"/><circle cx="528.0" cy="466.0" r="9.2" fill="#b690ff"/><circle cx="557.8" cy="466.0" r="9.2" fill="#a87dff"/><circle cx="587.6" cy="466.0" r="9.2" fill="#ffc0ab"/><circle cx="617.4" cy="466.0" r="9.2" fill="#ffc0ab"/><circle cx="647.2" cy="466.0" r="9.2" fill="#b690ff"/><circle cx="677.0" cy="466.0" r="9.2" fill="#a87dff"/><circle cx="706.8" cy="466.0" r="9.2" fill="#a87dff"/><circle cx="736.7" cy="466.0" r="9.2" fill="#ffc0ab"/><circle cx="766.5" cy="466.0" r="9.2" fill="#a87dff"/><circle cx="796.3" cy="466.0" r="9.2" fill="#b690ff"/><circle cx="826.1" cy="466.0" r="9.2" fill="#f4ecff"/><circle cx="855.9" cy="466.0" r="9.2" fill="#a87dff"/><circle cx="885.7" cy="466.0" r="9.2" fill="#ffd9cb"/><circle cx="915.5" cy="466.0" r="9.2" fill="#a87dff"/><circle cx="945.3" cy="466.0" r="9.2" fill="#a87dff"/><circle cx="975.1" cy="466.0" r="9.2" fill="#ffffff"/>
<circle cx="244.8" cy="492.0" r="9.2" fill="#b690ff"/><circle cx="274.6" cy="492.0" r="9.2" fill="#ffffff"/><circle cx="304.4" cy="492.0" r="9.2" fill="#ffd9cb"/><circle cx="334.2" cy="492.0" r="9.2" fill="#b690ff"/><circle cx="364.0" cy="492.0" r="9.2" fill="#a87dff"/><circle cx="393.9" cy="492.0" r="9.2" fill="#ffffff"/><circle cx="423.7" cy="492.0" r="9.2" fill="#d0b2ff"/><circle cx="453.5" cy="492.0" r="9.2" fill="#8f62ff"/><circle cx="483.3" cy="492.0" r="9.2" fill="#8f62ff"/><circle cx="513.1" cy="492.0" r="9.2" fill="#8f62ff"/><circle cx="542.9" cy="492.0" r="9.2" fill="#a87dff"/><circle cx="572.7" cy="492.0" r="9.2" fill="#d0b2ff"/><circle cx="602.5" cy="492.0" r="9.2" fill="#e3d0ff"/><circle cx="632.3" cy="492.0" r="9.2" fill="#a87dff"/><circle cx="662.1" cy="492.0" r="9.2" fill="#ffc0ab"/><circle cx="692.0" cy="492.0" r="9.2" fill="#b690ff"/><circle cx="721.8" cy="492.0" r="9.2" fill="#ffd9cb"/><circle cx="751.6" cy="492.0" r="9.2" fill="#d0b2ff"/><circle cx="781.4" cy="492.0" r="9.2" fill="#b690ff"/><circle cx="811.2" cy="492.0" r="9.2" fill="#b690ff"/><circle cx="841.0" cy="492.0" r="9.2" fill="#e3d0ff"/><circle cx="870.8" cy="492.0" r="9.2" fill="#ffd9cb"/><circle cx="900.6" cy="492.0" r="9.2" fill="#a87dff"/><circle cx="930.4" cy="492.0" r="9.2" fill="#f4ecff"/><circle cx="960.2" cy="492.0" r="9.2" fill="#ffd9cb"/>
<circle cx="259.7" cy="517.9" r="9.2" fill="#fff0ea"/><circle cx="289.5" cy="517.9" r="9.2" fill="#b690ff"/><circle cx="319.3" cy="517.9" r="9.2" fill="#ffa488"/><circle cx="349.1" cy="517.9" r="9.2" fill="#f4ecff"/><circle cx="378.9" cy="517.9" r="9.2" fill="#b690ff"/><circle cx="408.8" cy="517.9" r="9.2" fill="#b690ff"/><circle cx="438.6" cy="517.9" r="9.2" fill="#ffa488"/><circle cx="468.4" cy="517.9" r="9.2" fill="#a87dff"/><circle cx="498.2" cy="517.9" r="9.2" fill="#a87dff"/><circle cx="528.0" cy="517.9" r="9.2" fill="#8f62ff"/><circle cx="557.8" cy="517.9" r="9.2" fill="#d0b2ff"/><circle cx="587.6" cy="517.9" r="9.2" fill="#e3d0ff"/><circle cx="617.4" cy="517.9" r="9.2" fill="#a87dff"/><circle cx="647.2" cy="517.9" r="9.2" fill="#a87dff"/><circle cx="677.0" cy="517.9" r="9.2" fill="#b690ff"/><circle cx="706.8" cy="517.9" r="9.2" fill="#b690ff"/><circle cx="736.7" cy="517.9" r="9.2" fill="#b690ff"/><circle cx="766.5" cy="517.9" r="9.2" fill="#ffc0ab"/><circle cx="796.3" cy="517.9" r="9.2" fill="#b690ff"/><circle cx="826.1" cy="517.9" r="9.2" fill="#ffc0ab"/><circle cx="855.9" cy="517.9" r="9.2" fill="#a87dff"/><circle cx="885.7" cy="517.9" r="9.2" fill="#a87dff"/><circle cx="915.5" cy="517.9" r="9.2" fill="#b690ff"/><circle cx="945.3" cy="517.9" r="9.2" fill="#f4ecff"/><circle cx="975.1" cy="517.9" r="9.2" fill="#ffffff"/>
<circle cx="244.8" cy="543.8" r="9.2" fill="#fff0ea"/><circle cx="274.6" cy="543.8" r="9.2" fill="#ffffff"/><circle cx="304.4" cy="543.8" r="9.2" fill="#b690ff"/><circle cx="334.2" cy="543.8" r="9.2" fill="#b690ff"/><circle cx="364.0" cy="543.8" r="9.2" fill="#b690ff"/><circle cx="393.9" cy="543.8" r="9.2" fill="#ffa488"/><circle cx="423.7" cy="543.8" r="9.2" fill="#b690ff"/><circle cx="453.5" cy="543.8" r="9.2" fill="#ff8969"/><circle cx="483.3" cy="543.8" r="9.2" fill="#ffc0ab"/><circle cx="513.1" cy="543.8" r="9.2" fill="#ffc0ab"/><circle cx="542.9" cy="543.8" r="9.2" fill="#a87dff"/><circle cx="572.7" cy="543.8" r="9.2" fill="#a87dff"/><circle cx="602.5" cy="543.8" r="9.2" fill="#e3d0ff"/><circle cx="632.3" cy="543.8" r="9.2" fill="#ffc0ab"/><circle cx="662.1" cy="543.8" r="9.2" fill="#fff0ea"/><circle cx="692.0" cy="543.8" r="9.2" fill="#b690ff"/><circle cx="721.8" cy="543.8" r="9.2" fill="#b690ff"/><circle cx="751.6" cy="543.8" r="9.2" fill="#b690ff"/><circle cx="781.4" cy="543.8" r="9.2" fill="#b690ff"/><circle cx="811.2" cy="543.8" r="9.2" fill="#ffa488"/><circle cx="841.0" cy="543.8" r="9.2" fill="#b690ff"/><circle cx="870.8" cy="543.8" r="9.2" fill="#8f62ff"/><circle cx="900.6" cy="543.8" r="9.2" fill="#b690ff"/><circle cx="930.4" cy="543.8" r="9.2" fill="#b690ff"/><circle cx="960.2" cy="543.8" r="9.2" fill="#a87dff"/>
<circle cx="259.7" cy="569.8" r="9.2" fill="#e3d0ff"/><circle cx="289.5" cy="569.8" r="9.2" fill="#ffd9cb"/><circle cx="319.3" cy="569.8" r="9.2" fill="#d0b2ff"/><circle cx="349.1" cy="569.8" r="9.2" fill="#fff0ea"/><circle cx="378.9" cy="569.8" r="9.2" fill="#ffc0ab"/><circle cx="408.8" cy="569.8" r="9.2" fill="#ffffff"/><circle cx="438.6" cy="569.8" r="9.2" fill="#d0b2ff"/><circle cx="468.4" cy="569.8" r="9.2" fill="#ffd9cb"/><circle cx="498.2" cy="569.8" r="9.2" fill="#ffffff"/><circle cx="528.0" cy="569.8" r="9.2" fill="#ff8969"/><circle cx="557.8" cy="569.8" r="9.2" fill="#ffd9cb"/><circle cx="587.6" cy="569.8" r="9.2" fill="#ffd9cb"/><circle cx="617.4" cy="569.8" r="9.2" fill="#a87dff"/><circle cx="647.2" cy="569.8" r="9.2" fill="#a87dff"/><circle cx="677.0" cy="569.8" r="9.2" fill="#fff0ea"/><circle cx="706.8" cy="569.8" r="9.2" fill="#a87dff"/><circle cx="736.7" cy="569.8" r="9.2" fill="#b690ff"/><circle cx="766.5" cy="569.8" r="9.2" fill="#ffc0ab"/><circle cx="796.3" cy="569.8" r="9.2" fill="#b690ff"/><circle cx="826.1" cy="569.8" r="9.2" fill="#b690ff"/><circle cx="855.9" cy="569.8" r="9.2" fill="#f4ecff"/><circle cx="885.7" cy="569.8" r="9.2" fill="#e3d0ff"/><circle cx="915.5" cy="569.8" r="9.2" fill="#a87dff"/><circle cx="945.3" cy="569.8" r="9.2" fill="#a87dff"/><circle cx="975.1" cy="569.8" r="9.2" fill="#a87dff"/>
<circle cx="244.8" cy="595.7" r="9.2" fill="#ff8969"/><circle cx="274.6" cy="595.7" r="9.2" fill="#ffa488"/><circle cx="304.4" cy="595.7" r="9.2" fill="#ff8969"/><circle cx="334.2" cy="595.7" r="9.2" fill="#ff8969"/><circle cx="364.0" cy="595.7" r="9.2" fill="#ff361c"/><circle cx="393.9" cy="595.7" r="9.2" fill="#ff603f"/><circle cx="423.7" cy="595.7" r="9.2" fill="#ffa488"/><circle cx="453.5" cy="595.7" r="9.2" fill="#ff8969"/><circle cx="483.3" cy="595.7" r="9.2" fill="#ff603f"/><circle cx="513.1" cy="595.7" r="9.2" fill="#ff603f"/><circle cx="542.9" cy="595.7" r="9.2" fill="#ff603f"/><circle cx="572.7" cy="595.7" r="9.2" fill="#ff8969"/><circle cx="602.5" cy="595.7" r="9.2" fill="#ffc0ab"/><circle cx="632.3" cy="595.7" r="9.2" fill="#ffd9cb"/><circle cx="662.1" cy="595.7" r="9.2" fill="#ffc0ab"/><circle cx="692.0" cy="595.7" r="9.2" fill="#e3d0ff"/><circle cx="721.8" cy="595.7" r="9.2" fill="#f4ecff"/><circle cx="751.6" cy="595.7" r="9.2" fill="#ffc0ab"/><circle cx="781.4" cy="595.7" r="9.2" fill="#ffd9cb"/><circle cx="811.2" cy="595.7" r="9.2" fill="#b690ff"/><circle cx="841.0" cy="595.7" r="9.2" fill="#fff0ea"/><circle cx="870.8" cy="595.7" r="9.2" fill="#a87dff"/><circle cx="900.6" cy="595.7" r="9.2" fill="#f4ecff"/><circle cx="930.4" cy="595.7" r="9.2" fill="#b690ff"/><circle cx="960.2" cy="595.7" r="9.2" fill="#b690ff"/>
<circle cx="259.7" cy="621.7" r="9.2" fill="#ff603f"/><circle cx="289.5" cy="621.7" r="9.2" fill="#ff8969"/><circle cx="319.3" cy="621.7" r="9.2" fill="#ff361c"/><circle cx="349.1" cy="621.7" r="9.2" fill="#ff603f"/><circle cx="378.9" cy="621.7" r="9.2" fill="#ff603f"/><circle cx="408.8" cy="621.7" r="9.2" fill="#ff8969"/><circle cx="438.6" cy="621.7" r="9.2" fill="#ff361c"/><circle cx="468.4" cy="621.7" r="9.2" fill="#ff8969"/><circle cx="498.2" cy="621.7" r="9.2" fill="#ff8969"/><circle cx="528.0" cy="621.7" r="9.2" fill="#ff8969"/><circle cx="557.8" cy="621.7" r="9.2" fill="#ff8969"/><circle cx="587.6" cy="621.7" r="9.2" fill="#ff603f"/><circle cx="617.4" cy="621.7" r="9.2" fill="#ff8969"/><circle cx="647.2" cy="621.7" r="9.2" fill="#ff8969"/><circle cx="677.0" cy="621.7" r="9.2" fill="#ffd9cb"/><circle cx="706.8" cy="621.7" r="9.2" fill="#ffa488"/><circle cx="736.7" cy="621.7" r="9.2" fill="#fff0ea"/><circle cx="766.5" cy="621.7" r="9.2" fill="#fff0ea"/><circle cx="796.3" cy="621.7" r="9.2" fill="#b690ff"/><circle cx="826.1" cy="621.7" r="9.2" fill="#b690ff"/><circle cx="855.9" cy="621.7" r="9.2" fill="#e3d0ff"/><circle cx="885.7" cy="621.7" r="9.2" fill="#f4ecff"/><circle cx="915.5" cy="621.7" r="9.2" fill="#ffc0ab"/><circle cx="945.3" cy="621.7" r="9.2" fill="#d0b2ff"/><circle cx="975.1" cy="621.7" r="9.2" fill="#ffffff"/>
<circle cx="244.8" cy="647.6" r="9.2" fill="#ffa488"/><circle cx="274.6" cy="647.6" r="9.2" fill="#ff603f"/><circle cx="304.4" cy="647.6" r="9.2" fill="#ff603f"/><circle cx="334.2" cy="647.6" r="9.2" fill="#ff603f"/><circle cx="364.0" cy="647.6" r="9.2" fill="#ff8969"/><circle cx="393.9" cy="647.6" r="9.2" fill="#ff603f"/><circle cx="423.7" cy="647.6" r="9.2" fill="#ffa488"/><circle cx="453.5" cy="647.6" r="9.2" fill="#ff603f"/><circle cx="483.3" cy="647.6" r="9.2" fill="#ff603f"/><circle cx="513.1" cy="647.6" r="9.2" fill="#ff603f"/><circle cx="542.9" cy="647.6" r="9.2" fill="#ffc0ab"/><circle cx="572.7" cy="647.6" r="9.2" fill="#ff8969"/><circle cx="602.5" cy="647.6" r="9.2" fill="#ff603f"/><circle cx="632.3" cy="647.6" r="9.2" fill="#ff603f"/><circle cx="662.1" cy="647.6" r="9.2" fill="#ff8969"/><circle cx="692.0" cy="647.6" r="9.2" fill="#ff603f"/><circle cx="721.8" cy="647.6" r="9.2" fill="#ff8969"/><circle cx="751.6" cy="647.6" r="9.2" fill="#ffc0ab"/><circle cx="781.4" cy="647.6" r="9.2" fill="#a87dff"/><circle cx="811.2" cy="647.6" r="9.2" fill="#f4ecff"/><circle cx="841.0" cy="647.6" r="9.2" fill="#a87dff"/><circle cx="870.8" cy="647.6" r="9.2" fill="#f4ecff"/><circle cx="900.6" cy="647.6" r="9.2" fill="#b690ff"/><circle cx="930.4" cy="647.6" r="9.2" fill="#ffc0ab"/><circle cx="960.2" cy="647.6" r="9.2" fill="#b690ff"/>
<circle cx="259.7" cy="673.5" r="9.2" fill="#ff361c"/><circle cx="289.5" cy="673.5" r="9.2" fill="#ff361c"/><circle cx="319.3" cy="673.5" r="9.2" fill="#ffa488"/><circle cx="349.1" cy="673.5" r="9.2" fill="#ff603f"/><circle cx="378.9" cy="673.5" r="9.2" fill="#ff603f"/><circle cx="408.8" cy="673.5" r="9.2" fill="#ff603f"/><circle cx="438.6" cy="673.5" r="9.2" fill="#ff603f"/><circle cx="468.4" cy="673.5" r="9.2" fill="#ff8969"/><circle cx="498.2" cy="673.5" r="9.2" fill="#ff603f"/><circle cx="528.0" cy="673.5" r="9.2" fill="#ff8969"/><circle cx="557.8" cy="673.5" r="9.2" fill="#ff8969"/><circle cx="587.6" cy="673.5" r="9.2" fill="#ffc0ab"/><circle cx="617.4" cy="673.5" r="9.2" fill="#ff8969"/><circle cx="647.2" cy="673.5" r="9.2" fill="#ffa488"/><circle cx="677.0" cy="673.5" r="9.2" fill="#ff8969"/><circle cx="706.8" cy="673.5" r="9.2" fill="#ff603f"/><circle cx="736.7" cy="673.5" r="9.2" fill="#ffffff"/><circle cx="766.5" cy="673.5" r="9.2" fill="#ffa488"/><circle cx="796.3" cy="673.5" r="9.2" fill="#ffc0ab"/><circle cx="826.1" cy="673.5" r="9.2" fill="#b690ff"/><circle cx="855.9" cy="673.5" r="9.2" fill="#b690ff"/><circle cx="885.7" cy="673.5" r="9.2" fill="#ffc0ab"/><circle cx="915.5" cy="673.5" r="9.2" fill="#fff0ea"/><circle cx="945.3" cy="673.5" r="9.2" fill="#d0b2ff"/><circle cx="975.1" cy="673.5" r="9.2" fill="#ffffff"/>
<circle cx="244.8" cy="699.5" r="9.2" fill="#ff8969"/><circle cx="274.6" cy="699.5" r="9.2" fill="#ffa488"/><circle cx="304.4" cy="699.5" r="9.2" fill="#ff8969"/><circle cx="334.2" cy="699.5" r="9.2" fill="#ff603f"/><circle cx="364.0" cy="699.5" r="9.2" fill="#ff361c"/><circle cx="393.9" cy="699.5" r="9.2" fill="#ff603f"/><circle cx="423.7" cy="699.5" r="9.2" fill="#ff603f"/><circle cx="453.5" cy="699.5" r="9.2" fill="#ff8969"/><circle cx="483.3" cy="699.5" r="9.2" fill="#ffa488"/><circle cx="513.1" cy="699.5" r="9.2" fill="#ff603f"/><circle cx="542.9" cy="699.5" r="9.2" fill="#ff8969"/><circle cx="572.7" cy="699.5" r="9.2" fill="#ffa488"/><circle cx="602.5" cy="699.5" r="9.2" fill="#ff603f"/><circle cx="632.3" cy="699.5" r="9.2" fill="#ff8969"/><circle cx="662.1" cy="699.5" r="9.2" fill="#ffa488"/><circle cx="692.0" cy="699.5" r="9.2" fill="#ff603f"/><circle cx="721.8" cy="699.5" r="9.2" fill="#ff603f"/><circle cx="751.6" cy="699.5" r="9.2" fill="#ffd9cb"/><circle cx="781.4" cy="699.5" r="9.2" fill="#ff8969"/><circle cx="811.2" cy="699.5" r="9.2" fill="#ffd9cb"/><circle cx="841.0" cy="699.5" r="9.2" fill="#b690ff"/><circle cx="870.8" cy="699.5" r="9.2" fill="#b690ff"/><circle cx="900.6" cy="699.5" r="9.2" fill="#b690ff"/><circle cx="930.4" cy="699.5" r="9.2" fill="#a87dff"/><circle cx="960.2" cy="699.5" r="9.2" fill="#ffd9cb"/>
<circle cx="259.7" cy="725.4" r="9.2" fill="#ff0000"/><circle cx="289.5" cy="725.4" r="9.2" fill="#ff603f"/><circle cx="319.3" cy="725.4" r="9.2" fill="#ff361c"/><circle cx="349.1" cy="725.4" r="9.2" fill="#ff603f"/><circle cx="378.9" cy="725.4" r="9.2" fill="#ff603f"/><circle cx="408.8" cy="725.4" r="9.2" fill="#ffa488"/><circle cx="438.6" cy="725.4" r="9.2" fill="#ff8969"/><circle cx="468.4" cy="725.4" r="9.2" fill="#ffa488"/><circle cx="498.2" cy="725.4" r="9.2" fill="#ff8969"/><circle cx="528.0" cy="725.4" r="9.2" fill="#ff603f"/><circle cx="557.8" cy="725.4" r="9.2" fill="#ff603f"/><circle cx="587.6" cy="725.4" r="9.2" fill="#ff8969"/><circle cx="617.4" cy="725.4" r="9.2" fill="#ffa488"/><circle cx="647.2" cy="725.4" r="9.2" fill="#ff8969"/><circle cx="677.0" cy="725.4" r="9.2" fill="#ffa488"/><circle cx="706.8" cy="725.4" r="9.2" fill="#ff603f"/><circle cx="736.7" cy="725.4" r="9.2" fill="#ff603f"/><circle cx="766.5" cy="725.4" r="9.2" fill="#f4ecff"/><circle cx="796.3" cy="725.4" r="9.2" fill="#ffc0ab"/><circle cx="826.1" cy="725.4" r="9.2" fill="#ffd9cb"/><circle cx="855.9" cy="725.4" r="9.2" fill="#b690ff"/><circle cx="885.7" cy="725.4" r="9.2" fill="#d0b2ff"/><circle cx="915.5" cy="725.4" r="9.2" fill="#d0b2ff"/><circle cx="945.3" cy="725.4" r="9.2" fill="#b690ff"/><circle cx="975.1" cy="725.4" r="9.2" fill="#b690ff"/>
<circle cx="244.8" cy="751.4" r="9.2" fill="#ff603f"/><circle cx="274.6" cy="751.4" r="9.2" fill="#ff8969"/><circle cx="304.4" cy="751.4" r="9.2" fill="#ff603f"/><circle cx="334.2" cy="751.4" r="9.2" fill="#ff8969"/><circle cx="364.0" cy="751.4" r="9.2" fill="#ff8969"/><circle cx="393.9" cy="751.4" r="9.2" fill="#ff8969"/><circle cx="423.7" cy="751.4" r="9.2" fill="#ff361c"/><circle cx="453.5" cy="751.4" r="9.2" fill="#ff361c"/><circle cx="483.3" cy="751.4" r="9.2" fill="#ffa488"/><circle cx="513.1" cy="751.4" r="9.2" fill="#ff361c"/><circle cx="542.9" cy="751.4" r="9.2" fill="#ff8969"/><circle cx="572.7" cy="751.4" r="9.2" fill="#ff603f"/><circle cx="602.5" cy="751.4" r="9.2" fill="#ffa488"/><circle cx="632.3" cy="751.4" r="9.2" fill="#ff8969"/><circle cx="662.1" cy="751.4" r="9.2" fill="#ff8969"/><circle cx="692.0" cy="751.4" r="9.2" fill="#ff603f"/><circle cx="721.8" cy="751.4" r="9.2" fill="#ffa488"/><circle cx="751.6" cy="751.4" r="9.2" fill="#ff8969"/><circle cx="781.4" cy="751.4" r="9.2" fill="#ffd9cb"/><circle cx="811.2" cy="751.4" r="9.2" fill="#ffd9cb"/><circle cx="841.0" cy="751.4" r="9.2" fill="#b690ff"/><circle cx="870.8" cy="751.4" r="9.2" fill="#b690ff"/><circle cx="900.6" cy="751.4" r="9.2" fill="#ffffff"/><circle cx="930.4" cy="751.4" r="9.2" fill="#ffd9cb"/><circle cx="960.2" cy="751.4" r="9.2" fill="#d0b2ff"/>
<path d="M208.5 97.5V782.2H1011.8" fill="none" stroke="#000" stroke-width="4.5" stroke-linejoin="miter"/>
<path d="M229.8 784.4v9.1" stroke="#333" stroke-width="4.2" fill="none"/><text class="tk" x="229.8" y="827.3" text-anchor="middle">3000</text>
<path d="M446.5 784.4v9.1" stroke="#333" stroke-width="4.2" fill="none"/><text class="tk" x="446.5" y="827.3" text-anchor="middle">4000</text>
<path d="M663.1 784.4v9.1" stroke="#333" stroke-width="4.2" fill="none"/><text class="tk" x="663.1" y="827.3" text-anchor="middle">5000</text>
<path d="M879.8 784.4v9.1" stroke="#333" stroke-width="4.2" fill="none"/><text class="tk" x="879.8" y="827.3" text-anchor="middle">6000</text>
<path d="M206.3 222.0h-9.1" stroke="#333" stroke-width="4.2" fill="none"/><text class="tk" transform="translate(185.2,222.0) rotate(-90)" text-anchor="middle">-3000</text>
<path d="M206.3 438.8h-9.1" stroke="#333" stroke-width="4.2" fill="none"/><text class="tk" transform="translate(185.2,438.8) rotate(-90)" text-anchor="middle">-4000</text>
<path d="M206.3 655.5h-9.1" stroke="#333" stroke-width="4.2" fill="none"/><text class="tk" transform="translate(185.2,655.5) rotate(-90)" text-anchor="middle">-5000</text>
<text class="at" x="610.2" y="870.2" text-anchor="middle">coord x</text>
<text class="at" transform="translate(137.8,439.8) rotate(-90)" text-anchor="middle">coord y</text>
<rect x="1080.4" y="260" width="72" height="360" fill="url(#g3)"/>
<path d="M1080.4 288.9h14.4M1138 288.9h14.4" stroke="#fff" stroke-width="1.7" fill="none"/><text class="lg" x="1174.5" y="301.1">2</text>
<path d="M1080.4 388.2h14.4M1138 388.2h14.4" stroke="#fff" stroke-width="1.7" fill="none"/><text class="lg" x="1174.5" y="400.4">1</text>
<path d="M1080.4 487.6h14.4M1138 487.6h14.4" stroke="#fff" stroke-width="1.7" fill="none"/><text class="lg" x="1174.5" y="499.8">0</text>
<path d="M1080.4 586.9h14.4M1138 586.9h14.4" stroke="#fff" stroke-width="1.7" fill="none"/><text class="lg" x="1174.5" y="599.1">-1</text>
</g></g>
<g transform="translate(0,1800)">
<rect x="90" y="0" width="1170" height="900" fill="#fff"/>
<g transform="translate(0,0)">
<text class="ti" x="610.2" y="63.1" text-anchor="middle">Zic1</text>
<circle cx="244.8" cy="128.8" r="9.2" fill="#b892ff"/><circle cx="274.6" cy="128.8" r="9.2" fill="#b892ff"/><circle cx="304.4" cy="128.8" r="9.2" fill="#b892ff"/><circle cx="334.2" cy="128.8" r="9.2" fill="#a87dff"/><circle cx="364.0" cy="128.8" r="9.2" fill="#b892ff"/><circle cx="393.9" cy="128.8" r="9.2" fill="#b892ff"/><circle cx="423.7" cy="128.8" r="9.2" fill="#a87dff"/><circle cx="453.5" cy="128.8" r="9.2" fill="#a87dff"/><circle cx="483.3" cy="128.8" r="9.2" fill="#b892ff"/><circle cx="513.1" cy="128.8" r="9.2" fill="#b892ff"/><circle cx="542.9" cy="128.8" r="9.2" fill="#a87dff"/><circle cx="572.7" cy="128.8" r="9.2" fill="#a87dff"/><circle cx="602.5" cy="128.8" r="9.2" fill="#a87dff"/><circle cx="632.3" cy="128.8" r="9.2" fill="#b892ff"/><circle cx="662.1" cy="128.8" r="9.2" fill="#a87dff"/><circle cx="692.0" cy="128.8" r="9.2" fill="#ffd9cb"/><circle cx="721.8" cy="128.8" r="9.2" fill="#b892ff"/><circle cx="751.6" cy="128.8" r="9.2" fill="#a87dff"/><circle cx="781.4" cy="128.8" r="9.2" fill="#ffffff"/><circle cx="811.2" cy="128.8" r="9.2" fill="#b892ff"/><circle cx="841.0" cy="128.8" r="9.2" fill="#a87dff"/><circle cx="870.8" cy="128.8" r="9.2" fill="#b892ff"/><circle cx="900.6" cy="128.8" r="9.2" fill="#b892ff"/><circle cx="930.4" cy="128.8" r="9.2" fill="#ffc0ab"/><circle cx="960.2" cy="128.8" r="9.2" fill="#b892ff"/>
<circle cx="259.7" cy="154.7" r="9.2" fill="#a87dff"/><circle cx="289.5" cy="154.7" r="9.2" fill="#a87dff"/><circle cx="319.3" cy="154.7" r="9.2" fill="#b892ff"/><circle cx="349.1" cy="154.7" r="9.2" fill="#b892ff"/><circle cx="378.9" cy="154.7" r="9.2" fill="#ffc0ab"/><circle cx="408.8" cy="154.7" r="9.2" fill="#b892ff"/><circle cx="438.6" cy="154.7" r="9.2" fill="#a87dff"/><circle cx="468.4" cy="154.7" r="9.2" fill="#b892ff"/><circle cx="498.2" cy="154.7" r="9.2" fill="#b892ff"/><circle cx="528.0" cy="154.7" r="9.2" fill="#b892ff"/><circle cx="557.8" cy="154.7" r="9.2" fill="#b892ff"/><circle cx="587.6" cy="154.7" r="9.2" fill="#a87dff"/><circle cx="617.4" cy="154.7" r="9.2" fill="#b892ff"/><circle cx="647.2" cy="154.7" r="9.2" fill="#b892ff"/><circle cx="677.0" cy="154.7" r="9.2" fill="#d0b2ff"/><circle cx="706.8" cy="154.7" r="9.2" fill="#b892ff"/><circle cx="736.7" cy="154.7" r="9.2" fill="#ffd9cb"/><circle cx="766.5" cy="154.7" r="9.2" fill="#b892ff"/><circle cx="796.3" cy="154.7" r="9.2" fill="#b892ff"/><circle cx="826.1" cy="154.7" r="9.2" fill="#b892ff"/><circle cx="855.9" cy="154.7" r="9.2" fill="#b892ff"/><circle cx="885.7" cy="154.7" r="9.2" fill="#ffc0ab"/><circle cx="915.5" cy="154.7" r="9.2" fill="#b892ff"/><circle cx="945.3" cy="154.7" r="9.2" fill="#b892ff"/><circle cx="975.1" cy="154.7" r="9.2" fill="#ffd9cb"/>
<circle cx="244.8" cy="180.7" r="9.2" fill="#b892ff"/><circle cx="274.6" cy="180.7" r="9.2" fill="#b892ff"/><circle cx="304.4" cy="180.7" r="9.2" fill="#b892ff"/><circle cx="334.2" cy="180.7" r="9.2" fill="#b892ff"/><circle cx="364.0" cy="180.7" r="9.2" fill="#b892ff"/><circle cx="393.9" cy="180.7" r="9.2" fill="#b892ff"/><circle cx="423.7" cy="180.7" r="9.2" fill="#ffd9cb"/><circle cx="453.5" cy="180.7" r="9.2" fill="#a87dff"/><circle cx="483.3" cy="180.7" r="9.2" fill="#a87dff"/><circle cx="513.1" cy="180.7" r="9.2" fill="#b892ff"/><circle cx="542.9" cy="180.7" r="9.2" fill="#a87dff"/><circle cx="572.7" cy="180.7" r="9.2" fill="#a87dff"/><circle cx="602.5" cy="180.7" r="9.2" fill="#a87dff"/><circle cx="632.3" cy="180.7" r="9.2" fill="#a87dff"/><circle cx="662.1" cy="180.7" r="9.2" fill="#a87dff"/><circle cx="692.0" cy="180.7" r="9.2" fill="#a87dff"/><circle cx="721.8" cy="180.7" r="9.2" fill="#a87dff"/><circle cx="751.6" cy="180.7" r="9.2" fill="#fff0ea"/><circle cx="781.4" cy="180.7" r="9.2" fill="#b892ff"/><circle cx="811.2" cy="180.7" r="9.2" fill="#ffd9cb"/><circle cx="841.0" cy="180.7" r="9.2" fill="#b892ff"/><circle cx="870.8" cy="180.7" r="9.2" fill="#b892ff"/><circle cx="900.6" cy="180.7" r="9.2" fill="#b892ff"/><circle cx="930.4" cy="180.7" r="9.2" fill="#b892ff"/><circle cx="960.2" cy="180.7" r="9.2" fill="#b892ff"/>
<circle cx="259.7" cy="206.6" r="9.2" fill="#b892ff"/><circle cx="289.5" cy="206.6" r="9.2" fill="#b892ff"/><circle cx="319.3" cy="206.6" r="9.2" fill="#b892ff"/><circle cx="349.1" cy="206.6" r="9.2" fill="#b892ff"/><circle cx="378.9" cy="206.6" r="9.2" fill="#b892ff"/><circle cx="408.8" cy="206.6" r="9.2" fill="#b892ff"/><circle cx="438.6" cy="206.6" r="9.2" fill="#fff0ea"/><circle cx="468.4" cy="206.6" r="9.2" fill="#b892ff"/><circle cx="498.2" cy="206.6" r="9.2" fill="#b892ff"/><circle cx="528.0" cy="206.6" r="9.2" fill="#a87dff"/><circle cx="557.8" cy="206.6" r="9.2" fill="#b892ff"/><circle cx="587.6" cy="206.6" r="9.2" fill="#b892ff"/><circle cx="617.4" cy="206.6" r="9.2" fill="#b892ff"/><circle cx="647.2" cy="206.6" r="9.2" fill="#a87dff"/><circle cx="677.0" cy="206.6" r="9.2" fill="#b892ff"/><circle cx="706.8" cy="206.6" r="9.2" fill="#a87dff"/><circle cx="736.7" cy="206.6" r="9.2" fill="#b892ff"/><circle cx="766.5" cy="206.6" r="9.2" fill="#a87dff"/><circle cx="796.3" cy="206.6" r="9.2" fill="#b892ff"/><circle cx="826.1" cy="206.6" r="9.2" fill="#ffd9cb"/><circle cx="855.9" cy="206.6" r="9.2" fill="#ffc0ab"/><circle cx="885.7" cy="206.6" r="9.2" fill="#b892ff"/><circle cx="915.5" cy="206.6" r="9.2" fill="#b892ff"/><circle cx="945.3" cy="206.6" r="9.2" fill="#b892ff"/><circle cx="975.1" cy="206.6" r="9.2" fill="#b892ff"/>
<circle cx="244.8" cy="232.6" r="9.2" fill="#b892ff"/><circle cx="274.6" cy="232.6" r="9.2" fill="#b892ff"/><circle cx="304.4" cy="232.6" r="9.2" fill="#b892ff"/><circle cx="334.2" cy="232.6" r="9.2" fill="#b892ff"/><circle cx="364.0" cy="232.6" r="9.2" fill="#b892ff"/><circle cx="393.9" cy="232.6" r="9.2" fill="#b892ff"/><circle cx="423.7" cy="232.6" r="9.2" fill="#b892ff"/><circle cx="453.5" cy="232.6" r="9.2" fill="#b892ff"/><circle cx="483.3" cy="232.6" r="9.2" fill="#d0b2ff"/><circle cx="513.1" cy="232.6" r="9.2" fill="#d0b2ff"/><circle cx="542.9" cy="232.6" r="9.2" fill="#d0b2ff"/><circle cx="572.7" cy="232.6" r="9.2" fill="#b892ff"/><circle cx="602.5" cy="232.6" r="9.2" fill="#b892ff"/><circle cx="632.3" cy="232.6" r="9.2" fill="#b892ff"/><circle cx="662.1" cy="232.6" r="9.2" fill="#b892ff"/><circle cx="692.0" cy="232.6" r="9.2" fill="#b892ff"/><circle cx="721.8" cy="232.6" r="9.2" fill="#a87dff"/><circle cx="751.6" cy="232.6" r="9.2" fill="#b892ff"/><circle cx="781.4" cy="232.6" r="9.2" fill="#a87dff"/><circle cx="811.2" cy="232.6" r="9.2" fill="#b892ff"/><circle cx="841.0" cy="232.6" r="9.2" fill="#a87dff"/><circle cx="870.8" cy="232.6" r="9.2" fill="#b892ff"/><circle cx="900.6" cy="232.6" r="9.2" fill="#a87dff"/><circle cx="930.4" cy="232.6" r="9.2" fill="#b892ff"/><circle cx="960.2" cy="232.6" r="9.2" fill="#b892ff"/>
<circle cx="259.7" cy="258.5" r="9.2" fill="#b892ff"/><circle cx="289.5" cy="258.5" r="9.2" fill="#ffd9cb"/><circle cx="319.3" cy="258.5" r="9.2" fill="#b892ff"/><circle cx="349.1" cy="258.5" r="9.2" fill="#ffa488"/><circle cx="378.9" cy="258.5" r="9.2" fill="#b892ff"/><circle cx="408.8" cy="258.5" r="9.2" fill="#ffffff"/><circle cx="438.6" cy="258.5" r="9.2" fill="#a87dff"/><circle cx="468.4" cy="258.5" r="9.2" fill="#b892ff"/><circle cx="498.2" cy="258.5" r="9.2" fill="#a87dff"/><circle cx="528.0" cy="258.5" r="9.2" fill="#b892ff"/><circle cx="557.8" cy="258.5" r="9.2" fill="#b892ff"/><circle cx="587.6" cy="258.5" r="9.2" fill="#b892ff"/><circle cx="617.4" cy="258.5" r="9.2" fill="#b892ff"/><circle cx="647.2" cy="258.5" r="9.2" fill="#ffa488"/><circle cx="677.0" cy="258.5" r="9.2" fill="#ffffff"/><circle cx="706.8" cy="258.5" r="9.2" fill="#ffc0ab"/><circle cx="736.7" cy="258.5" r="9.2" fill="#ffffff"/><circle cx="766.5" cy="258.5" r="9.2" fill="#a87dff"/><circle cx="796.3" cy="258.5" r="9.2" fill="#fff0ea"/><circle cx="826.1" cy="258.5" r="9.2" fill="#b892ff"/><circle cx="855.9" cy="258.5" r="9.2" fill="#b892ff"/><circle cx="885.7" cy="258.5" r="9.2" fill="#b892ff"/><circle cx="915.5" cy="258.5" r="9.2" fill="#b892ff"/><circle cx="945.3" cy="258.5" r="9.2" fill="#b892ff"/><circle cx="975.1" cy="258.5" r="9.2" fill="#b892ff"/>
<circle cx="244.8" cy="284.4" r="9.2" fill="#b892ff"/><circle cx="274.6" cy="284.4" r="9.2" fill="#b892ff"/><circle cx="304.4" cy="284.4" r="9.2" fill="#a87dff"/><circle cx="334.2" cy="284.4" r="9.2" fill="#b892ff"/><circle cx="364.0" cy="284.4" r="9.2" fill="#a87dff"/><circle cx="393.9" cy="284.4" r="9.2" fill="#b892ff"/><circle cx="423.7" cy="284.4" r="9.2" fill="#b892ff"/><circle cx="453.5" cy="284.4" r="9.2" fill="#b892ff"/><circle cx="483.3" cy="284.4" r="9.2" fill="#b892ff"/><circle cx="513.1" cy="284.4" r="9.2" fill="#a87dff"/><circle cx="542.9" cy="284.4" r="9.2" fill="#e3d0ff"/><circle cx="572.7" cy="284.4" r="9.2" fill="#a87dff"/><circle cx="602.5" cy="284.4" r="9.2" fill="#f4ecff"/><circle cx="632.3" cy="284.4" r="9.2" fill="#b892ff"/><circle cx="662.1" cy="284.4" r="9.2" fill="#b892ff"/><circle cx="692.0" cy="284.4" r="9.2" fill="#ffd9cb"/><circle cx="721.8" cy="284.4" r="9.2" fill="#a87dff"/><circle cx="751.6" cy="284.4" r="9.2" fill="#a87dff"/><circle cx="781.4" cy="284.4" r="9.2" fill="#b892ff"/><circle cx="811.2" cy="284.4" r="9.2" fill="#a87dff"/><circle cx="841.0" cy="284.4" r="9.2" fill="#a87dff"/><circle cx="870.8" cy="284.4" r="9.2" fill="#b892ff"/><circle cx="900.6" cy="284.4" r="9.2" fill="#b892ff"/><circle cx="930.4" cy="284.4" r="9.2" fill="#a87dff"/><circle cx="960.2" cy="284.4" r="9.2" fill="#a87dff"/>
<circle cx="259.7" cy="310.4" r="9.2" fill="#b892ff"/><circle cx="289.5" cy="310.4" r="9.2" fill="#b892ff"/><circle cx="319.3" cy="310.4" r="9.2" fill="#b892ff"/><circle cx="349.1" cy="310.4" r="9.2" fill="#b892ff"/><circle cx="378.9" cy="310.4" r="9.2" fill="#b892ff"/><circle cx="408.8" cy="310.4" r="9.2" fill="#d0b2ff"/><circle cx="438.6" cy="310.4" r="9.2" fill="#b892ff"/><circle cx="468.4" cy="310.4" r="9.2" fill="#b892ff"/><circle cx="498.2" cy="310.4" r="9.2" fill="#b892ff"/><circle cx="528.0" cy="310.4" r="9.2" fill="#d0b2ff"/><circle cx="557.8" cy="310.4" r="9.2" fill="#b892ff"/><circle cx="587.6" cy="310.4" r="9.2" fill="#b892ff"/><circle cx="617.4" cy="310.4" r="9.2" fill="#a87dff"/><circle cx="647.2" cy="310.4" r="9.2" fill="#a87dff"/><circle cx="677.0" cy="310.4" r="9.2" fill="#ffd9cb"/><circle cx="706.8" cy="310.4" r="9.2" fill="#ffc0ab"/><circle cx="736.7" cy="310.4" r="9.2" fill="#b892ff"/><circle cx="766.5" cy="310.4" r="9.2" fill="#b892ff"/><circle cx="796.3" cy="310.4" r="9.2" fill="#b892ff"/><circle cx="826.1" cy="310.4" r="9.2" fill="#b892ff"/><circle cx="855.9" cy="310.4" r="9.2" fill="#a87dff"/><circle cx="885.7" cy="310.4" r="9.2" fill="#a87dff"/><circle cx="915.5" cy="310.4" r="9.2" fill="#ffd9cb"/><circle cx="945.3" cy="310.4" r="9.2" fill="#b892ff"/><circle cx="975.1" cy="310.4" r="9.2" fill="#a87dff"/>
<circle cx="244.8" cy="336.3" r="9.2" fill="#b892ff"/><circle cx="274.6" cy="336.3" r="9.2" fill="#a87dff"/><circle cx="304.4" cy="336.3" r="9.2" fill="#b892ff"/><circle cx="334.2" cy="336.3" r="9.2" fill="#b892ff"/><circle cx="364.0" cy="336.3" r="9.2" fill="#d0b2ff"/><circle cx="393.9" cy="336.3" r="9.2" fill="#d0b2ff"/><circle cx="423.7" cy="336.3" r="9.2" fill="#d0b2ff"/><circle cx="453.5" cy="336.3" r="9.2" fill="#b892ff"/><circle cx="483.3" cy="336.3" r="9.2" fill="#d0b2ff"/><circle cx="513.1" cy="336.3" r="9.2" fill="#d0b2ff"/><circle cx="542.9" cy="336.3" r="9.2" fill="#d0b2ff"/><circle cx="572.7" cy="336.3" r="9.2" fill="#b892ff"/><circle cx="602.5" cy="336.3" r="9.2" fill="#b892ff"/><circle cx="632.3" cy="336.3" r="9.2" fill="#b892ff"/><circle cx="662.1" cy="336.3" r="9.2" fill="#a87dff"/><circle cx="692.0" cy="336.3" r="9.2" fill="#a87dff"/><circle cx="721.8" cy="336.3" r="9.2" fill="#ffd9cb"/><circle cx="751.6" cy="336.3" r="9.2" fill="#b892ff"/><circle cx="781.4" cy="336.3" r="9.2" fill="#ffa488"/><circle cx="811.2" cy="336.3" r="9.2" fill="#b892ff"/><circle cx="841.0" cy="336.3" r="9.2" fill="#b892ff"/><circle cx="870.8" cy="336.3" r="9.2" fill="#b892ff"/><circle cx="900.6" cy="336.3" r="9.2" fill="#b892ff"/><circle cx="930.4" cy="336.3" r="9.2" fill="#a87dff"/><circle cx="960.2" cy="336.3" r="9.2" fill="#b892ff"/>
<circle cx="259.7" cy="362.3" r="9.2" fill="#b892ff"/><circle cx="289.5" cy="362.3" r="9.2" fill="#b892ff"/><circle cx="319.3" cy="362.3" r="9.2" fill="#b892ff"/><circle cx="349.1" cy="362.3" r="9.2" fill="#d0b2ff"/><circle cx="378.9" cy="362.3" r="9.2" fill="#b892ff"/><circle cx="408.8" cy="362.3" r="9.2" fill="#b892ff"/><circle cx="438.6" cy="362.3" r="9.2" fill="#d0b2ff"/><circle cx="468.4" cy="362.3" r="9.2" fill="#b892ff"/><circle cx="498.2" cy="362.3" r="9.2" fill="#d0b2ff"/><circle cx="528.0" cy="362.3" r="9.2" fill="#b892ff"/><circle cx="557.8" cy="362.3" r="9.2" fill="#d0b2ff"/><circle cx="587.6" cy="362.3" r="9.2" fill="#b892ff"/><circle cx="617.4" cy="362.3" r="9.2" fill="#d0b2ff"/><circle cx="647.2" cy="362.3" r="9.2" fill="#b892ff"/><circle cx="677.0" cy="362.3" r="9.2" fill="#b892ff"/><circle cx="706.8" cy="362.3" r="9.2" fill="#b892ff"/><circle cx="736.7" cy="362.3" r="9.2" fill="#b892ff"/><circle cx="766.5" cy="362.3" r="9.2" fill="#b892ff"/><circle cx="796.3" cy="362.3" r="9.2" fill="#ffa488"/><circle cx="826.1" cy="362.3" r="9.2" fill="#b892ff"/><circle cx="855.9" cy="362.3" r="9.2" fill="#a87dff"/><circle cx="885.7" cy="362.3" r="9.2" fill="#a87dff"/><circle cx="915.5" cy="362.3" r="9.2" fill="#b892ff"/><circle cx="945.3" cy="362.3" r="9.2" fill="#a87dff"/><circle cx="975.1" cy="362.3" r="9.2" fill="#a87dff"/>
<circle cx="244.8" cy="388.2" r="9.2" fill="#b892ff"/><circle cx="274.6" cy="388.2" r="9.2" fill="#b892ff"/><circle cx="304.4" cy="388.2" r="9.2" fill="#ffd9cb"/><circle cx="334.2" cy="388.2" r="9.2" fill="#d0b2ff"/><circle cx="364.0" cy="388.2" r="9.2" fill="#b892ff"/><circle cx="393.9" cy="388.2" r="9.2" fill="#d0b2ff"/><circle cx="423.7" cy="388.2" r="9.2" fill="#b892ff"/><circle cx="453.5" cy="388.2" r="9.2" fill="#d0b2ff"/><circle cx="483.3" cy="388.2" r="9.2" fill="#b892ff"/><circle cx="513.1" cy="388.2" r="9.2" fill="#b892ff"/><circle cx="542.9" cy="388.2" r="9.2" fill="#b892ff"/><circle cx="572.7" cy="388.2" r="9.2" fill="#b892ff"/><circle cx="602.5" cy="388.2" r="9.2" fill="#ffa488"/><circle cx="632.3" cy="388.2" r="9.2" fill="#b892ff"/><circle cx="662.1" cy="388.2" r="9.2" fill="#b892ff"/><circle cx="692.0" cy="388.2" r="9.2" fill="#b892ff"/><circle cx="721.8" cy="388.2" r="9.2" fill="#a87dff"/><circle cx="751.6" cy="388.2" r="9.2" fill="#f4ecff"/><circle cx="781.4" cy="388.2" r="9.2" fill="#a87dff"/><circle cx="811.2" cy="388.2" r="9.2" fill="#b892ff"/><circle cx="841.0" cy="388.2" r="9.2" fill="#ffc0ab"/><circle cx="870.8" cy="388.2" r="9.2" fill="#f4ecff"/><circle cx="900.6" cy="388.2" r="9.2" fill="#b892ff"/><circle cx="930.4" cy="388.2" r="9.2" fill="#a87dff"/><circle cx="960.2" cy="388.2" r="9.2" fill="#b892ff"/>
<circle cx="259.7" cy="414.1" r="9.2" fill="#b892ff"/><circle cx="289.5" cy="414.1" r="9.2" fill="#b892ff"/><circle cx="319.3" cy="414.1" r="9.2" fill="#d0b2ff"/><circle cx="349.1" cy="414.1" r="9.2" fill="#d0b2ff"/><circle cx="378.9" cy="414.1" r="9.2" fill="#b892ff"/><circle cx="408.8" cy="414.1" r="9.2" fill="#d0b2ff"/><circle cx="438.6" cy="414.1" r="9.2" fill="#d0b2ff"/><circle cx="498.2" cy="414.1" r="9.2" fill="#d0b2ff"/><circle cx="528.0" cy="414.1" r="9.2" fill="#d0b2ff"/><circle cx="557.8" cy="414.1" r="9.2" fill="#b892ff"/><circle cx="587.6" cy="414.1" r="9.2" fill="#b892ff"/><circle cx="617.4" cy="414.1" r="9.2" fill="#ffd9cb"/><circle cx="647.2" cy="414.1" r="9.2" fill="#b892ff"/><circle cx="677.0" cy="414.1" r="9.2" fill="#ff8969"/><circle cx="706.8" cy="414.1" r="9.2" fill="#b892ff"/><circle cx="736.7" cy="414.1" r="9.2" fill="#b892ff"/><circle cx="766.5" cy="414.1" r="9.2" fill="#b892ff"/><circle cx="796.3" cy="414.1" r="9.2" fill="#b892ff"/><circle cx="826.1" cy="414.1" r="9.2" fill="#b892ff"/><circle cx="855.9" cy="414.1" r="9.2" fill="#b892ff"/><circle cx="885.7" cy="414.1" r="9.2" fill="#b892ff"/><circle cx="915.5" cy="414.1" r="9.2" fill="#b892ff"/><circle cx="945.3" cy="414.1" r="9.2" fill="#b892ff"/><circle cx="975.1" cy="414.1" r="9.2" fill="#fff0ea"/>
<circle cx="244.8" cy="440.1" r="9.2" fill="#b892ff"/><circle cx="274.6" cy="440.1" r="9.2" fill="#b892ff"/><circle cx="304.4" cy="440.1" r="9.2" fill="#b892ff"/><circle cx="334.2" cy="440.1" r="9.2" fill="#fff0ea"/><circle cx="364.0" cy="440.1" r="9.2" fill="#d0b2ff"/><circle cx="393.9" cy="440.1" r="9.2" fill="#b892ff"/><circle cx="423.7" cy="440.1" r="9.2" fill="#ffa488"/><circle cx="453.5" cy="440.1" r="9.2" fill="#b892ff"/><circle cx="483.3" cy="440.1" r="9.2" fill="#b892ff"/><circle cx="513.1" cy="440.1" r="9.2" fill="#b892ff"/><circle cx="542.9" cy="440.1" r="9.2" fill="#b892ff"/><circle cx="572.7" cy="440.1" r="9.2" fill="#ff8969"/><circle cx="602.5" cy="440.1" r="9.2" fill="#b892ff"/><circle cx="632.3" cy="440.1" r="9.2" fill="#b892ff"/><circle cx="662.1" cy="440.1" r="9.2" fill="#ffa488"/><circle cx="692.0" cy="440.1" r="9.2" fill="#ffc0ab"/><circle cx="721.8" cy="440.1" r="9.2" fill="#ffa488"/><circle cx="751.6" cy="440.1" r="9.2" fill="#b892ff"/><circle cx="781.4" cy="440.1" r="9.2" fill="#ffd9cb"/><circle cx="811.2" cy="440.1" r="9.2" fill="#b892ff"/><circle cx="841.0" cy="440.1" r="9.2" fill="#b892ff"/><circle cx="870.8" cy="440.1" r="9.2" fill="#ff8969"/><circle cx="900.6" cy="440.1" r="9.2" fill="#ffffff"/><circle cx="930.4" cy="440.1" r="9.2" fill="#b892ff"/><circle cx="960.2" cy="440.1" r="9.2" fill="#a87dff"/>
<circle cx="259.7" cy="466.0" r="9.2" fill="#b892ff"/><circle cx="289.5" cy="466.0" r="9.2" fill="#b892ff"/><circle cx="319.3" cy="466.0" r="9.2" fill="#b892ff"/><circle cx="349.1" cy="466.0" r="9.2" fill="#b892ff"/><circle cx="378.9" cy="466.0" r="9.2" fill="#b892ff"/><circle cx="408.8" cy="466.0" r="9.2" fill="#a87dff"/><circle cx="438.6" cy="466.0" r="9.2" fill="#d0b2ff"/><circle cx="468.4" cy="466.0" r="9.2" fill="#e3d0ff"/><circle cx="498.2" cy="466.0" r="9.2" fill="#e3d0ff"/><circle cx="528.0" cy="466.0" r="9.2" fill="#f4ecff"/><circle cx="557.8" cy="466.0" r="9.2" fill="#b892ff"/><circle cx="587.6" cy="466.0" r="9.2" fill="#b892ff"/><circle cx="617.4" cy="466.0" r="9.2" fill="#ffa488"/><circle cx="647.2" cy="466.0" r="9.2" fill="#d0b2ff"/><circle cx="677.0" cy="466.0" r="9.2" fill="#b892ff"/><circle cx="706.8" cy="466.0" r="9.2" fill="#ffc0ab"/><circle cx="736.7" cy="466.0" r="9.2" fill="#b892ff"/><circle cx="766.5" cy="466.0" r="9.2" fill="#ffa488"/><circle cx="796.3" cy="466.0" r="9.2" fill="#b892ff"/><circle cx="826.1" cy="466.0" r="9.2" fill="#b892ff"/><circle cx="855.9" cy="466.0" r="9.2" fill="#b892ff"/><circle cx="885.7" cy="466.0" r="9.2" fill="#ffc0ab"/><circle cx="915.5" cy="466.0" r="9.2" fill="#b892ff"/><circle cx="945.3" cy="466.0" r="9.2" fill="#b892ff"/><circle cx="975.1" cy="466.0" r="9.2" fill="#b892ff"/>
<circle cx="244.8" cy="492.0" r="9.2" fill="#ff8969"/><circle cx="274.6" cy="492.0" r="9.2" fill="#fff0ea"/><circle cx="304.4" cy="492.0" r="9.2" fill="#b892ff"/><circle cx="334.2" cy="492.0" r="9.2" fill="#ff8969"/><circle cx="364.0" cy="492.0" r="9.2" fill="#b892ff"/><circle cx="393.9" cy="492.0" r="9.2" fill="#e3d0ff"/><circle cx="423.7" cy="492.0" r="9.2" fill="#fff0ea"/><circle cx="453.5" cy="492.0" r="9.2" fill="#a87dff"/><circle cx="483.3" cy="492.0" r="9.2" fill="#7e52ff"/><circle cx="513.1" cy="492.0" r="9.2" fill="#ffd9cb"/><circle cx="542.9" cy="492.0" r="9.2" fill="#ffd9cb"/><circle cx="572.7" cy="492.0" r="9.2" fill="#e3d0ff"/><circle cx="602.5" cy="492.0" r="9.2" fill="#a87dff"/><circle cx="632.3" cy="492.0" r="9.2" fill="#a87dff"/><circle cx="662.1" cy="492.0" r="9.2" fill="#b892ff"/><circle cx="692.0" cy="492.0" r="9.2" fill="#b892ff"/><circle cx="721.8" cy="492.0" r="9.2" fill="#b892ff"/><circle cx="751.6" cy="492.0" r="9.2" fill="#e3d0ff"/><circle cx="781.4" cy="492.0" r="9.2" fill="#b892ff"/><circle cx="811.2" cy="492.0" r="9.2" fill="#ff8969"/><circle cx="841.0" cy="492.0" r="9.2" fill="#b892ff"/><circle cx="870.8" cy="492.0" r="9.2" fill="#ffd9cb"/><circle cx="900.6" cy="492.0" r="9.2" fill="#b892ff"/><circle cx="930.4" cy="492.0" r="9.2" fill="#b892ff"/><circle cx="960.2" cy="492.0" r="9.2" fill="#b892ff"/>
<circle cx="259.7" cy="517.9" r="9.2" fill="#ffd9cb"/><circle cx="289.5" cy="517.9" r="9.2" fill="#ffa488"/><circle cx="319.3" cy="517.9" r="9.2" fill="#d0b2ff"/><circle cx="349.1" cy="517.9" r="9.2" fill="#fff0ea"/><circle cx="378.9" cy="517.9" r="9.2" fill="#b892ff"/><circle cx="408.8" cy="517.9" r="9.2" fill="#d0b2ff"/><circle cx="438.6" cy="517.9" r="9.2" fill="#b892ff"/><circle cx="468.4" cy="517.9" r="9.2" fill="#fff0ea"/><circle cx="498.2" cy="517.9" r="9.2" fill="#b892ff"/><circle cx="528.0" cy="517.9" r="9.2" fill="#f4ecff"/><circle cx="557.8" cy="517.9" r="9.2" fill="#7e52ff"/><circle cx="587.6" cy="517.9" r="9.2" fill="#f4ecff"/><circle cx="617.4" cy="517.9" r="9.2" fill="#b892ff"/><circle cx="647.2" cy="517.9" r="9.2" fill="#b892ff"/><circle cx="677.0" cy="517.9" r="9.2" fill="#b892ff"/><circle cx="706.8" cy="517.9" r="9.2" fill="#ffa488"/><circle cx="736.7" cy="517.9" r="9.2" fill="#d0b2ff"/><circle cx="766.5" cy="517.9" r="9.2" fill="#b892ff"/><circle cx="796.3" cy="517.9" r="9.2" fill="#ffa488"/><circle cx="826.1" cy="517.9" r="9.2" fill="#b892ff"/><circle cx="855.9" cy="517.9" r="9.2" fill="#b892ff"/><circle cx="885.7" cy="517.9" r="9.2" fill="#ffd9cb"/><circle cx="915.5" cy="517.9" r="9.2" fill="#b892ff"/><circle cx="945.3" cy="517.9" r="9.2" fill="#e3d0ff"/><circle cx="975.1" cy="517.9" r="9.2" fill="#b892ff"/>
<circle cx="244.8" cy="543.8" r="9.2" fill="#ffd9cb"/><circle cx="274.6" cy="543.8" r="9.2" fill="#ffc0ab"/><circle cx="304.4" cy="543.8" r="9.2" fill="#ffc0ab"/><circle cx="334.2" cy="543.8" r="9.2" fill="#ffa488"/><circle cx="364.0" cy="543.8" r="9.2" fill="#ffa488"/><circle cx="393.9" cy="543.8" r="9.2" fill="#ff8969"/><circle cx="423.7" cy="543.8" r="9.2" fill="#d0b2ff"/><circle cx="453.5" cy="543.8" r="9.2" fill="#ffc0ab"/><circle cx="483.3" cy="543.8" r="9.2" fill="#b892ff"/><circle cx="513.1" cy="543.8" r="9.2" fill="#ffa488"/><circle cx="542.9" cy="543.8" r="9.2" fill="#ffa488"/><circle cx="572.7" cy="543.8" r="9.2" fill="#a87dff"/><circle cx="602.5" cy="543.8" r="9.2" fill="#a87dff"/><circle cx="632.3" cy="543.8" r="9.2" fill="#a87dff"/><circle cx="662.1" cy="543.8" r="9.2" fill="#ffffff"/><circle cx="692.0" cy="543.8" r="9.2" fill="#b892ff"/><circle cx="721.8" cy="543.8" r="9.2" fill="#d0b2ff"/><circle cx="751.6" cy="543.8" r="9.2" fill="#ff8969"/><circle cx="781.4" cy="543.8" r="9.2" fill="#b892ff"/><circle cx="811.2" cy="543.8" r="9.2" fill="#b892ff"/><circle cx="841.0" cy="543.8" r="9.2" fill="#b892ff"/><circle cx="870.8" cy="543.8" r="9.2" fill="#a87dff"/><circle cx="900.6" cy="543.8" r="9.2" fill="#b892ff"/><circle cx="930.4" cy="543.8" r="9.2" fill="#b892ff"/><circle cx="960.2" cy="543.8" r="9.2" fill="#b892ff"/>
<circle cx="259.7" cy="569.8" r="9.2" fill="#ffffff"/><circle cx="289.5" cy="569.8" r="9.2" fill="#e3d0ff"/><circle cx="319.3" cy="569.8" r="9.2" fill="#ffc0ab"/><circle cx="349.1" cy="569.8" r="9.2" fill="#ffd9cb"/><circle cx="378.9" cy="569.8" r="9.2" fill="#fff0ea"/><circle cx="408.8" cy="569.8" r="9.2" fill="#ff8969"/><circle cx="438.6" cy="569.8" r="9.2" fill="#d0b2ff"/><circle cx="468.4" cy="569.8" r="9.2" fill="#ffa488"/><circle cx="498.2" cy="569.8" r="9.2" fill="#ffa488"/><circle cx="528.0" cy="569.8" r="9.2" fill="#ff8969"/><circle cx="557.8" cy="569.8" r="9.2" fill="#ffc0ab"/><circle cx="587.6" cy="569.8" r="9.2" fill="#ffc0ab"/><circle cx="617.4" cy="569.8" r="9.2" fill="#ffa488"/><circle cx="647.2" cy="569.8" r="9.2" fill="#ffc0ab"/><circle cx="677.0" cy="569.8" r="9.2" fill="#fff0ea"/><circle cx="706.8" cy="569.8" r="9.2" fill="#ff8969"/><circle cx="736.7" cy="569.8" r="9.2" fill="#d0b2ff"/><circle cx="766.5" cy="569.8" r="9.2" fill="#ff603f"/><circle cx="796.3" cy="569.8" r="9.2" fill="#d0b2ff"/><circle cx="826.1" cy="569.8" r="9.2" fill="#b892ff"/><circle cx="855.9" cy="569.8" r="9.2" fill="#a87dff"/><circle cx="885.7" cy="569.8" r="9.2" fill="#a87dff"/><circle cx="915.5" cy="569.8" r="9.2" fill="#b892ff"/><circle cx="945.3" cy="569.8" r="9.2" fill="#ffc0ab"/><circle cx="975.1" cy="569.8" r="9.2" fill="#b892ff"/>
<circle cx="244.8" cy="595.7" r="9.2" fill="#ffa488"/><circle cx="274.6" cy="595.7" r="9.2" fill="#ffc0ab"/><circle cx="304.4" cy="595.7" r="9.2" fill="#ffa488"/><circle cx="334.2" cy="595.7" r="9.2" fill="#ffc0ab"/><circle cx="364.0" cy="595.7" r="9.2" fill="#ff8969"/><circle cx="393.9" cy="595.7" r="9.2" fill="#ffa488"/><circle cx="423.7" cy="595.7" r="9.2" fill="#ff603f"/><circle cx="453.5" cy="595.7" r="9.2" fill="#ff361c"/><circle cx="483.3" cy="595.7" r="9.2" fill="#ff603f"/><circle cx="513.1" cy="595.7" r="9.2" fill="#ff361c"/><circle cx="542.9" cy="595.7" r="9.2" fill="#ff0000"/><circle cx="572.7" cy="595.7" r="9.2" fill="#ff603f"/><circle cx="602.5" cy="595.7" r="9.2" fill="#ff603f"/><circle cx="632.3" cy="595.7" r="9.2" fill="#ffa488"/><circle cx="662.1" cy="595.7" r="9.2" fill="#ff8969"/><circle cx="692.0" cy="595.7" r="9.2" fill="#f4ecff"/><circle cx="721.8" cy="595.7" r="9.2" fill="#a87dff"/><circle cx="751.6" cy="595.7" r="9.2" fill="#b892ff"/><circle cx="781.4" cy="595.7" r="9.2" fill="#b892ff"/><circle cx="811.2" cy="595.7" r="9.2" fill="#b892ff"/><circle cx="841.0" cy="595.7" r="9.2" fill="#b892ff"/><circle cx="870.8" cy="595.7" r="9.2" fill="#a87dff"/><circle cx="900.6" cy="595.7" r="9.2" fill="#a87dff"/><circle cx="930.4" cy="595.7" r="9.2" fill="#b892ff"/><circle cx="960.2" cy="595.7" r="9.2" fill="#b892ff"/>
<circle cx="259.7" cy="621.7" r="9.2" fill="#ffd9cb"/><circle cx="289.5" cy="621.7" r="9.2" fill="#ffa488"/><circle cx="319.3" cy="621.7" r="9.2" fill="#ff8969"/><circle cx="349.1" cy="621.7" r="9.2" fill="#ffd9cb"/><circle cx="378.9" cy="621.7" r="9.2" fill="#ff8969"/><circle cx="408.8" cy="621.7" r="9.2" fill="#ff603f"/><circle cx="438.6" cy="621.7" r="9.2" fill="#ff603f"/><circle cx="468.4" cy="621.7" r="9.2" fill="#ff8969"/><circle cx="498.2" cy="621.7" r="9.2" fill="#ff8969"/><circle cx="528.0" cy="621.7" r="9.2" fill="#ff603f"/><circle cx="557.8" cy="621.7" r="9.2" fill="#ff603f"/><circle cx="587.6" cy="621.7" r="9.2" fill="#ff361c"/><circle cx="617.4" cy="621.7" r="9.2" fill="#ff361c"/><circle cx="647.2" cy="621.7" r="9.2" fill="#ff8969"/><circle cx="677.0" cy="621.7" r="9.2" fill="#ff8969"/><circle cx="706.8" cy="621.7" r="9.2" fill="#ffa488"/><circle cx="736.7" cy="621.7" r="9.2" fill="#a87dff"/><circle cx="766.5" cy="621.7" r="9.2" fill="#a87dff"/><circle cx="796.3" cy="621.7" r="9.2" fill="#b892ff"/><circle cx="826.1" cy="621.7" r="9.2" fill="#b892ff"/><circle cx="855.9" cy="621.7" r="9.2" fill="#b892ff"/><circle cx="885.7" cy="621.7" r="9.2" fill="#a87dff"/><circle cx="915.5" cy="621.7" r="9.2" fill="#b892ff"/><circle cx="945.3" cy="621.7" r="9.2" fill="#d0b2ff"/><circle cx="975.1" cy="621.7" r="9.2" fill="#b892ff"/>
<circle cx="244.8" cy="647.6" r="9.2" fill="#fff0ea"/><circle cx="274.6" cy="647.6" r="9.2" fill="#ff8969"/><circle cx="304.4" cy="647.6" r="9.2" fill="#ffa488"/><circle cx="334.2" cy="647.6" r="9.2" fill="#ff603f"/><circle cx="364.0" cy="647.6" r="9.2" fill="#ff603f"/><circle cx="393.9" cy="647.6" r="9.2" fill="#ff8969"/><circle cx="423.7" cy="647.6" r="9.2" fill="#ffa488"/><circle cx="453.5" cy="647.6" r="9.2" fill="#ff603f"/><circle cx="483.3" cy="647.6" r="9.2" fill="#ff361c"/><circle cx="513.1" cy="647.6" r="9.2" fill="#ff603f"/><circle cx="542.9" cy="647.6" r="9.2" fill="#ff8969"/><circle cx="572.7" cy="647.6" r="9.2" fill="#ff603f"/><circle cx="602.5" cy="647.6" r="9.2" fill="#ff8969"/><circle cx="632.3" cy="647.6" r="9.2" fill="#ff603f"/><circle cx="662.1" cy="647.6" r="9.2" fill="#ff361c"/><circle cx="692.0" cy="647.6" r="9.2" fill="#ff603f"/><circle cx="721.8" cy="647.6" r="9.2" fill="#ffa488"/><circle cx="751.6" cy="647.6" r="9.2" fill="#b892ff"/><circle cx="781.4" cy="647.6" r="9.2" fill="#f4ecff"/><circle cx="811.2" cy="647.6" r="9.2" fill="#f4ecff"/><circle cx="841.0" cy="647.6" r="9.2" fill="#a87dff"/><circle cx="870.8" cy="647.6" r="9.2" fill="#a87dff"/><circle cx="900.6" cy="647.6" r="9.2" fill="#b892ff"/><circle cx="930.4" cy="647.6" r="9.2" fill="#b892ff"/><circle cx="960.2" cy="647.6" r="9.2" fill="#b892ff"/>
<circle cx="259.7" cy="673.5" r="9.2" fill="#ff603f"/><circle cx="289.5" cy="673.5" r="9.2" fill="#ff8969"/><circle cx="319.3" cy="673.5" r="9.2" fill="#ff603f"/><circle cx="349.1" cy="673.5" r="9.2" fill="#ff603f"/><circle cx="378.9" cy="673.5" r="9.2" fill="#ff8969"/><circle cx="408.8" cy="673.5" r="9.2" fill="#a87dff"/><circle cx="438.6" cy="673.5" r="9.2" fill="#ff603f"/><circle cx="468.4" cy="673.5" r="9.2" fill="#ff8969"/><circle cx="498.2" cy="673.5" r="9.2" fill="#ff8969"/><circle cx="528.0" cy="673.5" r="9.2" fill="#ff603f"/><circle cx="557.8" cy="673.5" r="9.2" fill="#ffa488"/><circle cx="587.6" cy="673.5" r="9.2" fill="#ff8969"/><circle cx="617.4" cy="673.5" r="9.2" fill="#ff603f"/><circle cx="647.2" cy="673.5" r="9.2" fill="#ffc0ab"/><circle cx="677.0" cy="673.5" r="9.2" fill="#ff603f"/><circle cx="706.8" cy="673.5" r="9.2" fill="#ff0000"/><circle cx="736.7" cy="673.5" r="9.2" fill="#a87dff"/><circle cx="766.5" cy="673.5" r="9.2" fill="#d0b2ff"/><circle cx="796.3" cy="673.5" r="9.2" fill="#ffa488"/><circle cx="826.1" cy="673.5" r="9.2" fill="#ffc0ab"/><circle cx="855.9" cy="673.5" r="9.2" fill="#b892ff"/><circle cx="885.7" cy="673.5" r="9.2" fill="#d0b2ff"/><circle cx="915.5" cy="673.5" r="9.2" fill="#b892ff"/><circle cx="945.3" cy="673.5" r="9.2" fill="#d0b2ff"/><circle cx="975.1" cy="673.5" r="9.2" fill="#b892ff"/>
<circle cx="244.8" cy="699.5" r="9.2" fill="#ff603f"/><circle cx="274.6" cy="699.5" r="9.2" fill="#ffd9cb"/><circle cx="304.4" cy="699.5" r="9.2" fill="#ffd9cb"/><circle cx="334.2" cy="699.5" r="9.2" fill="#ff603f"/><circle cx="364.0" cy="699.5" r="9.2" fill="#ff603f"/><circle cx="393.9" cy="699.5" r="9.2" fill="#ff8969"/><circle cx="423.7" cy="699.5" r="9.2" fill="#ff8969"/><circle cx="453.5" cy="699.5" r="9.2" fill="#ff8969"/><circle cx="483.3" cy="699.5" r="9.2" fill="#ff603f"/><circle cx="513.1" cy="699.5" r="9.2" fill="#ff603f"/><circle cx="542.9" cy="699.5" r="9.2" fill="#ffa488"/><circle cx="572.7" cy="699.5" r="9.2" fill="#ff361c"/><circle cx="602.5" cy="699.5" r="9.2" fill="#ff8969"/><circle cx="632.3" cy="699.5" r="9.2" fill="#ff361c"/><circle cx="662.1" cy="699.5" r="9.2" fill="#ff603f"/><circle cx="692.0" cy="699.5" r="9.2" fill="#b892ff"/><circle cx="721.8" cy="699.5" r="9.2" fill="#ff603f"/><circle cx="751.6" cy="699.5" r="9.2" fill="#a87dff"/><circle cx="781.4" cy="699.5" r="9.2" fill="#ffa488"/><circle cx="811.2" cy="699.5" r="9.2" fill="#ffc0ab"/><circle cx="841.0" cy="699.5" r="9.2" fill="#ffc0ab"/><circle cx="870.8" cy="699.5" r="9.2" fill="#b892ff"/><circle cx="900.6" cy="699.5" r="9.2" fill="#b892ff"/><circle cx="930.4" cy="699.5" r="9.2" fill="#a87dff"/><circle cx="960.2" cy="699.5" r="9.2" fill="#b892ff"/>
<circle cx="259.7" cy="725.4" r="9.2" fill="#d0b2ff"/><circle cx="289.5" cy="725.4" r="9.2" fill="#ffc0ab"/><circle cx="319.3" cy="725.4" r="9.2" fill="#ffa488"/><circle cx="349.1" cy="725.4" r="9.2" fill="#ff8969"/><circle cx="378.9" cy="725.4" r="9.2" fill="#ff8969"/><circle cx="408.8" cy="725.4" r="9.2" fill="#ffffff"/><circle cx="438.6" cy="725.4" r="9.2" fill="#ffc0ab"/><circle cx="468.4" cy="725.4" r="9.2" fill="#ffa488"/><circle cx="498.2" cy="725.4" r="9.2" fill="#ff8969"/><circle cx="528.0" cy="725.4" r="9.2" fill="#ff603f"/><circle cx="557.8" cy="725.4" r="9.2" fill="#ff603f"/><circle cx="587.6" cy="725.4" r="9.2" fill="#ff603f"/><circle cx="617.4" cy="725.4" r="9.2" fill="#ff603f"/><circle cx="647.2" cy="725.4" r="9.2" fill="#ff603f"/><circle cx="677.0" cy="725.4" r="9.2" fill="#ff8969"/><circle cx="706.8" cy="725.4" r="9.2" fill="#ff603f"/><circle cx="736.7" cy="725.4" r="9.2" fill="#ff8969"/><circle cx="766.5" cy="725.4" r="9.2" fill="#fff0ea"/><circle cx="796.3" cy="725.4" r="9.2" fill="#ffd9cb"/><circle cx="826.1" cy="725.4" r="9.2" fill="#ffa488"/><circle cx="855.9" cy="725.4" r="9.2" fill="#ffa488"/><circle cx="885.7" cy="725.4" r="9.2" fill="#ffa488"/><circle cx="915.5" cy="725.4" r="9.2" fill="#d0b2ff"/><circle cx="945.3" cy="725.4" r="9.2" fill="#b892ff"/><circle cx="975.1" cy="725.4" r="9.2" fill="#b892ff"/>
<circle cx="244.8" cy="751.4" r="9.2" fill="#ffc0ab"/><circle cx="274.6" cy="751.4" r="9.2" fill="#ffd9cb"/><circle cx="304.4" cy="751.4" r="9.2" fill="#ff8969"/><circle cx="334.2" cy="751.4" r="9.2" fill="#ff8969"/><circle cx="364.0" cy="751.4" r="9.2" fill="#ffa488"/><circle cx="393.9" cy="751.4" r="9.2" fill="#ffa488"/><circle cx="423.7" cy="751.4" r="9.2" fill="#ff361c"/><circle cx="453.5" cy="751.4" r="9.2" fill="#ff603f"/><circle cx="483.3" cy="751.4" r="9.2" fill="#ffd9cb"/><circle cx="513.1" cy="751.4" r="9.2" fill="#ff603f"/><circle cx="542.9" cy="751.4" r="9.2" fill="#ff603f"/><circle cx="572.7" cy="751.4" r="9.2" fill="#ff603f"/><circle cx="602.5" cy="751.4" r="9.2" fill="#ffd9cb"/><circle cx="632.3" cy="751.4" r="9.2" fill="#ffc0ab"/><circle cx="662.1" cy="751.4" r="9.2" fill="#ff8969"/><circle cx="692.0" cy="751.4" r="9.2" fill="#ff361c"/><circle cx="721.8" cy="751.4" r="9.2" fill="#ffc0ab"/><circle cx="751.6" cy="751.4" r="9.2" fill="#ffa488"/><circle cx="781.4" cy="751.4" r="9.2" fill="#ffd9cb"/><circle cx="811.2" cy="751.4" r="9.2" fill="#ffd9cb"/><circle cx="841.0" cy="751.4" r="9.2" fill="#ffd9cb"/><circle cx="870.8" cy="751.4" r="9.2" fill="#b892ff"/><circle cx="900.6" cy="751.4" r="9.2" fill="#b892ff"/><circle cx="930.4" cy="751.4" r="9.2" fill="#d0b2ff"/><circle cx="960.2" cy="751.4" r="9.2" fill="#e3d0ff"/>
<path d="M208.5 97.5V782.2H1011.8" fill="none" stroke="#000" stroke-width="4.5" stroke-linejoin="miter"/>
<path d="M229.8 784.4v9.1" stroke="#333" stroke-width="4.2" fill="none"/><text class="tk" x="229.8" y="827.3" text-anchor="middle">3000</text>
<path d="M446.5 784.4v9.1" stroke="#333" stroke-width="4.2" fill="none"/><text class="tk" x="446.5" y="827.3" text-anchor="middle">4000</text>
<path d="M663.1 784.4v9.1" stroke="#333" stroke-width="4.2" fill="none"/><text class="tk" x="663.1" y="827.3" text-anchor="middle">5000</text>
<path d="M879.8 784.4v9.1" stroke="#333" stroke-width="4.2" fill="none"/><text class="tk" x="879.8" y="827.3" text-anchor="middle">6000</text>
<path d="M206.3 222.0h-9.1" stroke="#333" stroke-width="4.2" fill="none"/><text class="tk" transform="translate(185.2,222.0) rotate(-90)" text-anchor="middle">-3000</text>
<path d="M206.3 438.8h-9.1" stroke="#333" stroke-width="4.2" fill="none"/><text class="tk" transform="translate(185.2,438.8) rotate(-90)" text-anchor="middle">-4000</text>
<path d="M206.3 655.5h-9.1" stroke="#333" stroke-width="4.2" fill="none"/><text class="tk" transform="translate(185.2,655.5) rotate(-90)" text-anchor="middle">-5000</text>
<text class="at" x="610.2" y="870.2" text-anchor="middle">coord x</text>
<text class="at" transform="translate(137.8,439.8) rotate(-90)" text-anchor="middle">coord y</text>
<rect x="1080.4" y="260" width="72" height="360" fill="url(#g4)"/>
<path d="M1080.4 295.5h14.4M1138 295.5h14.4" stroke="#fff" stroke-width="1.7" fill="none"/><text class="lg" x="1174.5" y="307.7">2</text>
<path d="M1080.4 395.9h14.4M1138 395.9h14.4" stroke="#fff" stroke-width="1.7" fill="none"/><text class="lg" x="1174.5" y="408.1">1</text>
<path d="M1080.4 496.3h14.4M1138 496.3h14.4" stroke="#fff" stroke-width="1.7" fill="none"/><text class="lg" x="1174.5" y="508.5">0</text>
<path d="M1080.4 596.6h14.4M1138 596.6h14.4" stroke="#fff" stroke-width="1.7" fill="none"/><text class="lg" x="1174.5" y="608.8">-1</text>
</g></g>
<g transform="translate(1350,1800)">
<rect x="100" y="0" width="1150" height="900" fill="#fff"/>
<g transform="translate(10,0)">
<text class="ti" x="610.2" y="63.1" text-anchor="middle">Shox2</text>
<circle cx="244.8" cy="128.8" r="9.2" fill="#d8beff"/><circle cx="274.6" cy="128.8" r="9.2" fill="#d8beff"/><circle cx="304.4" cy="128.8" r="9.2" fill="#e0caff"/><circle cx="334.2" cy="128.8" r="9.2" fill="#d8beff"/><circle cx="364.0" cy="128.8" r="9.2" fill="#e0caff"/><circle cx="393.9" cy="128.8" r="9.2" fill="#e0caff"/><circle cx="423.7" cy="128.8" r="9.2" fill="#d8beff"/><circle cx="453.5" cy="128.8" r="9.2" fill="#d8beff"/><circle cx="483.3" cy="128.8" r="9.2" fill="#ffa488"/><circle cx="513.1" cy="128.8" r="9.2" fill="#e0caff"/><circle cx="542.9" cy="128.8" r="9.2" fill="#d8beff"/><circle cx="572.7" cy="128.8" r="9.2" fill="#d8beff"/><circle cx="602.5" cy="128.8" r="9.2" fill="#d8beff"/><circle cx="632.3" cy="128.8" r="9.2" fill="#e0caff"/><circle cx="662.1" cy="128.8" r="9.2" fill="#ffc0ab"/><circle cx="692.0" cy="128.8" r="9.2" fill="#e0caff"/><circle cx="721.8" cy="128.8" r="9.2" fill="#e0caff"/><circle cx="751.6" cy="128.8" r="9.2" fill="#ffc0ab"/><circle cx="781.4" cy="128.8" r="9.2" fill="#d8beff"/><circle cx="811.2" cy="128.8" r="9.2" fill="#e0caff"/><circle cx="841.0" cy="128.8" r="9.2" fill="#d8beff"/><circle cx="870.8" cy="128.8" r="9.2" fill="#e0caff"/><circle cx="900.6" cy="128.8" r="9.2" fill="#e0caff"/><circle cx="930.4" cy="128.8" r="9.2" fill="#e0caff"/><circle cx="960.2" cy="128.8" r="9.2" fill="#e0caff"/>
<circle cx="259.7" cy="154.7" r="9.2" fill="#d8beff"/><circle cx="289.5" cy="154.7" r="9.2" fill="#d8beff"/><circle cx="319.3" cy="154.7" r="9.2" fill="#e0caff"/><circle cx="349.1" cy="154.7" r="9.2" fill="#ffa488"/><circle cx="378.9" cy="154.7" r="9.2" fill="#e0caff"/><circle cx="408.8" cy="154.7" r="9.2" fill="#d8beff"/><circle cx="438.6" cy="154.7" r="9.2" fill="#d8beff"/><circle cx="468.4" cy="154.7" r="9.2" fill="#e0caff"/><circle cx="498.2" cy="154.7" r="9.2" fill="#e0caff"/><circle cx="528.0" cy="154.7" r="9.2" fill="#e0caff"/><circle cx="557.8" cy="154.7" r="9.2" fill="#d8beff"/><circle cx="587.6" cy="154.7" r="9.2" fill="#d8beff"/><circle cx="617.4" cy="154.7" r="9.2" fill="#e0caff"/><circle cx="647.2" cy="154.7" r="9.2" fill="#e0caff"/><circle cx="677.0" cy="154.7" r="9.2" fill="#ede0ff"/><circle cx="706.8" cy="154.7" r="9.2" fill="#d8beff"/><circle cx="736.7" cy="154.7" r="9.2" fill="#d8beff"/><circle cx="766.5" cy="154.7" r="9.2" fill="#e0caff"/><circle cx="796.3" cy="154.7" r="9.2" fill="#e0caff"/><circle cx="826.1" cy="154.7" r="9.2" fill="#e0caff"/><circle cx="855.9" cy="154.7" r="9.2" fill="#e0caff"/><circle cx="885.7" cy="154.7" r="9.2" fill="#e0caff"/><circle cx="915.5" cy="154.7" r="9.2" fill="#e0caff"/><circle cx="945.3" cy="154.7" r="9.2" fill="#e0caff"/><circle cx="975.1" cy="154.7" r="9.2" fill="#e0caff"/>
<circle cx="244.8" cy="180.7" r="9.2" fill="#d8beff"/><circle cx="274.6" cy="180.7" r="9.2" fill="#e0caff"/><circle cx="304.4" cy="180.7" r="9.2" fill="#e0caff"/><circle cx="334.2" cy="180.7" r="9.2" fill="#e0caff"/><circle cx="364.0" cy="180.7" r="9.2" fill="#d8beff"/><circle cx="393.9" cy="180.7" r="9.2" fill="#d8beff"/><circle cx="423.7" cy="180.7" r="9.2" fill="#e0caff"/><circle cx="453.5" cy="180.7" r="9.2" fill="#d8beff"/><circle cx="483.3" cy="180.7" r="9.2" fill="#d8beff"/><circle cx="513.1" cy="180.7" r="9.2" fill="#d8beff"/><circle cx="542.9" cy="180.7" r="9.2" fill="#d8beff"/><circle cx="572.7" cy="180.7" r="9.2" fill="#d8beff"/><circle cx="602.5" cy="180.7" r="9.2" fill="#d8beff"/><circle cx="632.3" cy="180.7" r="9.2" fill="#d8beff"/><circle cx="662.1" cy="180.7" r="9.2" fill="#d8beff"/><circle cx="692.0" cy="180.7" r="9.2" fill="#d8beff"/><circle cx="721.8" cy="180.7" r="9.2" fill="#d8beff"/><circle cx="751.6" cy="180.7" r="9.2" fill="#d8beff"/><circle cx="781.4" cy="180.7" r="9.2" fill="#d8beff"/><circle cx="811.2" cy="180.7" r="9.2" fill="#d8beff"/><circle cx="841.0" cy="180.7" r="9.2" fill="#e0caff"/><circle cx="870.8" cy="180.7" r="9.2" fill="#e0caff"/><circle cx="900.6" cy="180.7" r="9.2" fill="#d8beff"/><circle cx="930.4" cy="180.7" r="9.2" fill="#e0caff"/><circle cx="960.2" cy="180.7" r="9.2" fill="#d8beff"/>
<circle cx="259.7" cy="206.6" r="9.2" fill="#e0caff"/><circle cx="289.5" cy="206.6" r="9.2" fill="#e0caff"/><circle cx="319.3" cy="206.6" r="9.2" fill="#e0caff"/><circle cx="349.1" cy="206.6" r="9.2" fill="#d8beff"/><circle cx="378.9" cy="206.6" r="9.2" fill="#e0caff"/><circle cx="408.8" cy="206.6" r="9.2" fill="#d8beff"/><circle cx="438.6" cy="206.6" r="9.2" fill="#e0caff"/><circle cx="468.4" cy="206.6" r="9.2" fill="#e0caff"/><circle cx="498.2" cy="206.6" r="9.2" fill="#e0caff"/><circle cx="528.0" cy="206.6" r="9.2" fill="#d8beff"/><circle cx="557.8" cy="206.6" r="9.2" fill="#e0caff"/><circle cx="587.6" cy="206.6" r="9.2" fill="#e0caff"/><circle cx="617.4" cy="206.6" r="9.2" fill="#d8beff"/><circle cx="647.2" cy="206.6" r="9.2" fill="#d8beff"/><circle cx="677.0" cy="206.6" r="9.2" fill="#d8beff"/><circle cx="706.8" cy="206.6" r="9.2" fill="#d8beff"/><circle cx="736.7" cy="206.6" r="9.2" fill="#e0caff"/><circle cx="766.5" cy="206.6" r="9.2" fill="#d8beff"/><circle cx="796.3" cy="206.6" r="9.2" fill="#d8beff"/><circle cx="826.1" cy="206.6" r="9.2" fill="#d8beff"/><circle cx="855.9" cy="206.6" r="9.2" fill="#e0caff"/><circle cx="885.7" cy="206.6" r="9.2" fill="#e0caff"/><circle cx="915.5" cy="206.6" r="9.2" fill="#d8beff"/><circle cx="945.3" cy="206.6" r="9.2" fill="#e0caff"/><circle cx="975.1" cy="206.6" r="9.2" fill="#e0caff"/>
<circle cx="244.8" cy="232.6" r="9.2" fill="#e0caff"/><circle cx="274.6" cy="232.6" r="9.2" fill="#e0caff"/><circle cx="304.4" cy="232.6" r="9.2" fill="#e0caff"/><circle cx="334.2" cy="232.6" r="9.2" fill="#d8beff"/><circle cx="364.0" cy="232.6" r="9.2" fill="#d8beff"/><circle cx="393.9" cy="232.6" r="9.2" fill="#e0caff"/><circle cx="423.7" cy="232.6" r="9.2" fill="#e0caff"/><circle cx="453.5" cy="232.6" r="9.2" fill="#e0caff"/><circle cx="483.3" cy="232.6" r="9.2" fill="#e0caff"/><circle cx="513.1" cy="232.6" r="9.2" fill="#e0caff"/><circle cx="542.9" cy="232.6" r="9.2" fill="#e0caff"/><circle cx="572.7" cy="232.6" r="9.2" fill="#e0caff"/><circle cx="602.5" cy="232.6" r="9.2" fill="#e0caff"/><circle cx="632.3" cy="232.6" r="9.2" fill="#e0caff"/><circle cx="662.1" cy="232.6" r="9.2" fill="#d8beff"/><circle cx="692.0" cy="232.6" r="9.2" fill="#d8beff"/><circle cx="721.8" cy="232.6" r="9.2" fill="#d8beff"/><circle cx="751.6" cy="232.6" r="9.2" fill="#e0caff"/><circle cx="781.4" cy="232.6" r="9.2" fill="#d8beff"/><circle cx="811.2" cy="232.6" r="9.2" fill="#e0caff"/><circle cx="841.0" cy="232.6" r="9.2" fill="#d8beff"/><circle cx="870.8" cy="232.6" r="9.2" fill="#d8beff"/><circle cx="900.6" cy="232.6" r="9.2" fill="#d8beff"/><circle cx="930.4" cy="232.6" r="9.2" fill="#e0caff"/><circle cx="960.2" cy="232.6" r="9.2" fill="#e0caff"/>
<circle cx="259.7" cy="258.5" r="9.2" fill="#e0caff"/><circle cx="289.5" cy="258.5" r="9.2" fill="#d8beff"/><circle cx="319.3" cy="258.5" r="9.2" fill="#e0caff"/><circle cx="349.1" cy="258.5" r="9.2" fill="#e0caff"/><circle cx="378.9" cy="258.5" r="9.2" fill="#d8beff"/><circle cx="408.8" cy="258.5" r="9.2" fill="#d8beff"/><circle cx="438.6" cy="258.5" r="9.2" fill="#d8beff"/><circle cx="468.4" cy="258.5" r="9.2" fill="#d8beff"/><circle cx="498.2" cy="258.5" r="9.2" fill="#d8beff"/><circle cx="528.0" cy="258.5" r="9.2" fill="#d8beff"/><circle cx="557.8" cy="258.5" r="9.2" fill="#e0caff"/><circle cx="587.6" cy="258.5" r="9.2" fill="#d8beff"/><circle cx="617.4" cy="258.5" r="9.2" fill="#e0caff"/><circle cx="647.2" cy="258.5" r="9.2" fill="#e0caff"/><circle cx="677.0" cy="258.5" r="9.2" fill="#d8beff"/><circle cx="706.8" cy="258.5" r="9.2" fill="#e0caff"/><circle cx="736.7" cy="258.5" r="9.2" fill="#d8beff"/><circle cx="766.5" cy="258.5" r="9.2" fill="#d8beff"/><circle cx="796.3" cy="258.5" r="9.2" fill="#d8beff"/><circle cx="826.1" cy="258.5" r="9.2" fill="#e0caff"/><circle cx="855.9" cy="258.5" r="9.2" fill="#e0caff"/><circle cx="885.7" cy="258.5" r="9.2" fill="#d8beff"/><circle cx="915.5" cy="258.5" r="9.2" fill="#d8beff"/><circle cx="945.3" cy="258.5" r="9.2" fill="#e0caff"/><circle cx="975.1" cy="258.5" r="9.2" fill="#e0caff"/>
<circle cx="244.8" cy="284.4" r="9.2" fill="#e0caff"/><circle cx="274.6" cy="284.4" r="9.2" fill="#e0caff"/><circle cx="304.4" cy="284.4" r="9.2" fill="#d8beff"/><circle cx="334.2" cy="284.4" r="9.2" fill="#e0caff"/><circle cx="364.0" cy="284.4" r="9.2" fill="#d8beff"/><circle cx="393.9" cy="284.4" r="9.2" fill="#e0caff"/><circle cx="423.7" cy="284.4" r="9.2" fill="#e0caff"/><circle cx="453.5" cy="284.4" r="9.2" fill="#e0caff"/><circle cx="483.3" cy="284.4" r="9.2" fill="#e0caff"/><circle cx="513.1" cy="284.4" r="9.2" fill="#d8beff"/><circle cx="542.9" cy="284.4" r="9.2" fill="#fff0ea"/><circle cx="572.7" cy="284.4" r="9.2" fill="#d8beff"/><circle cx="602.5" cy="284.4" r="9.2" fill="#d8beff"/><circle cx="632.3" cy="284.4" r="9.2" fill="#ffa488"/><circle cx="662.1" cy="284.4" r="9.2" fill="#e0caff"/><circle cx="692.0" cy="284.4" r="9.2" fill="#d8beff"/><circle cx="721.8" cy="284.4" r="9.2" fill="#e0caff"/><circle cx="751.6" cy="284.4" r="9.2" fill="#d8beff"/><circle cx="781.4" cy="284.4" r="9.2" fill="#e0caff"/><circle cx="811.2" cy="284.4" r="9.2" fill="#d8beff"/><circle cx="841.0" cy="284.4" r="9.2" fill="#d8beff"/><circle cx="870.8" cy="284.4" r="9.2" fill="#d8beff"/><circle cx="900.6" cy="284.4" r="9.2" fill="#d8beff"/><circle cx="930.4" cy="284.4" r="9.2" fill="#d8beff"/><circle cx="960.2" cy="284.4" r="9.2" fill="#d8beff"/>
<circle cx="259.7" cy="310.4" r="9.2" fill="#e0caff"/><circle cx="289.5" cy="310.4" r="9.2" fill="#d8beff"/><circle cx="319.3" cy="310.4" r="9.2" fill="#e0caff"/><circle cx="349.1" cy="310.4" r="9.2" fill="#e0caff"/><circle cx="378.9" cy="310.4" r="9.2" fill="#e0caff"/><circle cx="408.8" cy="310.4" r="9.2" fill="#e0caff"/><circle cx="438.6" cy="310.4" r="9.2" fill="#e0caff"/><circle cx="468.4" cy="310.4" r="9.2" fill="#e0caff"/><circle cx="498.2" cy="310.4" r="9.2" fill="#e0caff"/><circle cx="528.0" cy="310.4" r="9.2" fill="#e0caff"/><circle cx="557.8" cy="310.4" r="9.2" fill="#e0caff"/><circle cx="587.6" cy="310.4" r="9.2" fill="#d8beff"/><circle cx="617.4" cy="310.4" r="9.2" fill="#d8beff"/><circle cx="647.2" cy="310.4" r="9.2" fill="#d8beff"/><circle cx="677.0" cy="310.4" r="9.2" fill="#e0caff"/><circle cx="706.8" cy="310.4" r="9.2" fill="#e0caff"/><circle cx="736.7" cy="310.4" r="9.2" fill="#ff8969"/><circle cx="766.5" cy="310.4" r="9.2" fill="#d8beff"/><circle cx="796.3" cy="310.4" r="9.2" fill="#e0caff"/><circle cx="826.1" cy="310.4" r="9.2" fill="#d8beff"/><circle cx="855.9" cy="310.4" r="9.2" fill="#d8beff"/><circle cx="885.7" cy="310.4" r="9.2" fill="#d8beff"/><circle cx="915.5" cy="310.4" r="9.2" fill="#d8beff"/><circle cx="945.3" cy="310.4" r="9.2" fill="#e0caff"/><circle cx="975.1" cy="310.4" r="9.2" fill="#d8beff"/>
<circle cx="244.8" cy="336.3" r="9.2" fill="#e0caff"/><circle cx="274.6" cy="336.3" r="9.2" fill="#d8beff"/><circle cx="304.4" cy="336.3" r="9.2" fill="#e0caff"/><circle cx="334.2" cy="336.3" r="9.2" fill="#e0caff"/><circle cx="364.0" cy="336.3" r="9.2" fill="#e0caff"/><circle cx="393.9" cy="336.3" r="9.2" fill="#e0caff"/><circle cx="423.7" cy="336.3" r="9.2" fill="#e0caff"/><circle cx="453.5" cy="336.3" r="9.2" fill="#e0caff"/><circle cx="483.3" cy="336.3" r="9.2" fill="#e0caff"/><circle cx="513.1" cy="336.3" r="9.2" fill="#e0caff"/><circle cx="542.9" cy="336.3" r="9.2" fill="#e0caff"/><circle cx="572.7" cy="336.3" r="9.2" fill="#e0caff"/><circle cx="602.5" cy="336.3" r="9.2" fill="#d8beff"/><circle cx="632.3" cy="336.3" r="9.2" fill="#d8beff"/><circle cx="662.1" cy="336.3" r="9.2" fill="#d8beff"/><circle cx="692.0" cy="336.3" r="9.2" fill="#d8beff"/><circle cx="721.8" cy="336.3" r="9.2" fill="#e0caff"/><circle cx="751.6" cy="336.3" r="9.2" fill="#e0caff"/><circle cx="781.4" cy="336.3" r="9.2" fill="#e0caff"/><circle cx="811.2" cy="336.3" r="9.2" fill="#e0caff"/><circle cx="841.0" cy="336.3" r="9.2" fill="#e0caff"/><circle cx="870.8" cy="336.3" r="9.2" fill="#d8beff"/><circle cx="900.6" cy="336.3" r="9.2" fill="#e0caff"/><circle cx="930.4" cy="336.3" r="9.2" fill="#d8beff"/><circle cx="960.2" cy="336.3" r="9.2" fill="#d8beff"/>
<circle cx="259.7" cy="362.3" r="9.2" fill="#d8beff"/><circle cx="289.5" cy="362.3" r="9.2" fill="#d8beff"/><circle cx="319.3" cy="362.3" r="9.2" fill="#e0caff"/><circle cx="349.1" cy="362.3" r="9.2" fill="#ede0ff"/><circle cx="378.9" cy="362.3" r="9.2" fill="#e0caff"/><circle cx="408.8" cy="362.3" r="9.2" fill="#e0caff"/><circle cx="438.6" cy="362.3" r="9.2" fill="#e0caff"/><circle cx="468.4" cy="362.3" r="9.2" fill="#e0caff"/><circle cx="498.2" cy="362.3" r="9.2" fill="#e0caff"/><circle cx="528.0" cy="362.3" r="9.2" fill="#d8beff"/><circle cx="557.8" cy="362.3" r="9.2" fill="#e0caff"/><circle cx="587.6" cy="362.3" r="9.2" fill="#e0caff"/><circle cx="617.4" cy="362.3" r="9.2" fill="#e0caff"/><circle cx="647.2" cy="362.3" r="9.2" fill="#ff8969"/><circle cx="677.0" cy="362.3" r="9.2" fill="#e0caff"/><circle cx="706.8" cy="362.3" r="9.2" fill="#d8beff"/><circle cx="736.7" cy="362.3" r="9.2" fill="#d8beff"/><circle cx="766.5" cy="362.3" r="9.2" fill="#e0caff"/><circle cx="796.3" cy="362.3" r="9.2" fill="#e0caff"/><circle cx="826.1" cy="362.3" r="9.2" fill="#d8beff"/><circle cx="855.9" cy="362.3" r="9.2" fill="#d8beff"/><circle cx="885.7" cy="362.3" r="9.2" fill="#d8beff"/><circle cx="915.5" cy="362.3" r="9.2" fill="#d8beff"/><circle cx="945.3" cy="362.3" r="9.2" fill="#d8beff"/><circle cx="975.1" cy="362.3" r="9.2" fill="#d8beff"/>
<circle cx="244.8" cy="388.2" r="9.2" fill="#d8beff"/><circle cx="274.6" cy="388.2" r="9.2" fill="#d8beff"/><circle cx="304.4" cy="388.2" r="9.2" fill="#d8beff"/><circle cx="334.2" cy="388.2" r="9.2" fill="#e0caff"/><circle cx="364.0" cy="388.2" r="9.2" fill="#e0caff"/><circle cx="393.9" cy="388.2" r="9.2" fill="#e0caff"/><circle cx="423.7" cy="388.2" r="9.2" fill="#e0caff"/><circle cx="453.5" cy="388.2" r="9.2" fill="#e0caff"/><circle cx="483.3" cy="388.2" r="9.2" fill="#e0caff"/><circle cx="513.1" cy="388.2" r="9.2" fill="#e0caff"/><circle cx="542.9" cy="388.2" r="9.2" fill="#d8beff"/><circle cx="572.7" cy="388.2" r="9.2" fill="#d8beff"/><circle cx="602.5" cy="388.2" r="9.2" fill="#e0caff"/><circle cx="632.3" cy="388.2" r="9.2" fill="#e0caff"/><circle cx="662.1" cy="388.2" r="9.2" fill="#d8beff"/><circle cx="692.0" cy="388.2" r="9.2" fill="#e0caff"/><circle cx="721.8" cy="388.2" r="9.2" fill="#d8beff"/><circle cx="751.6" cy="388.2" r="9.2" fill="#d8beff"/><circle cx="781.4" cy="388.2" r="9.2" fill="#d8beff"/><circle cx="811.2" cy="388.2" r="9.2" fill="#d8beff"/><circle cx="841.0" cy="388.2" r="9.2" fill="#e0caff"/><circle cx="870.8" cy="388.2" r="9.2" fill="#d8beff"/><circle cx="900.6" cy="388.2" r="9.2" fill="#d8beff"/><circle cx="930.4" cy="388.2" r="9.2" fill="#d8beff"/><circle cx="960.2" cy="388.2" r="9.2" fill="#d8beff"/>
<circle cx="259.7" cy="414.1" r="9.2" fill="#d8beff"/><circle cx="289.5" cy="414.1" r="9.2" fill="#d8beff"/><circle cx="319.3" cy="414.1" r="9.2" fill="#e0caff"/><circle cx="349.1" cy="414.1" r="9.2" fill="#ede0ff"/><circle cx="378.9" cy="414.1" r="9.2" fill="#e0caff"/><circle cx="408.8" cy="414.1" r="9.2" fill="#e0caff"/><circle cx="438.6" cy="414.1" r="9.2" fill="#e0caff"/><circle cx="498.2" cy="414.1" r="9.2" fill="#ede0ff"/><circle cx="528.0" cy="414.1" r="9.2" fill="#e0caff"/><circle cx="557.8" cy="414.1" r="9.2" fill="#d8beff"/><circle cx="587.6" cy="414.1" r="9.2" fill="#d8beff"/><circle cx="617.4" cy="414.1" r="9.2" fill="#d8beff"/><circle cx="647.2" cy="414.1" r="9.2" fill="#e0caff"/><circle cx="677.0" cy="414.1" r="9.2" fill="#e0caff"/><circle cx="706.8" cy="414.1" r="9.2" fill="#e0caff"/><circle cx="736.7" cy="414.1" r="9.2" fill="#d8beff"/><circle cx="766.5" cy="414.1" r="9.2" fill="#d8beff"/><circle cx="796.3" cy="414.1" r="9.2" fill="#d8beff"/><circle cx="826.1" cy="414.1" r="9.2" fill="#d8beff"/><circle cx="855.9" cy="414.1" r="9.2" fill="#e0caff"/><circle cx="885.7" cy="414.1" r="9.2" fill="#fff0ea"/><circle cx="915.5" cy="414.1" r="9.2" fill="#d8beff"/><circle cx="945.3" cy="414.1" r="9.2" fill="#d8beff"/><circle cx="975.1" cy="414.1" r="9.2" fill="#d8beff"/>
<circle cx="244.8" cy="440.1" r="9.2" fill="#d8beff"/><circle cx="274.6" cy="440.1" r="9.2" fill="#e0caff"/><circle cx="304.4" cy="440.1" r="9.2" fill="#e0caff"/><circle cx="334.2" cy="440.1" r="9.2" fill="#e0caff"/><circle cx="364.0" cy="440.1" r="9.2" fill="#ede0ff"/><circle cx="393.9" cy="440.1" r="9.2" fill="#e0caff"/><circle cx="423.7" cy="440.1" r="9.2" fill="#e0caff"/><circle cx="453.5" cy="440.1" r="9.2" fill="#e0caff"/><circle cx="483.3" cy="440.1" r="9.2" fill="#d8beff"/><circle cx="513.1" cy="440.1" r="9.2" fill="#d8beff"/><circle cx="542.9" cy="440.1" r="9.2" fill="#e0caff"/><circle cx="572.7" cy="440.1" r="9.2" fill="#e0caff"/><circle cx="602.5" cy="440.1" r="9.2" fill="#e0caff"/><circle cx="632.3" cy="440.1" r="9.2" fill="#e0caff"/><circle cx="662.1" cy="440.1" r="9.2" fill="#e0caff"/><circle cx="692.0" cy="440.1" r="9.2" fill="#d8beff"/><circle cx="721.8" cy="440.1" r="9.2" fill="#ff8969"/><circle cx="751.6" cy="440.1" r="9.2" fill="#e0caff"/><circle cx="781.4" cy="440.1" r="9.2" fill="#d8beff"/><circle cx="811.2" cy="440.1" r="9.2" fill="#d8beff"/><circle cx="841.0" cy="440.1" r="9.2" fill="#e0caff"/><circle cx="870.8" cy="440.1" r="9.2" fill="#e0caff"/><circle cx="900.6" cy="440.1" r="9.2" fill="#d8beff"/><circle cx="930.4" cy="440.1" r="9.2" fill="#d8beff"/><circle cx="960.2" cy="440.1" r="9.2" fill="#d8beff"/>
<circle cx="259.7" cy="466.0" r="9.2" fill="#e0caff"/><circle cx="289.5" cy="466.0" r="9.2" fill="#e0caff"/><circle cx="319.3" cy="466.0" r="9.2" fill="#e0caff"/><circle cx="349.1" cy="466.0" r="9.2" fill="#e0caff"/><circle cx="378.9" cy="466.0" r="9.2" fill="#d8beff"/><circle cx="408.8" cy="466.0" r="9.2" fill="#d8beff"/><circle cx="438.6" cy="466.0" r="9.2" fill="#d0b2ff"/><circle cx="468.4" cy="466.0" r="9.2" fill="#d0b2ff"/><circle cx="498.2" cy="466.0" r="9.2" fill="#d0b2ff"/><circle cx="528.0" cy="466.0" r="9.2" fill="#ede0ff"/><circle cx="557.8" cy="466.0" r="9.2" fill="#d8beff"/><circle cx="587.6" cy="466.0" r="9.2" fill="#e0caff"/><circle cx="617.4" cy="466.0" r="9.2" fill="#e0caff"/><circle cx="647.2" cy="466.0" r="9.2" fill="#e0caff"/><circle cx="677.0" cy="466.0" r="9.2" fill="#d8beff"/><circle cx="706.8" cy="466.0" r="9.2" fill="#d8beff"/><circle cx="736.7" cy="466.0" r="9.2" fill="#e0caff"/><circle cx="766.5" cy="466.0" r="9.2" fill="#e0caff"/><circle cx="796.3" cy="466.0" r="9.2" fill="#e0caff"/><circle cx="826.1" cy="466.0" r="9.2" fill="#d8beff"/><circle cx="855.9" cy="466.0" r="9.2" fill="#e0caff"/><circle cx="885.7" cy="466.0" r="9.2" fill="#e0caff"/><circle cx="915.5" cy="466.0" r="9.2" fill="#d8beff"/><circle cx="945.3" cy="466.0" r="9.2" fill="#e0caff"/><circle cx="975.1" cy="466.0" r="9.2" fill="#d8beff"/>
<circle cx="244.8" cy="492.0" r="9.2" fill="#e0caff"/><circle cx="274.6" cy="492.0" r="9.2" fill="#d8beff"/><circle cx="304.4" cy="492.0" r="9.2" fill="#d8beff"/><circle cx="334.2" cy="492.0" r="9.2" fill="#d8beff"/><circle cx="364.0" cy="492.0" r="9.2" fill="#d8beff"/><circle cx="393.9" cy="492.0" r="9.2" fill="#d0b2ff"/><circle cx="423.7" cy="492.0" r="9.2" fill="#d8beff"/><circle cx="453.5" cy="492.0" r="9.2" fill="#d0b2ff"/><circle cx="483.3" cy="492.0" r="9.2" fill="#d0b2ff"/><circle cx="513.1" cy="492.0" r="9.2" fill="#d0b2ff"/><circle cx="542.9" cy="492.0" r="9.2" fill="#d8beff"/><circle cx="572.7" cy="492.0" r="9.2" fill="#d8beff"/><circle cx="602.5" cy="492.0" r="9.2" fill="#d8beff"/><circle cx="632.3" cy="492.0" r="9.2" fill="#d8beff"/><circle cx="662.1" cy="492.0" r="9.2" fill="#e0caff"/><circle cx="692.0" cy="492.0" r="9.2" fill="#e0caff"/><circle cx="721.8" cy="492.0" r="9.2" fill="#e0caff"/><circle cx="751.6" cy="492.0" r="9.2" fill="#ede0ff"/><circle cx="781.4" cy="492.0" r="9.2" fill="#e0caff"/><circle cx="811.2" cy="492.0" r="9.2" fill="#e0caff"/><circle cx="841.0" cy="492.0" r="9.2" fill="#ffc0ab"/><circle cx="870.8" cy="492.0" r="9.2" fill="#d8beff"/><circle cx="900.6" cy="492.0" r="9.2" fill="#d8beff"/><circle cx="930.4" cy="492.0" r="9.2" fill="#d8beff"/><circle cx="960.2" cy="492.0" r="9.2" fill="#e0caff"/>
<circle cx="259.7" cy="517.9" r="9.2" fill="#d8beff"/><circle cx="289.5" cy="517.9" r="9.2" fill="#e0caff"/><circle cx="319.3" cy="517.9" r="9.2" fill="#e0caff"/><circle cx="349.1" cy="517.9" r="9.2" fill="#d8beff"/><circle cx="378.9" cy="517.9" r="9.2" fill="#e0caff"/><circle cx="408.8" cy="517.9" r="9.2" fill="#e0caff"/><circle cx="438.6" cy="517.9" r="9.2" fill="#e0caff"/><circle cx="468.4" cy="517.9" r="9.2" fill="#d8beff"/><circle cx="498.2" cy="517.9" r="9.2" fill="#d8beff"/><circle cx="528.0" cy="517.9" r="9.2" fill="#d0b2ff"/><circle cx="557.8" cy="517.9" r="9.2" fill="#d0b2ff"/><circle cx="587.6" cy="517.9" r="9.2" fill="#ffd9cb"/><circle cx="617.4" cy="517.9" r="9.2" fill="#d8beff"/><circle cx="647.2" cy="517.9" r="9.2" fill="#e0caff"/><circle cx="677.0" cy="517.9" r="9.2" fill="#e0caff"/><circle cx="706.8" cy="517.9" r="9.2" fill="#e0caff"/><circle cx="736.7" cy="517.9" r="9.2" fill="#ff603f"/><circle cx="766.5" cy="517.9" r="9.2" fill="#e0caff"/><circle cx="796.3" cy="517.9" r="9.2" fill="#e0caff"/><circle cx="826.1" cy="517.9" r="9.2" fill="#e0caff"/><circle cx="855.9" cy="517.9" r="9.2" fill="#ffd9cb"/><circle cx="885.7" cy="517.9" r="9.2" fill="#d8beff"/><circle cx="915.5" cy="517.9" r="9.2" fill="#e0caff"/><circle cx="945.3" cy="517.9" r="9.2" fill="#ffffff"/><circle cx="975.1" cy="517.9" r="9.2" fill="#e0caff"/>
<circle cx="244.8" cy="543.8" r="9.2" fill="#d8beff"/><circle cx="274.6" cy="543.8" r="9.2" fill="#d8beff"/><circle cx="304.4" cy="543.8" r="9.2" fill="#e0caff"/><circle cx="334.2" cy="543.8" r="9.2" fill="#e0caff"/><circle cx="364.0" cy="543.8" r="9.2" fill="#e0caff"/><circle cx="393.9" cy="543.8" r="9.2" fill="#e0caff"/><circle cx="423.7" cy="543.8" r="9.2" fill="#e0caff"/><circle cx="453.5" cy="543.8" r="9.2" fill="#ffa488"/><circle cx="483.3" cy="543.8" r="9.2" fill="#e0caff"/><circle cx="513.1" cy="543.8" r="9.2" fill="#e0caff"/><circle cx="542.9" cy="543.8" r="9.2" fill="#d8beff"/><circle cx="572.7" cy="543.8" r="9.2" fill="#ffc0ab"/><circle cx="602.5" cy="543.8" r="9.2" fill="#d8beff"/><circle cx="632.3" cy="543.8" r="9.2" fill="#d8beff"/><circle cx="662.1" cy="543.8" r="9.2" fill="#d8beff"/><circle cx="692.0" cy="543.8" r="9.2" fill="#e0caff"/><circle cx="721.8" cy="543.8" r="9.2" fill="#e0caff"/><circle cx="751.6" cy="543.8" r="9.2" fill="#e0caff"/><circle cx="781.4" cy="543.8" r="9.2" fill="#e0caff"/><circle cx="811.2" cy="543.8" r="9.2" fill="#e0caff"/><circle cx="841.0" cy="543.8" r="9.2" fill="#e0caff"/><circle cx="870.8" cy="543.8" r="9.2" fill="#d8beff"/><circle cx="900.6" cy="543.8" r="9.2" fill="#e0caff"/><circle cx="930.4" cy="543.8" r="9.2" fill="#e0caff"/><circle cx="960.2" cy="543.8" r="9.2" fill="#d8beff"/>
<circle cx="259.7" cy="569.8" r="9.2" fill="#ede0ff"/><circle cx="289.5" cy="569.8" r="9.2" fill="#fff0ea"/><circle cx="319.3" cy="569.8" r="9.2" fill="#e0caff"/><circle cx="349.1" cy="569.8" r="9.2" fill="#e0caff"/><circle cx="378.9" cy="569.8" r="9.2" fill="#ff8969"/><circle cx="408.8" cy="569.8" r="9.2" fill="#d0b2ff"/><circle cx="438.6" cy="569.8" r="9.2" fill="#e0caff"/><circle cx="468.4" cy="569.8" r="9.2" fill="#ffc0ab"/><circle cx="498.2" cy="569.8" r="9.2" fill="#ffc0ab"/><circle cx="528.0" cy="569.8" r="9.2" fill="#ffd9cb"/><circle cx="557.8" cy="569.8" r="9.2" fill="#ff603f"/><circle cx="587.6" cy="569.8" r="9.2" fill="#d8beff"/><circle cx="617.4" cy="569.8" r="9.2" fill="#d8beff"/><circle cx="647.2" cy="569.8" r="9.2" fill="#d8beff"/><circle cx="677.0" cy="569.8" r="9.2" fill="#d8beff"/><circle cx="706.8" cy="569.8" r="9.2" fill="#d8beff"/><circle cx="736.7" cy="569.8" r="9.2" fill="#e0caff"/><circle cx="766.5" cy="569.8" r="9.2" fill="#e0caff"/><circle cx="796.3" cy="569.8" r="9.2" fill="#e0caff"/><circle cx="826.1" cy="569.8" r="9.2" fill="#e0caff"/><circle cx="855.9" cy="569.8" r="9.2" fill="#d8beff"/><circle cx="885.7" cy="569.8" r="9.2" fill="#d8beff"/><circle cx="915.5" cy="569.8" r="9.2" fill="#d8beff"/><circle cx="945.3" cy="569.8" r="9.2" fill="#e0caff"/><circle cx="975.1" cy="569.8" r="9.2" fill="#d8beff"/>
<circle cx="244.8" cy="595.7" r="9.2" fill="#ffc0ab"/><circle cx="274.6" cy="595.7" r="9.2" fill="#ff603f"/><circle cx="304.4" cy="595.7" r="9.2" fill="#d8beff"/><circle cx="334.2" cy="595.7" r="9.2" fill="#ffa488"/><circle cx="364.0" cy="595.7" r="9.2" fill="#ff8969"/><circle cx="393.9" cy="595.7" r="9.2" fill="#ff8969"/><circle cx="423.7" cy="595.7" r="9.2" fill="#ffa488"/><circle cx="453.5" cy="595.7" r="9.2" fill="#ffa488"/><circle cx="483.3" cy="595.7" r="9.2" fill="#d8beff"/><circle cx="513.1" cy="595.7" r="9.2" fill="#ff603f"/><circle cx="542.9" cy="595.7" r="9.2" fill="#ff361c"/><circle cx="572.7" cy="595.7" r="9.2" fill="#ff8969"/><circle cx="602.5" cy="595.7" r="9.2" fill="#ffc0ab"/><circle cx="632.3" cy="595.7" r="9.2" fill="#ff8969"/><circle cx="662.1" cy="595.7" r="9.2" fill="#d8beff"/><circle cx="692.0" cy="595.7" r="9.2" fill="#d8beff"/><circle cx="721.8" cy="595.7" r="9.2" fill="#d8beff"/><circle cx="751.6" cy="595.7" r="9.2" fill="#e0caff"/><circle cx="781.4" cy="595.7" r="9.2" fill="#e0caff"/><circle cx="811.2" cy="595.7" r="9.2" fill="#e0caff"/><circle cx="841.0" cy="595.7" r="9.2" fill="#e0caff"/><circle cx="870.8" cy="595.7" r="9.2" fill="#d8beff"/><circle cx="900.6" cy="595.7" r="9.2" fill="#d8beff"/><circle cx="930.4" cy="595.7" r="9.2" fill="#e0caff"/><circle cx="960.2" cy="595.7" r="9.2" fill="#e0caff"/>
<circle cx="259.7" cy="621.7" r="9.2" fill="#e0caff"/><circle cx="289.5" cy="621.7" r="9.2" fill="#ff8969"/><circle cx="319.3" cy="621.7" r="9.2" fill="#e0caff"/><circle cx="349.1" cy="621.7" r="9.2" fill="#ff8969"/><circle cx="378.9" cy="621.7" r="9.2" fill="#ff603f"/><circle cx="408.8" cy="621.7" r="9.2" fill="#e0caff"/><circle cx="438.6" cy="621.7" r="9.2" fill="#ffc0ab"/><circle cx="468.4" cy="621.7" r="9.2" fill="#d8beff"/><circle cx="498.2" cy="621.7" r="9.2" fill="#ffc0ab"/><circle cx="528.0" cy="621.7" r="9.2" fill="#ffa488"/><circle cx="557.8" cy="621.7" r="9.2" fill="#ff603f"/><circle cx="587.6" cy="621.7" r="9.2" fill="#ff8969"/><circle cx="617.4" cy="621.7" r="9.2" fill="#ff603f"/><circle cx="647.2" cy="621.7" r="9.2" fill="#ff8969"/><circle cx="677.0" cy="621.7" r="9.2" fill="#ffc0ab"/><circle cx="706.8" cy="621.7" r="9.2" fill="#e0caff"/><circle cx="736.7" cy="621.7" r="9.2" fill="#d8beff"/><circle cx="766.5" cy="621.7" r="9.2" fill="#d8beff"/><circle cx="796.3" cy="621.7" r="9.2" fill="#e0caff"/><circle cx="826.1" cy="621.7" r="9.2" fill="#d8beff"/><circle cx="855.9" cy="621.7" r="9.2" fill="#e0caff"/><circle cx="885.7" cy="621.7" r="9.2" fill="#d8beff"/><circle cx="915.5" cy="621.7" r="9.2" fill="#e0caff"/><circle cx="945.3" cy="621.7" r="9.2" fill="#e0caff"/><circle cx="975.1" cy="621.7" r="9.2" fill="#e0caff"/>
<circle cx="244.8" cy="647.6" r="9.2" fill="#d8beff"/><circle cx="274.6" cy="647.6" r="9.2" fill="#e0caff"/><circle cx="304.4" cy="647.6" r="9.2" fill="#ff603f"/><circle cx="334.2" cy="647.6" r="9.2" fill="#e0caff"/><circle cx="364.0" cy="647.6" r="9.2" fill="#ffa488"/><circle cx="393.9" cy="647.6" r="9.2" fill="#ff603f"/><circle cx="423.7" cy="647.6" r="9.2" fill="#ffa488"/><circle cx="453.5" cy="647.6" r="9.2" fill="#ff603f"/><circle cx="483.3" cy="647.6" r="9.2" fill="#ff0000"/><circle cx="513.1" cy="647.6" r="9.2" fill="#ff8969"/><circle cx="542.9" cy="647.6" r="9.2" fill="#ff8969"/><circle cx="572.7" cy="647.6" r="9.2" fill="#ff8969"/><circle cx="602.5" cy="647.6" r="9.2" fill="#ff603f"/><circle cx="632.3" cy="647.6" r="9.2" fill="#ff603f"/><circle cx="662.1" cy="647.6" r="9.2" fill="#ff8969"/><circle cx="692.0" cy="647.6" r="9.2" fill="#ff603f"/><circle cx="721.8" cy="647.6" r="9.2" fill="#ffc0ab"/><circle cx="751.6" cy="647.6" r="9.2" fill="#e0caff"/><circle cx="781.4" cy="647.6" r="9.2" fill="#fff0ea"/><circle cx="811.2" cy="647.6" r="9.2" fill="#d8beff"/><circle cx="841.0" cy="647.6" r="9.2" fill="#d8beff"/><circle cx="870.8" cy="647.6" r="9.2" fill="#d8beff"/><circle cx="900.6" cy="647.6" r="9.2" fill="#e0caff"/><circle cx="930.4" cy="647.6" r="9.2" fill="#e0caff"/><circle cx="960.2" cy="647.6" r="9.2" fill="#d8beff"/>
<circle cx="259.7" cy="673.5" r="9.2" fill="#ff8969"/><circle cx="289.5" cy="673.5" r="9.2" fill="#ff8969"/><circle cx="319.3" cy="673.5" r="9.2" fill="#ffa488"/><circle cx="349.1" cy="673.5" r="9.2" fill="#ffa488"/><circle cx="378.9" cy="673.5" r="9.2" fill="#ff8969"/><circle cx="408.8" cy="673.5" r="9.2" fill="#ffa488"/><circle cx="438.6" cy="673.5" r="9.2" fill="#ff8969"/><circle cx="468.4" cy="673.5" r="9.2" fill="#ff603f"/><circle cx="498.2" cy="673.5" r="9.2" fill="#ff8969"/><circle cx="528.0" cy="673.5" r="9.2" fill="#ff8969"/><circle cx="557.8" cy="673.5" r="9.2" fill="#ffa488"/><circle cx="587.6" cy="673.5" r="9.2" fill="#ffa488"/><circle cx="617.4" cy="673.5" r="9.2" fill="#ff8969"/><circle cx="647.2" cy="673.5" r="9.2" fill="#ffd9cb"/><circle cx="677.0" cy="673.5" r="9.2" fill="#ff361c"/><circle cx="706.8" cy="673.5" r="9.2" fill="#ff8969"/><circle cx="736.7" cy="673.5" r="9.2" fill="#d8beff"/><circle cx="766.5" cy="673.5" r="9.2" fill="#e0caff"/><circle cx="796.3" cy="673.5" r="9.2" fill="#ff8969"/><circle cx="826.1" cy="673.5" r="9.2" fill="#d8beff"/><circle cx="855.9" cy="673.5" r="9.2" fill="#ff603f"/><circle cx="885.7" cy="673.5" r="9.2" fill="#e0caff"/><circle cx="915.5" cy="673.5" r="9.2" fill="#d8beff"/><circle cx="945.3" cy="673.5" r="9.2" fill="#ede0ff"/><circle cx="975.1" cy="673.5" r="9.2" fill="#e0caff"/>
<circle cx="244.8" cy="699.5" r="9.2" fill="#e0caff"/><circle cx="274.6" cy="699.5" r="9.2" fill="#d8beff"/><circle cx="304.4" cy="699.5" r="9.2" fill="#ffa488"/><circle cx="334.2" cy="699.5" r="9.2" fill="#e0caff"/><circle cx="364.0" cy="699.5" r="9.2" fill="#ffa488"/><circle cx="393.9" cy="699.5" r="9.2" fill="#ff8969"/><circle cx="423.7" cy="699.5" r="9.2" fill="#e0caff"/><circle cx="453.5" cy="699.5" r="9.2" fill="#ff603f"/><circle cx="483.3" cy="699.5" r="9.2" fill="#ff603f"/><circle cx="513.1" cy="699.5" r="9.2" fill="#ff603f"/><circle cx="542.9" cy="699.5" r="9.2" fill="#e0caff"/><circle cx="572.7" cy="699.5" r="9.2" fill="#ff603f"/><circle cx="602.5" cy="699.5" r="9.2" fill="#ffa488"/><circle cx="632.3" cy="699.5" r="9.2" fill="#ffc0ab"/><circle cx="662.1" cy="699.5" r="9.2" fill="#ffa488"/><circle cx="692.0" cy="699.5" r="9.2" fill="#ff8969"/><circle cx="721.8" cy="699.5" r="9.2" fill="#ff603f"/><circle cx="751.6" cy="699.5" r="9.2" fill="#ffc0ab"/><circle cx="781.4" cy="699.5" r="9.2" fill="#e0caff"/><circle cx="811.2" cy="699.5" r="9.2" fill="#e0caff"/><circle cx="841.0" cy="699.5" r="9.2" fill="#e0caff"/><circle cx="870.8" cy="699.5" r="9.2" fill="#ffa488"/><circle cx="900.6" cy="699.5" r="9.2" fill="#e0caff"/><circle cx="930.4" cy="699.5" r="9.2" fill="#d8beff"/><circle cx="960.2" cy="699.5" r="9.2" fill="#e0caff"/>
<circle cx="259.7" cy="725.4" r="9.2" fill="#ff8969"/><circle cx="289.5" cy="725.4" r="9.2" fill="#e0caff"/><circle cx="319.3" cy="725.4" r="9.2" fill="#e0caff"/><circle cx="349.1" cy="725.4" r="9.2" fill="#e0caff"/><circle cx="378.9" cy="725.4" r="9.2" fill="#e0caff"/><circle cx="408.8" cy="725.4" r="9.2" fill="#ffd9cb"/><circle cx="438.6" cy="725.4" r="9.2" fill="#ff603f"/><circle cx="468.4" cy="725.4" r="9.2" fill="#ffa488"/><circle cx="498.2" cy="725.4" r="9.2" fill="#ff8969"/><circle cx="528.0" cy="725.4" r="9.2" fill="#ff603f"/><circle cx="557.8" cy="725.4" r="9.2" fill="#ff8969"/><circle cx="587.6" cy="725.4" r="9.2" fill="#ffc0ab"/><circle cx="617.4" cy="725.4" r="9.2" fill="#ff8969"/><circle cx="647.2" cy="725.4" r="9.2" fill="#ff603f"/><circle cx="677.0" cy="725.4" r="9.2" fill="#ff603f"/><circle cx="706.8" cy="725.4" r="9.2" fill="#e0caff"/><circle cx="736.7" cy="725.4" r="9.2" fill="#ffa488"/><circle cx="766.5" cy="725.4" r="9.2" fill="#ffd9cb"/><circle cx="796.3" cy="725.4" r="9.2" fill="#d8beff"/><circle cx="826.1" cy="725.4" r="9.2" fill="#e0caff"/><circle cx="855.9" cy="725.4" r="9.2" fill="#e0caff"/><circle cx="885.7" cy="725.4" r="9.2" fill="#e0caff"/><circle cx="915.5" cy="725.4" r="9.2" fill="#e0caff"/><circle cx="945.3" cy="725.4" r="9.2" fill="#e0caff"/><circle cx="975.1" cy="725.4" r="9.2" fill="#e0caff"/>
<circle cx="244.8" cy="751.4" r="9.2" fill="#ffa488"/><circle cx="274.6" cy="751.4" r="9.2" fill="#ff8969"/><circle cx="304.4" cy="751.4" r="9.2" fill="#ffa488"/><circle cx="334.2" cy="751.4" r="9.2" fill="#ffa488"/><circle cx="364.0" cy="751.4" r="9.2" fill="#ff8969"/><circle cx="393.9" cy="751.4" r="9.2" fill="#ffc0ab"/><circle cx="423.7" cy="751.4" r="9.2" fill="#ff8969"/><circle cx="453.5" cy="751.4" r="9.2" fill="#ff361c"/><circle cx="483.3" cy="751.4" r="9.2" fill="#ffc0ab"/><circle cx="513.1" cy="751.4" r="9.2" fill="#ffa488"/><circle cx="542.9" cy="751.4" r="9.2" fill="#ff603f"/><circle cx="572.7" cy="751.4" r="9.2" fill="#ff603f"/><circle cx="602.5" cy="751.4" r="9.2" fill="#e0caff"/><circle cx="632.3" cy="751.4" r="9.2" fill="#ffa488"/><circle cx="662.1" cy="751.4" r="9.2" fill="#ff8969"/><circle cx="692.0" cy="751.4" r="9.2" fill="#ff361c"/><circle cx="721.8" cy="751.4" r="9.2" fill="#ffa488"/><circle cx="751.6" cy="751.4" r="9.2" fill="#ffc0ab"/><circle cx="781.4" cy="751.4" r="9.2" fill="#d8beff"/><circle cx="811.2" cy="751.4" r="9.2" fill="#e0caff"/><circle cx="841.0" cy="751.4" r="9.2" fill="#e0caff"/><circle cx="870.8" cy="751.4" r="9.2" fill="#ffc0ab"/><circle cx="900.6" cy="751.4" r="9.2" fill="#e0caff"/><circle cx="930.4" cy="751.4" r="9.2" fill="#e0caff"/><circle cx="960.2" cy="751.4" r="9.2" fill="#e0caff"/>
<path d="M208.5 97.5V782.2H1011.8" fill="none" stroke="#000" stroke-width="4.5" stroke-linejoin="miter"/>
<path d="M229.8 784.4v9.1" stroke="#333" stroke-width="4.2" fill="none"/><text class="tk" x="229.8" y="827.3" text-anchor="middle">3000</text>
<path d="M446.5 784.4v9.1" stroke="#333" stroke-width="4.2" fill="none"/><text class="tk" x="446.5" y="827.3" text-anchor="middle">4000</text>
<path d="M663.1 784.4v9.1" stroke="#333" stroke-width="4.2" fill="none"/><text class="tk" x="663.1" y="827.3" text-anchor="middle">5000</text>
<path d="M879.8 784.4v9.1" stroke="#333" stroke-width="4.2" fill="none"/><text class="tk" x="879.8" y="827.3" text-anchor="middle">6000</text>
<path d="M206.3 222.0h-9.1" stroke="#333" stroke-width="4.2" fill="none"/><text class="tk" transform="translate(185.2,222.0) rotate(-90)" text-anchor="middle">-3000</text>
<path d="M206.3 438.8h-9.1" stroke="#333" stroke-width="4.2" fill="none"/><text class="tk" transform="translate(185.2,438.8) rotate(-90)" text-anchor="middle">-4000</text>
<path d="M206.3 655.5h-9.1" stroke="#333" stroke-width="4.2" fill="none"/><text class="tk" transform="translate(185.2,655.5) rotate(-90)" text-anchor="middle">-5000</text>
<text class="at" x="610.2" y="870.2" text-anchor="middle">coord x</text>
<text class="at" transform="translate(137.8,439.8) rotate(-90)" text-anchor="middle">coord y</text>
<rect x="1080.4" y="260" width="72" height="360" fill="url(#g5)"/>
<path d="M1080.4 286.7h14.4M1138 286.7h14.4" stroke="#fff" stroke-width="1.7" fill="none"/><text class="lg" x="1174.5" y="298.9">3</text>
<path d="M1080.4 371.1h14.4M1138 371.1h14.4" stroke="#fff" stroke-width="1.7" fill="none"/><text class="lg" x="1174.5" y="383.3">2</text>
<path d="M1080.4 455.5h14.4M1138 455.5h14.4" stroke="#fff" stroke-width="1.7" fill="none"/><text class="lg" x="1174.5" y="467.7">1</text>
<path d="M1080.4 540.0h14.4M1138 540.0h14.4" stroke="#fff" stroke-width="1.7" fill="none"/><text class="lg" x="1174.5" y="552.2">0</text>
</g></g>
</svg>
</body></html>
